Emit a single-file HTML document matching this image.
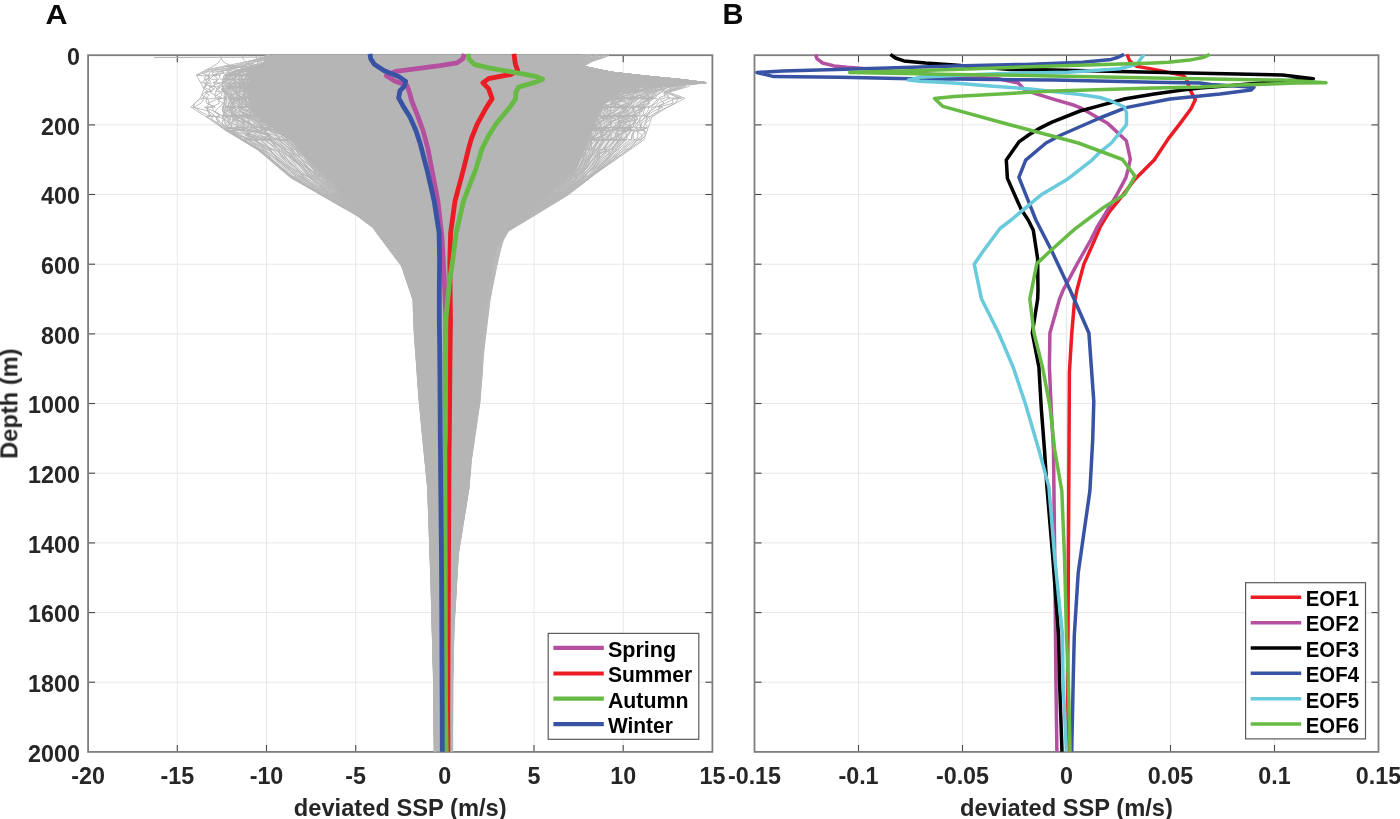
<!DOCTYPE html><html><head><meta charset="utf-8"><style>html,body{margin:0;padding:0;background:#fff;}svg{display:block;}text{font-family:"Liberation Sans",sans-serif;font-weight:bold;}</style></head><body><svg width="1400" height="819" viewBox="0 0 1400 819"><rect width="1400" height="819" fill="#fff"/><g stroke="#e7e9e9" stroke-width="1"><line x1="177.3" y1="55.2" x2="177.3" y2="751.9"/><line x1="266.5" y1="55.2" x2="266.5" y2="751.9"/><line x1="355.7" y1="55.2" x2="355.7" y2="751.9"/><line x1="444.8" y1="55.2" x2="444.8" y2="751.9"/><line x1="534.0" y1="55.2" x2="534.0" y2="751.9"/><line x1="623.2" y1="55.2" x2="623.2" y2="751.9"/><line x1="88.1" y1="124.9" x2="712.4" y2="124.9"/><line x1="88.1" y1="194.5" x2="712.4" y2="194.5"/><line x1="88.1" y1="264.2" x2="712.4" y2="264.2"/><line x1="88.1" y1="333.9" x2="712.4" y2="333.9"/><line x1="88.1" y1="403.5" x2="712.4" y2="403.5"/><line x1="88.1" y1="473.2" x2="712.4" y2="473.2"/><line x1="88.1" y1="542.9" x2="712.4" y2="542.9"/><line x1="88.1" y1="612.6" x2="712.4" y2="612.6"/><line x1="88.1" y1="682.2" x2="712.4" y2="682.2"/><line x1="858.5" y1="55.2" x2="858.5" y2="751.9"/><line x1="962.5" y1="55.2" x2="962.5" y2="751.9"/><line x1="1066.5" y1="55.2" x2="1066.5" y2="751.9"/><line x1="1170.5" y1="55.2" x2="1170.5" y2="751.9"/><line x1="1274.5" y1="55.2" x2="1274.5" y2="751.9"/><line x1="754.5" y1="124.9" x2="1378.5" y2="124.9"/><line x1="754.5" y1="194.5" x2="1378.5" y2="194.5"/><line x1="754.5" y1="264.2" x2="1378.5" y2="264.2"/><line x1="754.5" y1="333.9" x2="1378.5" y2="333.9"/><line x1="754.5" y1="403.5" x2="1378.5" y2="403.5"/><line x1="754.5" y1="473.2" x2="1378.5" y2="473.2"/><line x1="754.5" y1="542.9" x2="1378.5" y2="542.9"/><line x1="754.5" y1="612.6" x2="1378.5" y2="612.6"/><line x1="754.5" y1="682.2" x2="1378.5" y2="682.2"/></g><g stroke="#484848" stroke-width="1.1"><line x1="177.3" y1="751.9" x2="177.3" y2="744.9"/><line x1="177.3" y1="55.2" x2="177.3" y2="62.2"/><line x1="266.5" y1="751.9" x2="266.5" y2="744.9"/><line x1="266.5" y1="55.2" x2="266.5" y2="62.2"/><line x1="355.7" y1="751.9" x2="355.7" y2="744.9"/><line x1="355.7" y1="55.2" x2="355.7" y2="62.2"/><line x1="444.8" y1="751.9" x2="444.8" y2="744.9"/><line x1="444.8" y1="55.2" x2="444.8" y2="62.2"/><line x1="534.0" y1="751.9" x2="534.0" y2="744.9"/><line x1="534.0" y1="55.2" x2="534.0" y2="62.2"/><line x1="623.2" y1="751.9" x2="623.2" y2="744.9"/><line x1="623.2" y1="55.2" x2="623.2" y2="62.2"/><line x1="88.1" y1="124.9" x2="95.1" y2="124.9"/><line x1="712.4" y1="124.9" x2="705.4" y2="124.9"/><line x1="88.1" y1="194.5" x2="95.1" y2="194.5"/><line x1="712.4" y1="194.5" x2="705.4" y2="194.5"/><line x1="88.1" y1="264.2" x2="95.1" y2="264.2"/><line x1="712.4" y1="264.2" x2="705.4" y2="264.2"/><line x1="88.1" y1="333.9" x2="95.1" y2="333.9"/><line x1="712.4" y1="333.9" x2="705.4" y2="333.9"/><line x1="88.1" y1="403.5" x2="95.1" y2="403.5"/><line x1="712.4" y1="403.5" x2="705.4" y2="403.5"/><line x1="88.1" y1="473.2" x2="95.1" y2="473.2"/><line x1="712.4" y1="473.2" x2="705.4" y2="473.2"/><line x1="88.1" y1="542.9" x2="95.1" y2="542.9"/><line x1="712.4" y1="542.9" x2="705.4" y2="542.9"/><line x1="88.1" y1="612.6" x2="95.1" y2="612.6"/><line x1="712.4" y1="612.6" x2="705.4" y2="612.6"/><line x1="88.1" y1="682.2" x2="95.1" y2="682.2"/><line x1="712.4" y1="682.2" x2="705.4" y2="682.2"/></g><rect x="88.1" y="55.2" width="624.3" height="696.7" fill="none" stroke="#7e7e7e" stroke-width="1.8"/><g stroke="#484848" stroke-width="1.1"><line x1="858.5" y1="751.9" x2="858.5" y2="744.9"/><line x1="858.5" y1="55.2" x2="858.5" y2="62.2"/><line x1="962.5" y1="751.9" x2="962.5" y2="744.9"/><line x1="962.5" y1="55.2" x2="962.5" y2="62.2"/><line x1="1066.5" y1="751.9" x2="1066.5" y2="744.9"/><line x1="1066.5" y1="55.2" x2="1066.5" y2="62.2"/><line x1="1170.5" y1="751.9" x2="1170.5" y2="744.9"/><line x1="1170.5" y1="55.2" x2="1170.5" y2="62.2"/><line x1="1274.5" y1="751.9" x2="1274.5" y2="744.9"/><line x1="1274.5" y1="55.2" x2="1274.5" y2="62.2"/><line x1="754.5" y1="124.9" x2="761.5" y2="124.9"/><line x1="1378.5" y1="124.9" x2="1371.5" y2="124.9"/><line x1="754.5" y1="194.5" x2="761.5" y2="194.5"/><line x1="1378.5" y1="194.5" x2="1371.5" y2="194.5"/><line x1="754.5" y1="264.2" x2="761.5" y2="264.2"/><line x1="1378.5" y1="264.2" x2="1371.5" y2="264.2"/><line x1="754.5" y1="333.9" x2="761.5" y2="333.9"/><line x1="1378.5" y1="333.9" x2="1371.5" y2="333.9"/><line x1="754.5" y1="403.5" x2="761.5" y2="403.5"/><line x1="1378.5" y1="403.5" x2="1371.5" y2="403.5"/><line x1="754.5" y1="473.2" x2="761.5" y2="473.2"/><line x1="1378.5" y1="473.2" x2="1371.5" y2="473.2"/><line x1="754.5" y1="542.9" x2="761.5" y2="542.9"/><line x1="1378.5" y1="542.9" x2="1371.5" y2="542.9"/><line x1="754.5" y1="612.6" x2="761.5" y2="612.6"/><line x1="1378.5" y1="612.6" x2="1371.5" y2="612.6"/><line x1="754.5" y1="682.2" x2="761.5" y2="682.2"/><line x1="1378.5" y1="682.2" x2="1371.5" y2="682.2"/></g><rect x="754.5" y="55.2" width="624.0" height="696.7" fill="none" stroke="#7e7e7e" stroke-width="1.8"/><polygon points="270.0,55.0 266.0,64.7 258.0,70.0 250.0,74.4 246.0,90.0 250.0,110.0 262.0,121.7 290.0,140.0 316.0,169.3 345.0,198.6 376.0,225.0 392.0,240.0 404.0,258.4 415.5,300.0 416.5,330.0 421.0,400.0 429.0,488.0 432.0,576.0 434.5,680.0 435.0,751.6 451.3,751.6 451.5,680.0 452.5,629.0 456.5,554.0 466.0,488.0 468.0,460.0 474.0,402.0 476.0,350.0 481.0,300.0 487.0,270.0 494.0,246.0 505.0,231.0 525.6,212.0 551.0,192.0 575.0,171.0 585.0,150.0 592.0,131.0 605.0,102.4 625.0,90.0 641.0,85.5 670.0,84.7 705.0,82.6 679.0,79.3 645.0,76.0 612.0,72.3 583.0,66.3 581.0,55.0" fill="#b4b5b4"/><polygon points="268.0,55.0 267.9,55.2 266.8,57.0 266.1,58.0 265.4,59.2 264.3,61.0 263.7,62.0 262.9,63.2 255.5,66.0 254.0,66.3 249.5,67.2 236.6,70.0 233.1,71.2 230.0,72.3 223.9,75.0 223.8,75.2 223.7,76.0 223.0,79.2 223.0,79.3 222.3,82.6 222.2,83.2 221.9,84.7 221.5,86.4 221.4,87.2 221.0,89.0 221.7,91.2 222.0,92.3 222.9,95.2 223.7,98.0 223.8,98.3 224.0,99.2 223.2,103.2 222.5,107.0 222.5,107.2 222.2,111.2 222.9,115.2 223.0,116.0 223.1,116.7 223.6,119.2 224.7,123.2 226.7,127.2 227.0,128.0 228.0,130.0 230.0,131.2 236.6,135.2 243.2,139.2 244.0,139.7 244.5,140.0 259.4,149.0 261.0,150.0 265.7,154.0 270.3,158.0 280.9,167.0 289.0,174.0 291.4,176.0 293.0,177.4 306.0,185.0 318.0,192.0 321.5,194.0 323.2,195.0 337.2,203.0 352.9,212.0 359.0,215.5 359.3,215.7 366.5,221.0 375.0,227.2 377.0,230.0 377.7,231.0 383.5,239.0 384.2,240.0 389.9,248.0 392.8,252.0 396.3,257.0 402.8,266.0 403.0,266.3 404.2,270.0 405.8,275.0 408.8,284.0 411.7,293.0 414.0,300.0 414.1,302.0 414.4,311.0 414.7,320.0 415.0,329.0 415.0,330.0 415.6,338.0 416.2,347.0 416.4,350.0 416.9,356.0 417.5,365.0 418.1,374.0 418.8,383.0 419.4,392.0 420.0,400.0 420.1,401.0 420.2,402.0 420.9,410.0 421.8,419.0 422.6,428.0 423.5,437.0 424.3,446.0 425.2,455.0 425.7,460.0 426.0,464.0 426.9,473.0 427.7,482.0 428.3,488.0 428.4,491.0 428.7,500.0 429.0,509.0 429.3,518.0 429.6,527.0 429.9,536.0 430.2,545.0 430.6,554.0 430.9,563.0 431.2,572.0 431.3,576.0 431.4,581.0 431.7,590.0 431.9,599.0 432.1,608.0 432.4,617.0 432.6,626.0 432.7,629.0 432.8,635.0 433.1,644.0 433.3,653.0 433.5,662.0 433.8,671.0 434.0,680.0 434.1,689.0 434.2,698.0 434.2,707.0 434.3,716.0 434.4,725.0 434.5,734.0 434.5,743.0 434.6,751.6 434.6,751.8 435.0,751.8 435.0,751.6 434.9,743.0 434.9,734.0 434.8,725.0 434.8,716.0 434.7,707.0 434.6,698.0 434.6,689.0 434.5,680.0 434.3,671.0 434.1,662.0 433.9,653.0 433.6,644.0 433.4,635.0 433.3,629.0 433.2,626.0 433.0,617.0 432.8,608.0 432.6,599.0 432.3,590.0 432.1,581.0 432.0,576.0 431.9,572.0 431.6,563.0 431.2,554.0 430.9,545.0 430.6,536.0 430.3,527.0 430.0,518.0 429.7,509.0 429.4,500.0 429.1,491.0 429.0,488.0 428.5,482.0 427.6,473.0 426.8,464.0 426.5,460.0 426.0,455.0 425.2,446.0 424.4,437.0 423.5,428.0 422.7,419.0 421.9,410.0 421.2,402.0 421.1,401.0 421.0,400.0 420.5,392.0 419.9,383.0 419.3,374.0 418.8,365.0 418.2,356.0 417.8,350.0 417.6,347.0 417.0,338.0 416.5,330.0 416.5,329.0 416.2,320.0 415.9,311.0 415.6,302.0 415.5,300.0 413.6,293.0 411.1,284.0 408.6,275.0 407.2,270.0 406.2,266.3 406.1,266.0 403.1,257.0 399.8,252.0 397.2,248.0 392.0,240.0 390.9,239.0 382.4,231.0 381.3,230.0 378.3,227.2 371.3,221.0 365.1,215.7 364.8,215.5 360.7,212.0 350.2,203.0 341.4,195.0 340.4,194.0 338.5,192.0 331.5,185.0 324.0,177.4 322.6,176.0 320.7,174.0 314.0,167.0 306.0,158.0 302.4,154.0 298.9,150.0 298.0,149.0 290.0,140.0 289.5,139.7 288.8,139.2 282.7,135.2 276.5,131.2 274.7,130.0 271.6,128.0 270.4,127.2 264.3,123.2 259.4,119.2 256.9,116.7 256.2,116.0 255.3,115.2 251.2,111.2 249.4,107.2 249.4,107.0 248.6,103.2 247.8,99.2 247.7,98.3 247.6,98.0 247.0,95.2 246.5,92.3 246.2,91.2 246.3,89.0 246.7,87.2 246.9,86.4 247.4,84.7 247.7,83.2 247.9,82.6 248.7,79.3 248.8,79.2 249.6,76.0 249.8,75.2 249.8,75.0 253.8,72.3 255.8,71.2 258.0,70.0 262.2,67.2 263.6,66.3 264.0,66.0 266.6,63.2 267.1,62.0 267.5,61.0 268.3,59.2 268.8,58.0 269.2,57.0 269.9,55.2 270.0,55.0" fill="#b4b5b4" fill-opacity="0.3"/><polygon points="600.0,55.0 599.8,55.2 598.0,57.0 596.0,58.0 593.6,59.2 590.0,61.0 588.7,62.0 587.1,63.2 583.4,66.0 583.0,66.3 587.4,67.2 600.9,70.0 606.7,71.2 612.0,72.3 636.1,75.0 637.9,75.2 645.0,76.0 678.0,79.2 679.0,79.3 706.0,82.6 698.6,83.2 680.0,84.7 671.1,86.4 667.7,87.2 664.8,89.0 661.3,91.2 659.7,92.3 656.8,95.2 654.0,98.0 653.7,98.3 652.8,99.2 649.3,103.2 646.1,107.0 645.9,107.2 642.5,111.2 639.8,115.2 639.4,116.0 639.0,116.7 637.7,119.2 635.6,123.2 633.5,127.2 633.1,128.0 632.0,130.0 631.3,131.2 629.2,135.2 627.0,139.2 626.7,139.7 626.5,140.0 618.0,149.0 617.0,150.0 613.0,154.0 609.0,158.0 600.5,167.0 593.8,174.0 591.9,176.0 590.6,177.4 578.9,185.0 567.8,192.0 564.6,194.0 563.0,195.0 550.2,203.0 535.8,212.0 530.2,215.5 529.9,215.7 521.8,221.0 512.3,227.2 508.0,230.0 506.5,231.0 501.4,239.0 500.8,240.0 496.6,248.0 495.8,252.0 494.7,257.0 492.8,266.0 492.8,266.3 492.0,270.0 491.2,275.0 489.7,284.0 488.2,293.0 487.0,300.0 486.8,302.0 485.7,311.0 484.6,320.0 483.5,329.0 483.4,330.0 482.4,338.0 481.4,347.0 481.0,350.0 480.7,356.0 480.1,365.0 479.6,374.0 479.1,383.0 478.6,392.0 478.1,400.0 478.1,401.0 478.0,402.0 476.9,410.0 475.7,419.0 474.4,428.0 473.2,437.0 471.9,446.0 470.7,455.0 470.0,460.0 469.7,464.0 469.1,473.0 468.4,482.0 468.0,488.0 467.5,491.0 466.1,500.0 464.7,509.0 463.2,518.0 461.8,527.0 460.4,536.0 458.9,545.0 457.5,554.0 457.0,563.0 456.5,572.0 456.3,576.0 456.0,581.0 455.5,590.0 455.0,599.0 454.5,608.0 454.0,617.0 453.5,626.0 453.3,629.0 453.2,635.0 453.0,644.0 452.8,653.0 452.6,662.0 452.4,671.0 452.2,680.0 452.2,689.0 452.1,698.0 452.1,707.0 452.1,716.0 452.1,725.0 452.0,734.0 452.0,743.0 452.0,751.6 452.0,751.8 451.3,751.8 451.3,751.6 451.3,743.0 451.3,734.0 451.4,725.0 451.4,716.0 451.4,707.0 451.4,698.0 451.5,689.0 451.5,680.0 451.7,671.0 451.9,662.0 452.0,653.0 452.2,644.0 452.4,635.0 452.5,629.0 452.7,626.0 453.1,617.0 453.6,608.0 454.1,599.0 454.6,590.0 455.1,581.0 455.3,576.0 455.5,572.0 456.0,563.0 456.5,554.0 457.8,545.0 459.1,536.0 460.4,527.0 461.7,518.0 463.0,509.0 464.3,500.0 465.6,491.0 466.0,488.0 466.4,482.0 467.1,473.0 467.7,464.0 468.0,460.0 468.5,455.0 469.4,446.0 470.4,437.0 471.3,428.0 472.2,419.0 473.2,410.0 474.0,402.0 474.0,401.0 474.1,400.0 474.4,392.0 474.7,383.0 475.1,374.0 475.4,365.0 475.8,356.0 476.0,350.0 476.3,347.0 477.2,338.0 478.0,330.0 478.1,329.0 479.0,320.0 479.9,311.0 480.8,302.0 481.0,300.0 482.4,293.0 484.2,284.0 486.0,275.0 487.0,270.0 488.1,266.3 488.2,266.0 490.8,257.0 492.2,252.0 493.4,248.0 498.4,240.0 499.1,239.0 505.0,231.0 506.1,230.0 509.1,227.2 515.8,221.0 521.6,215.7 521.8,215.5 525.6,212.0 537.0,203.0 547.2,195.0 548.5,194.0 551.0,192.0 559.0,185.0 567.7,177.4 569.3,176.0 571.6,174.0 576.9,167.0 581.2,158.0 583.1,154.0 585.0,150.0 585.4,149.0 588.7,140.0 588.8,139.7 589.0,139.2 590.5,135.2 591.9,131.2 592.5,130.0 593.4,128.0 593.7,127.2 595.5,123.2 597.4,119.2 598.5,116.7 598.8,116.0 599.2,115.2 601.0,111.2 602.8,107.2 602.9,107.0 604.6,103.2 610.2,99.2 611.6,98.3 612.1,98.0 616.6,95.2 621.3,92.3 623.1,91.2 628.6,89.0 635.0,87.2 637.8,86.4 670.0,84.7 695.0,83.2 705.0,82.6 679.0,79.3 678.0,79.2 645.0,76.0 637.9,75.2 636.1,75.0 612.0,72.3 606.7,71.2 600.9,70.0 587.4,67.2 583.0,66.3 582.9,66.0 582.5,63.2 582.2,62.0 582.1,61.0 581.7,59.2 581.5,58.0 581.4,57.0 581.0,55.2 581.0,55.0" fill="#b4b5b4" fill-opacity="0.3"/><g fill="none" stroke="#b4b5b4" stroke-width="0.9" stroke-linejoin="bevel"><polyline points="269.6,55.0 269.8,55.2 269.2,57.0 268.8,58.0 268.3,59.2 267.5,61.0 267.1,62.0 266.6,63.2 264.0,66.0 263.6,66.3 262.2,67.2 256.1,70.0 253.8,71.2 249.7,72.3 249.7,75.0 249.8,75.2 249.6,76.0 248.8,79.2 246.2,79.3 247.9,82.6 247.7,83.2 247.4,84.7 243.1,86.4 246.1,87.2 246.3,89.0 246.2,91.2 244.9,92.3 247.0,95.2 247.6,98.0 247.7,98.3 246.1,99.2 243.6,103.2 249.4,107.0 249.4,107.2 251.2,111.2 255.3,115.2 256.2,116.0 256.9,116.7 255.4,119.2 264.3,123.2 270.4,127.2 268.8,128.0 274.7,130.0 276.5,131.2 282.7,135.2 288.8,139.2 289.5,139.7 289.9,140.0 298.0,149.0 298.9,150.0 300.9,154.0 304.8,158.0 312.5,167.0 319.2,174.0 320.8,176.0 324.0,177.4 330.7,185.0 338.5,192.0 340.4,194.0 341.4,195.0 349.6,203.0 360.3,212.0 364.8,215.5 364.7,215.7 371.3,221.0 378.3,227.2 381.3,230.0 382.4,231.0 390.8,239.0 391.4,240.0 397.2,248.0 399.6,252.0 403.1,257.0 405.9,266.0 406.1,266.3 407.1,270.0 408.5,275.0 411.1,284.0 413.6,293.0 415.4,300.0 415.6,302.0 415.9,311.0 416.1,320.0 416.5,329.0 416.5,330.0 416.9,338.0 417.6,347.0 417.8,350.0 418.2,356.0 418.8,365.0 419.3,374.0 419.9,383.0 420.5,392.0 421.0,400.0 421.1,401.0 421.2,402.0 421.9,410.0 422.7,419.0 423.5,428.0 424.3,437.0 425.2,446.0 426.0,455.0 426.5,460.0 426.8,464.0 427.6,473.0 428.5,482.0 429.0,488.0 429.1,491.0 429.4,500.0 429.7,509.0 430.0,518.0 430.3,527.0 430.6,536.0 430.9,545.0 431.2,554.0 431.5,563.0 431.8,572.0 432.0,576.0 432.1,581.0 432.3,590.0 432.6,599.0 432.8,608.0 433.0,617.0 433.2,626.0 433.3,629.0 433.4,635.0 433.6,644.0 433.8,653.0 434.1,662.0 434.3,671.0 434.5,680.0 434.5,689.0 434.6,698.0 434.7,707.0 434.7,716.0 434.8,725.0 434.9,734.0 434.9,743.0 435.0,751.6 435.0,751.8"/><polyline points="270.0,55.0 269.9,55.2 269.1,57.0 268.4,58.0 268.3,59.2 267.3,61.0 266.9,62.0 266.6,63.2 263.2,66.0 263.0,66.3 262.2,67.2 255.5,70.0 255.8,71.2 253.4,72.3 249.5,75.0 248.4,75.2 249.6,76.0 248.6,79.2 248.7,79.3 245.1,82.6 247.7,83.2 246.9,84.7 246.9,86.4 246.7,87.2 239.2,89.0 246.1,91.2 246.5,92.3 243.4,95.2 247.6,98.0 246.5,98.3 245.5,99.2 248.6,103.2 249.4,107.0 249.4,107.2 251.2,111.2 255.3,115.2 256.2,116.0 256.9,116.7 255.3,119.2 261.3,123.2 262.3,127.2 268.0,128.0 274.7,130.0 276.5,131.2 282.7,135.2 288.8,139.2 289.5,139.7 289.0,140.0 296.5,149.0 298.9,150.0 302.4,154.0 306.0,158.0 313.7,167.0 320.0,174.0 321.7,176.0 324.0,177.4 329.2,185.0 337.3,192.0 340.3,194.0 341.4,195.0 350.2,203.0 360.6,212.0 364.8,215.5 364.9,215.7 371.1,221.0 378.1,227.2 381.1,230.0 382.4,231.0 390.7,239.0 392.0,240.0 397.2,248.0 399.2,252.0 403.1,257.0 405.8,266.0 406.2,266.3 407.1,270.0 408.4,275.0 411.0,284.0 413.5,293.0 415.5,300.0 415.6,302.0 415.9,311.0 416.2,320.0 416.4,329.0 416.5,330.0 416.9,338.0 417.6,347.0 417.8,350.0 418.1,356.0 418.8,365.0 419.3,374.0 419.9,383.0 420.5,392.0 421.0,400.0 421.0,401.0 421.2,402.0 421.9,410.0 422.7,419.0 423.5,428.0 424.4,437.0 425.2,446.0 425.9,455.0 426.4,460.0 426.8,464.0 427.6,473.0 428.4,482.0 429.0,488.0 429.0,491.0 429.4,500.0 429.7,509.0 430.0,518.0 430.3,527.0 430.6,536.0 430.9,545.0 431.2,554.0 431.6,563.0 431.9,572.0 432.0,576.0 432.0,581.0 432.3,590.0 432.5,599.0 432.7,608.0 433.0,617.0 433.2,626.0 433.3,629.0 433.4,635.0 433.6,644.0 433.8,653.0 434.1,662.0 434.3,671.0 434.5,680.0 434.6,689.0 434.6,698.0 434.7,707.0 434.7,716.0 434.8,725.0 434.9,734.0 434.9,743.0 435.0,751.6 435.0,751.8"/><polyline points="269.9,55.0 269.9,55.2 269.0,57.0 268.8,58.0 267.7,59.2 266.7,61.0 267.1,62.0 266.5,63.2 263.6,66.0 262.1,66.3 259.5,67.2 258.0,70.0 255.8,71.2 253.8,72.3 249.8,75.0 249.8,75.2 247.9,76.0 248.8,79.2 244.1,79.3 244.8,82.6 247.7,83.2 247.4,84.7 246.9,86.4 242.5,87.2 246.3,89.0 246.2,91.2 245.9,92.3 245.5,95.2 247.6,98.0 243.1,98.3 246.6,99.2 246.8,103.2 249.4,107.0 248.8,107.2 250.9,111.2 255.3,115.2 254.3,116.0 256.9,116.7 258.5,119.2 264.3,123.2 260.3,127.2 268.9,128.0 269.4,130.0 270.9,131.2 282.7,135.2 288.8,139.2 289.5,139.7 287.1,140.0 296.8,149.0 296.6,150.0 300.0,154.0 306.0,158.0 312.6,167.0 317.3,174.0 322.5,176.0 324.0,177.4 331.1,185.0 338.3,192.0 339.6,194.0 341.4,195.0 349.8,203.0 360.7,212.0 364.5,215.5 364.5,215.7 370.9,221.0 378.3,227.2 381.2,230.0 382.4,231.0 390.6,239.0 391.8,240.0 397.2,248.0 399.5,252.0 402.9,257.0 405.9,266.0 406.1,266.3 407.1,270.0 408.6,275.0 411.1,284.0 413.5,293.0 415.4,300.0 415.5,302.0 415.7,311.0 416.2,320.0 416.4,329.0 416.4,330.0 417.0,338.0 417.5,347.0 417.8,350.0 418.1,356.0 418.7,365.0 419.2,374.0 419.9,383.0 420.4,392.0 421.0,400.0 421.0,401.0 421.2,402.0 421.9,410.0 422.7,419.0 423.5,428.0 424.4,437.0 425.2,446.0 426.0,455.0 426.5,460.0 426.8,464.0 427.6,473.0 428.5,482.0 429.0,488.0 429.1,491.0 429.4,500.0 429.7,509.0 430.0,518.0 430.3,527.0 430.6,536.0 430.9,545.0 431.2,554.0 431.5,563.0 431.8,572.0 432.0,576.0 432.1,581.0 432.3,590.0 432.5,599.0 432.7,608.0 432.9,617.0 433.2,626.0 433.3,629.0 433.4,635.0 433.6,644.0 433.8,653.0 434.1,662.0 434.3,671.0 434.5,680.0 434.6,689.0 434.6,698.0 434.7,707.0 434.7,716.0 434.8,725.0 434.9,734.0 434.9,743.0 435.0,751.6 435.0,751.8"/><polyline points="269.7,55.0 269.8,55.2 269.2,57.0 268.7,58.0 268.3,59.2 267.5,61.0 267.1,62.0 266.1,63.2 262.2,66.0 263.6,66.3 260.3,67.2 254.4,70.0 255.8,71.2 252.8,72.3 248.7,75.0 248.1,75.2 249.6,76.0 248.4,79.2 244.8,79.3 243.4,82.6 241.8,83.2 247.0,84.7 241.0,86.4 243.8,87.2 246.3,89.0 243.2,91.2 246.1,92.3 244.6,95.2 246.7,98.0 243.6,98.3 246.1,99.2 248.1,103.2 245.5,107.0 247.5,107.2 251.0,111.2 249.6,115.2 255.9,116.0 256.9,116.7 259.4,119.2 264.3,123.2 270.4,127.2 261.2,128.0 274.7,130.0 274.3,131.2 282.7,135.2 288.8,139.2 280.4,139.7 286.2,140.0 297.1,149.0 297.0,150.0 301.9,154.0 305.4,158.0 313.6,167.0 320.3,174.0 320.7,176.0 321.8,177.4 329.8,185.0 337.6,192.0 340.4,194.0 340.6,195.0 350.0,203.0 360.1,212.0 364.4,215.5 364.6,215.7 371.1,221.0 378.3,227.2 381.0,230.0 381.9,231.0 390.9,239.0 391.6,240.0 396.5,248.0 399.8,252.0 402.3,257.0 406.0,266.0 406.2,266.3 406.9,270.0 408.4,275.0 411.0,284.0 413.4,293.0 415.5,300.0 415.4,302.0 415.8,311.0 416.1,320.0 416.4,329.0 416.4,330.0 416.9,338.0 417.6,347.0 417.7,350.0 418.1,356.0 418.7,365.0 419.3,374.0 419.9,383.0 420.5,392.0 420.9,400.0 421.0,401.0 421.1,402.0 421.8,410.0 422.7,419.0 423.5,428.0 424.3,437.0 425.1,446.0 426.0,455.0 426.4,460.0 426.7,464.0 427.6,473.0 428.5,482.0 429.0,488.0 429.0,491.0 429.4,500.0 429.7,509.0 430.0,518.0 430.3,527.0 430.6,536.0 430.9,545.0 431.2,554.0 431.5,563.0 431.8,572.0 431.9,576.0 432.0,581.0 432.3,590.0 432.5,599.0 432.7,608.0 433.0,617.0 433.2,626.0 433.2,629.0 433.4,635.0 433.6,644.0 433.8,653.0 434.1,662.0 434.3,671.0 434.5,680.0 434.6,689.0 434.6,698.0 434.7,707.0 434.7,716.0 434.8,725.0 434.9,734.0 434.9,743.0 435.0,751.6 435.0,751.8"/><polyline points="270.0,55.0 269.7,55.2 268.8,57.0 268.5,58.0 268.2,59.2 267.1,61.0 267.1,62.0 266.2,63.2 262.2,66.0 263.6,66.3 262.2,67.2 256.2,70.0 252.0,71.2 249.0,72.3 246.3,75.0 249.7,75.2 249.6,76.0 246.3,79.2 245.9,79.3 247.9,82.6 245.8,83.2 244.7,84.7 242.5,86.4 246.7,87.2 243.1,89.0 246.2,91.2 245.8,92.3 245.5,95.2 242.3,98.0 238.1,98.3 245.6,99.2 245.6,103.2 244.8,107.0 249.4,107.2 247.0,111.2 255.3,115.2 248.4,116.0 249.6,116.7 255.1,119.2 264.3,123.2 260.1,127.2 267.4,128.0 270.9,130.0 270.6,131.2 282.7,135.2 283.6,139.2 281.8,139.7 286.2,140.0 295.1,149.0 297.7,150.0 298.9,154.0 303.2,158.0 311.6,167.0 319.2,174.0 319.4,176.0 320.3,177.4 329.4,185.0 336.3,192.0 338.1,194.0 339.0,195.0 349.1,203.0 360.3,212.0 364.5,215.5 364.7,215.7 370.9,221.0 378.0,227.2 381.1,230.0 382.0,231.0 390.7,239.0 391.1,240.0 396.8,248.0 399.2,252.0 402.8,257.0 405.9,266.0 406.0,266.3 406.8,270.0 408.4,275.0 410.9,284.0 413.5,293.0 415.4,300.0 415.4,302.0 415.7,311.0 416.1,320.0 416.4,329.0 416.4,330.0 416.9,338.0 417.6,347.0 417.7,350.0 418.0,356.0 418.7,365.0 419.2,374.0 419.8,383.0 420.4,392.0 420.9,400.0 420.9,401.0 421.1,402.0 421.9,410.0 422.6,419.0 423.5,428.0 424.3,437.0 425.2,446.0 425.9,455.0 426.4,460.0 426.7,464.0 427.6,473.0 428.4,482.0 428.9,488.0 429.0,491.0 429.4,500.0 429.7,509.0 430.0,518.0 430.3,527.0 430.6,536.0 430.8,545.0 431.2,554.0 431.5,563.0 431.8,572.0 431.9,576.0 432.1,581.0 432.2,590.0 432.5,599.0 432.8,608.0 433.0,617.0 433.2,626.0 433.2,629.0 433.4,635.0 433.6,644.0 433.8,653.0 434.0,662.0 434.3,671.0 434.5,680.0 434.5,689.0 434.6,698.0 434.7,707.0 434.7,716.0 434.8,725.0 434.9,734.0 434.9,743.0 435.0,751.6 435.0,751.8"/><polyline points="269.9,55.0 269.9,55.2 269.2,57.0 268.5,58.0 267.7,59.2 267.3,61.0 266.5,62.0 266.2,63.2 263.1,66.0 262.5,66.3 261.0,67.2 253.8,70.0 252.6,71.2 253.0,72.3 247.1,75.0 247.6,75.2 245.9,76.0 245.9,79.2 245.3,79.3 247.9,82.6 244.4,83.2 241.6,84.7 246.9,86.4 240.3,87.2 243.1,89.0 244.5,91.2 246.5,92.3 242.2,95.2 247.6,98.0 246.7,98.3 244.3,99.2 248.6,103.2 249.4,107.0 249.4,107.2 248.8,111.2 250.4,115.2 251.7,116.0 252.4,116.7 257.3,119.2 260.0,123.2 269.4,127.2 258.6,128.0 269.4,130.0 276.5,131.2 282.7,135.2 277.2,139.2 289.5,139.7 286.6,140.0 293.8,149.0 297.0,150.0 297.4,154.0 300.3,158.0 312.0,167.0 316.3,174.0 320.8,176.0 322.4,177.4 328.9,185.0 336.4,192.0 339.1,194.0 339.1,195.0 349.7,203.0 360.3,212.0 364.6,215.5 364.4,215.7 370.7,221.0 377.9,227.2 381.2,230.0 381.9,231.0 390.1,239.0 391.8,240.0 396.8,248.0 399.0,252.0 402.3,257.0 405.8,266.0 405.8,266.3 406.9,270.0 408.3,275.0 410.9,284.0 413.5,293.0 415.4,300.0 415.5,302.0 415.6,311.0 416.0,320.0 416.3,329.0 416.4,330.0 416.9,338.0 417.5,347.0 417.6,350.0 418.1,356.0 418.6,365.0 419.3,374.0 419.8,383.0 420.3,392.0 421.0,400.0 421.0,401.0 421.1,402.0 421.8,410.0 422.7,419.0 423.5,428.0 424.2,437.0 425.1,446.0 426.0,455.0 426.4,460.0 426.8,464.0 427.5,473.0 428.4,482.0 428.9,488.0 429.0,491.0 429.4,500.0 429.7,509.0 429.9,518.0 430.3,527.0 430.6,536.0 430.8,545.0 431.2,554.0 431.5,563.0 431.8,572.0 431.9,576.0 432.1,581.0 432.3,590.0 432.5,599.0 432.7,608.0 433.0,617.0 433.2,626.0 433.2,629.0 433.4,635.0 433.6,644.0 433.8,653.0 434.1,662.0 434.2,671.0 434.5,680.0 434.5,689.0 434.6,698.0 434.6,707.0 434.7,716.0 434.8,725.0 434.8,734.0 434.9,743.0 435.0,751.6 434.9,751.8"/><polyline points="269.5,55.0 269.4,55.2 268.9,57.0 268.4,58.0 268.0,59.2 267.5,61.0 266.7,62.0 266.1,63.2 263.6,66.0 260.7,66.3 262.2,67.2 257.2,70.0 254.7,71.2 247.9,72.3 247.4,75.0 247.6,75.2 248.8,76.0 247.7,79.2 248.7,79.3 242.3,82.6 243.2,83.2 241.8,84.7 245.6,86.4 237.4,87.2 245.7,89.0 246.2,91.2 244.3,92.3 243.8,95.2 243.0,98.0 247.3,98.3 243.6,99.2 241.3,103.2 248.5,107.0 248.2,107.2 251.2,111.2 250.7,115.2 249.4,116.0 250.3,116.7 252.2,119.2 254.0,123.2 264.7,127.2 262.1,128.0 273.6,130.0 274.7,131.2 276.1,135.2 287.1,139.2 281.6,139.7 282.1,140.0 292.8,149.0 295.5,150.0 299.2,154.0 299.8,158.0 311.1,167.0 316.8,174.0 319.3,176.0 320.3,177.4 327.4,185.0 336.5,192.0 339.3,194.0 338.2,195.0 348.5,203.0 359.6,212.0 364.2,215.5 364.2,215.7 370.5,221.0 377.8,227.2 380.9,230.0 381.9,231.0 389.9,239.0 391.0,240.0 396.2,248.0 399.2,252.0 402.9,257.0 405.6,266.0 405.7,266.3 406.8,270.0 408.1,275.0 410.7,284.0 413.4,293.0 415.3,300.0 415.4,302.0 415.6,311.0 416.0,320.0 416.3,329.0 416.3,330.0 416.8,338.0 417.5,347.0 417.6,350.0 418.1,356.0 418.6,365.0 419.1,374.0 419.7,383.0 420.3,392.0 420.9,400.0 421.0,401.0 421.0,402.0 421.8,410.0 422.6,419.0 423.5,428.0 424.3,437.0 425.1,446.0 425.9,455.0 426.4,460.0 426.8,464.0 427.6,473.0 428.3,482.0 428.9,488.0 429.0,491.0 429.3,500.0 429.7,509.0 429.9,518.0 430.2,527.0 430.6,536.0 430.9,545.0 431.1,554.0 431.5,563.0 431.7,572.0 431.9,576.0 432.0,581.0 432.2,590.0 432.4,599.0 432.7,608.0 432.9,617.0 433.1,626.0 433.2,629.0 433.3,635.0 433.6,644.0 433.8,653.0 434.0,662.0 434.2,671.0 434.4,680.0 434.5,689.0 434.6,698.0 434.6,707.0 434.7,716.0 434.8,725.0 434.8,734.0 434.9,743.0 434.9,751.6 435.0,751.8"/><polyline points="269.8,55.0 269.6,55.2 269.1,57.0 268.1,58.0 268.3,59.2 266.6,61.0 266.8,62.0 266.5,63.2 262.6,66.0 263.6,66.3 259.7,67.2 253.2,70.0 253.8,71.2 251.3,72.3 243.6,75.0 247.8,75.2 245.8,76.0 244.2,79.2 241.0,79.3 245.5,82.6 244.0,83.2 240.8,84.7 246.9,86.4 243.7,87.2 246.3,89.0 246.2,91.2 238.1,92.3 243.0,95.2 240.6,98.0 244.8,98.3 243.1,99.2 246.1,103.2 247.0,107.0 245.7,107.2 246.7,111.2 245.7,115.2 252.0,116.0 250.7,116.7 255.2,119.2 258.0,123.2 269.8,127.2 260.3,128.0 270.4,130.0 269.6,131.2 277.0,135.2 277.7,139.2 280.6,139.7 283.4,140.0 292.1,149.0 292.9,150.0 296.0,154.0 300.1,158.0 307.5,167.0 314.0,174.0 317.3,176.0 321.2,177.4 326.1,185.0 333.7,192.0 338.0,194.0 339.1,195.0 349.4,203.0 359.4,212.0 364.2,215.5 363.8,215.7 371.1,221.0 377.9,227.2 380.6,230.0 381.8,231.0 390.1,239.0 390.8,240.0 396.3,248.0 398.9,252.0 402.1,257.0 405.7,266.0 405.8,266.3 406.7,270.0 408.2,275.0 410.7,284.0 413.4,293.0 415.2,300.0 415.4,302.0 415.6,311.0 416.1,320.0 416.3,329.0 416.4,330.0 416.7,338.0 417.4,347.0 417.7,350.0 418.0,356.0 418.5,365.0 419.2,374.0 419.7,383.0 420.4,392.0 420.9,400.0 420.9,401.0 420.9,402.0 421.8,410.0 422.6,419.0 423.4,428.0 424.2,437.0 425.1,446.0 425.9,455.0 426.4,460.0 426.7,464.0 427.5,473.0 428.3,482.0 428.9,488.0 429.0,491.0 429.3,500.0 429.6,509.0 429.9,518.0 430.3,527.0 430.6,536.0 430.8,545.0 431.2,554.0 431.5,563.0 431.7,572.0 432.0,576.0 432.0,581.0 432.3,590.0 432.5,599.0 432.7,608.0 432.9,617.0 433.1,626.0 433.2,629.0 433.3,635.0 433.6,644.0 433.8,653.0 434.0,662.0 434.2,671.0 434.5,680.0 434.5,689.0 434.5,698.0 434.6,707.0 434.7,716.0 434.8,725.0 434.8,734.0 434.9,743.0 434.9,751.6 434.9,751.8"/><polyline points="269.1,55.0 269.7,55.2 268.9,57.0 268.4,58.0 267.7,59.2 266.9,61.0 266.6,62.0 265.7,63.2 262.1,66.0 262.3,66.3 262.2,67.2 252.7,70.0 254.2,71.2 251.4,72.3 245.9,75.0 248.7,75.2 247.4,76.0 244.3,79.2 245.4,79.3 242.9,82.6 245.8,83.2 243.8,84.7 245.5,86.4 243.3,87.2 241.4,89.0 242.8,91.2 246.0,92.3 243.6,95.2 243.4,98.0 241.1,98.3 244.0,99.2 245.5,103.2 248.2,107.0 239.7,107.2 249.2,111.2 253.7,115.2 251.2,116.0 256.9,116.7 249.7,119.2 257.1,123.2 261.1,127.2 268.7,128.0 269.4,130.0 264.9,131.2 270.9,135.2 268.4,139.2 277.0,139.7 285.8,140.0 291.3,149.0 293.0,150.0 294.6,154.0 300.1,158.0 307.7,167.0 315.7,174.0 316.6,176.0 316.9,177.4 327.8,185.0 336.7,192.0 338.0,194.0 337.2,195.0 347.9,203.0 359.5,212.0 364.1,215.5 363.9,215.7 370.4,221.0 377.8,227.2 380.7,230.0 381.6,231.0 389.8,239.0 390.5,240.0 395.6,248.0 399.2,252.0 402.3,257.0 405.6,266.0 405.6,266.3 406.9,270.0 408.2,275.0 410.7,284.0 413.3,293.0 415.3,300.0 415.3,302.0 415.6,311.0 415.9,320.0 416.2,329.0 416.2,330.0 416.8,338.0 417.4,347.0 417.5,350.0 417.9,356.0 418.5,365.0 419.1,374.0 419.7,383.0 420.3,392.0 420.9,400.0 420.9,401.0 421.0,402.0 421.7,410.0 422.6,419.0 423.4,428.0 424.2,437.0 425.0,446.0 425.8,455.0 426.3,460.0 426.7,464.0 427.5,473.0 428.3,482.0 428.9,488.0 429.0,491.0 429.3,500.0 429.6,509.0 429.9,518.0 430.2,527.0 430.5,536.0 430.8,545.0 431.2,554.0 431.4,563.0 431.7,572.0 431.9,576.0 432.0,581.0 432.3,590.0 432.4,599.0 432.6,608.0 432.8,617.0 433.1,626.0 433.2,629.0 433.3,635.0 433.5,644.0 433.8,653.0 433.9,662.0 434.2,671.0 434.4,680.0 434.5,689.0 434.6,698.0 434.6,707.0 434.7,716.0 434.7,725.0 434.8,734.0 434.9,743.0 434.9,751.6 434.9,751.8"/><polyline points="269.2,55.0 269.8,55.2 268.5,57.0 267.9,58.0 267.6,59.2 266.4,61.0 267.1,62.0 266.0,63.2 263.4,66.0 262.1,66.3 259.9,67.2 252.9,70.0 253.4,71.2 247.2,72.3 249.0,75.0 242.3,75.2 245.3,76.0 248.4,79.2 248.4,79.3 247.6,82.6 245.4,83.2 242.2,84.7 238.8,86.4 239.9,87.2 244.9,89.0 246.2,91.2 242.6,92.3 245.9,95.2 243.5,98.0 244.8,98.3 237.2,99.2 248.3,103.2 243.5,107.0 239.4,107.2 247.0,111.2 251.8,115.2 244.4,116.0 256.9,116.7 258.9,119.2 261.8,123.2 260.5,127.2 259.9,128.0 266.6,130.0 257.7,131.2 275.0,135.2 280.3,139.2 282.4,139.7 278.9,140.0 290.4,149.0 292.1,150.0 292.7,154.0 297.1,158.0 306.1,167.0 316.1,174.0 317.8,176.0 318.2,177.4 326.8,185.0 334.8,192.0 336.9,194.0 337.4,195.0 348.1,203.0 359.1,212.0 363.8,215.5 364.0,215.7 370.4,221.0 377.6,227.2 380.4,230.0 381.6,231.0 389.4,239.0 390.4,240.0 395.6,248.0 398.5,252.0 401.5,257.0 405.4,266.0 405.7,266.3 406.8,270.0 408.2,275.0 410.6,284.0 413.2,293.0 415.2,300.0 415.3,302.0 415.5,311.0 415.7,320.0 416.2,329.0 416.1,330.0 416.7,338.0 417.3,347.0 417.5,350.0 418.0,356.0 418.5,365.0 419.0,374.0 419.8,383.0 420.3,392.0 420.8,400.0 420.9,401.0 421.0,402.0 421.7,410.0 422.5,419.0 423.3,428.0 424.2,437.0 425.0,446.0 425.8,455.0 426.3,460.0 426.7,464.0 427.5,473.0 428.3,482.0 428.9,488.0 428.9,491.0 429.3,500.0 429.6,509.0 429.9,518.0 430.2,527.0 430.6,536.0 430.8,545.0 431.1,554.0 431.5,563.0 431.7,572.0 431.9,576.0 432.0,581.0 432.2,590.0 432.5,599.0 432.7,608.0 432.9,617.0 433.1,626.0 433.1,629.0 433.3,635.0 433.5,644.0 433.7,653.0 434.0,662.0 434.2,671.0 434.4,680.0 434.5,689.0 434.5,698.0 434.6,707.0 434.7,716.0 434.7,725.0 434.8,734.0 434.8,743.0 434.9,751.6 434.9,751.8"/><polyline points="269.7,55.0 269.4,55.2 268.6,57.0 268.3,58.0 267.7,59.2 266.5,61.0 266.3,62.0 266.0,63.2 261.5,66.0 260.7,66.3 258.5,67.2 251.6,70.0 251.5,71.2 247.9,72.3 243.1,75.0 243.5,75.2 248.2,76.0 242.9,79.2 241.9,79.3 240.8,82.6 242.6,83.2 241.4,84.7 245.7,86.4 244.7,87.2 246.3,89.0 241.2,91.2 236.9,92.3 237.2,95.2 244.8,98.0 240.6,98.3 239.3,99.2 243.6,103.2 248.5,107.0 239.4,107.2 245.6,111.2 249.2,115.2 242.9,116.0 247.5,116.7 248.2,119.2 248.8,123.2 261.0,127.2 265.7,128.0 260.2,130.0 265.8,131.2 268.6,135.2 276.4,139.2 282.4,139.7 279.4,140.0 289.6,149.0 290.5,150.0 294.0,154.0 297.2,158.0 306.0,167.0 315.0,174.0 314.6,176.0 318.6,177.4 323.4,185.0 334.4,192.0 336.1,194.0 336.2,195.0 347.3,203.0 359.3,212.0 363.8,215.5 363.7,215.7 370.1,221.0 377.5,227.2 380.3,230.0 381.4,231.0 389.1,239.0 389.7,240.0 395.8,248.0 397.2,252.0 401.6,257.0 405.2,266.0 405.2,266.3 406.4,270.0 407.9,275.0 410.5,284.0 413.0,293.0 415.3,300.0 415.2,302.0 415.5,311.0 415.9,320.0 416.1,329.0 416.1,330.0 416.7,338.0 417.3,347.0 417.4,350.0 418.0,356.0 418.5,365.0 419.1,374.0 419.6,383.0 420.3,392.0 420.7,400.0 420.9,401.0 420.9,402.0 421.7,410.0 422.5,419.0 423.4,428.0 424.2,437.0 425.0,446.0 425.8,455.0 426.2,460.0 426.7,464.0 427.4,473.0 428.3,482.0 428.9,488.0 428.9,491.0 429.2,500.0 429.6,509.0 429.9,518.0 430.1,527.0 430.5,536.0 430.8,545.0 431.1,554.0 431.4,563.0 431.7,572.0 431.9,576.0 431.9,581.0 432.2,590.0 432.4,599.0 432.6,608.0 432.8,617.0 433.1,626.0 433.1,629.0 433.3,635.0 433.5,644.0 433.7,653.0 433.9,662.0 434.2,671.0 434.4,680.0 434.4,689.0 434.5,698.0 434.6,707.0 434.6,716.0 434.7,725.0 434.8,734.0 434.8,743.0 434.9,751.6 434.9,751.8"/><polyline points="269.2,55.0 269.1,55.2 268.7,57.0 268.4,58.0 267.4,59.2 266.9,61.0 266.2,62.0 266.1,63.2 261.2,66.0 260.5,66.3 258.3,67.2 254.8,70.0 253.7,71.2 250.7,72.3 241.8,75.0 247.7,75.2 241.1,76.0 237.5,79.2 243.7,79.3 241.7,82.6 238.6,83.2 238.4,84.7 241.9,86.4 240.6,87.2 239.4,89.0 240.5,91.2 238.7,92.3 239.9,95.2 238.2,98.0 245.5,98.3 238.8,99.2 239.9,103.2 242.7,107.0 241.3,107.2 240.8,111.2 245.9,115.2 248.3,116.0 247.1,116.7 252.6,119.2 259.2,123.2 262.8,127.2 263.4,128.0 261.6,130.0 260.7,131.2 269.5,135.2 270.2,139.2 278.0,139.7 279.3,140.0 289.0,149.0 290.4,150.0 293.3,154.0 294.7,158.0 307.3,167.0 311.7,174.0 314.5,176.0 314.9,177.4 325.4,185.0 332.5,192.0 335.9,194.0 336.2,195.0 347.8,203.0 358.5,212.0 363.1,215.5 363.9,215.7 369.9,221.0 377.6,227.2 380.0,230.0 381.2,231.0 388.8,239.0 389.8,240.0 395.6,248.0 397.5,252.0 401.0,257.0 405.4,266.0 405.3,266.3 406.4,270.0 407.9,275.0 410.6,284.0 413.0,293.0 415.1,300.0 415.1,302.0 415.4,311.0 415.7,320.0 416.1,329.0 416.0,330.0 416.7,338.0 417.3,347.0 417.3,350.0 417.9,356.0 418.4,365.0 419.1,374.0 419.6,383.0 420.2,392.0 420.8,400.0 420.9,401.0 420.9,402.0 421.6,410.0 422.5,419.0 423.3,428.0 424.1,437.0 425.0,446.0 425.8,455.0 426.2,460.0 426.5,464.0 427.5,473.0 428.2,482.0 428.8,488.0 429.0,491.0 429.3,500.0 429.5,509.0 429.9,518.0 430.1,527.0 430.5,536.0 430.8,545.0 431.0,554.0 431.4,563.0 431.7,572.0 431.8,576.0 431.9,581.0 432.2,590.0 432.4,599.0 432.6,608.0 432.8,617.0 433.0,626.0 433.1,629.0 433.3,635.0 433.5,644.0 433.7,653.0 433.9,662.0 434.2,671.0 434.3,680.0 434.4,689.0 434.5,698.0 434.6,707.0 434.7,716.0 434.7,725.0 434.8,734.0 434.9,743.0 434.9,751.6 434.9,751.8"/><polyline points="269.7,55.0 269.2,55.2 268.2,57.0 267.9,58.0 267.9,59.2 267.2,61.0 265.8,62.0 265.7,63.2 261.6,66.0 262.0,66.3 261.1,67.2 247.0,70.0 250.6,71.2 247.4,72.3 245.3,75.0 238.3,75.2 243.0,76.0 241.7,79.2 241.2,79.3 240.5,82.6 236.7,83.2 244.6,84.7 238.0,86.4 241.0,87.2 240.0,89.0 240.7,91.2 238.4,92.3 243.2,95.2 242.0,98.0 239.4,98.3 242.3,99.2 242.5,103.2 240.7,107.0 241.4,107.2 243.8,111.2 245.8,115.2 249.6,116.0 244.3,116.7 253.0,119.2 259.3,123.2 256.0,127.2 264.7,128.0 265.8,130.0 264.2,131.2 266.2,135.2 277.9,139.2 278.5,139.7 277.6,140.0 286.2,149.0 288.7,150.0 291.5,154.0 293.7,158.0 304.7,167.0 312.0,174.0 314.8,176.0 316.0,177.4 325.4,185.0 333.5,192.0 335.4,194.0 335.9,195.0 346.2,203.0 358.6,212.0 363.1,215.5 363.7,215.7 369.5,221.0 377.1,227.2 380.1,230.0 381.0,231.0 388.7,239.0 389.5,240.0 395.3,248.0 398.2,252.0 400.9,257.0 405.3,266.0 405.2,266.3 406.5,270.0 407.9,275.0 410.3,284.0 412.9,293.0 415.1,300.0 415.2,302.0 415.4,311.0 415.8,320.0 416.1,329.0 416.1,330.0 416.7,338.0 417.2,347.0 417.4,350.0 417.8,356.0 418.5,365.0 419.0,374.0 419.6,383.0 420.1,392.0 420.7,400.0 420.8,401.0 420.9,402.0 421.6,410.0 422.5,419.0 423.3,428.0 424.1,437.0 425.0,446.0 425.7,455.0 426.2,460.0 426.6,464.0 427.4,473.0 428.3,482.0 428.8,488.0 428.9,491.0 429.3,500.0 429.5,509.0 429.9,518.0 430.1,527.0 430.4,536.0 430.8,545.0 431.1,554.0 431.3,563.0 431.7,572.0 431.8,576.0 431.9,581.0 432.2,590.0 432.4,599.0 432.6,608.0 432.8,617.0 433.0,626.0 433.1,629.0 433.2,635.0 433.5,644.0 433.7,653.0 434.0,662.0 434.1,671.0 434.4,680.0 434.4,689.0 434.5,698.0 434.6,707.0 434.6,716.0 434.7,725.0 434.8,734.0 434.8,743.0 434.9,751.6 434.9,751.8"/><polyline points="269.3,55.0 269.5,55.2 268.7,57.0 268.1,58.0 267.5,59.2 266.7,61.0 265.7,62.0 265.7,63.2 261.7,66.0 260.4,66.3 260.7,67.2 250.2,70.0 247.2,71.2 242.8,72.3 244.0,75.0 242.7,75.2 240.7,76.0 241.4,79.2 244.2,79.3 237.3,82.6 240.2,83.2 238.3,84.7 241.5,86.4 236.1,87.2 239.0,89.0 240.1,91.2 236.6,92.3 236.6,95.2 242.1,98.0 237.6,98.3 236.3,99.2 239.8,103.2 244.5,107.0 239.2,107.2 238.8,111.2 248.1,115.2 239.9,116.0 246.6,116.7 248.3,119.2 247.2,123.2 255.3,127.2 251.6,128.0 259.6,130.0 259.7,131.2 267.6,135.2 272.9,139.2 272.1,139.7 274.4,140.0 286.0,149.0 285.2,150.0 290.7,154.0 292.7,158.0 302.4,167.0 310.5,174.0 313.4,176.0 313.9,177.4 321.9,185.0 331.7,192.0 333.6,194.0 335.6,195.0 346.1,203.0 358.4,212.0 363.4,215.5 363.1,215.7 369.7,221.0 377.3,227.2 379.8,230.0 381.1,231.0 388.0,239.0 389.9,240.0 394.8,248.0 397.9,252.0 401.0,257.0 404.9,266.0 405.3,266.3 406.2,270.0 407.7,275.0 410.3,284.0 412.9,293.0 415.0,300.0 415.1,302.0 415.4,311.0 415.6,320.0 415.9,329.0 416.0,330.0 416.6,338.0 417.1,347.0 417.4,350.0 417.7,356.0 418.4,365.0 419.0,374.0 419.5,383.0 420.2,392.0 420.7,400.0 420.7,401.0 420.9,402.0 421.5,410.0 422.5,419.0 423.2,428.0 424.1,437.0 425.0,446.0 425.7,455.0 426.2,460.0 426.6,464.0 427.4,473.0 428.2,482.0 428.8,488.0 428.9,491.0 429.1,500.0 429.5,509.0 429.8,518.0 430.1,527.0 430.4,536.0 430.7,545.0 431.0,554.0 431.3,563.0 431.6,572.0 431.8,576.0 431.9,581.0 432.1,590.0 432.3,599.0 432.5,608.0 432.8,617.0 433.0,626.0 433.0,629.0 433.2,635.0 433.5,644.0 433.7,653.0 433.9,662.0 434.1,671.0 434.3,680.0 434.4,689.0 434.5,698.0 434.6,707.0 434.6,716.0 434.7,725.0 434.8,734.0 434.8,743.0 434.9,751.6 434.9,751.8"/><polyline points="269.0,55.0 269.4,55.2 268.8,57.0 267.8,58.0 267.3,59.2 266.1,61.0 266.1,62.0 265.3,63.2 262.6,66.0 261.4,66.3 258.5,67.2 251.4,70.0 246.6,71.2 242.5,72.3 244.4,75.0 236.3,75.2 242.4,76.0 240.8,79.2 236.8,79.3 245.0,82.6 242.5,83.2 240.5,84.7 237.8,86.4 235.1,87.2 234.6,89.0 239.8,91.2 236.0,92.3 239.5,95.2 235.6,98.0 239.9,98.3 236.9,99.2 242.3,103.2 237.8,107.0 243.6,107.2 240.7,111.2 249.1,115.2 244.9,116.0 247.6,116.7 250.3,119.2 249.4,123.2 251.5,127.2 255.4,128.0 256.7,130.0 256.7,131.2 260.7,135.2 268.0,139.2 271.6,139.7 270.2,140.0 285.1,149.0 284.2,150.0 291.1,154.0 289.9,158.0 302.5,167.0 309.2,174.0 309.8,176.0 313.2,177.4 323.3,185.0 332.7,192.0 333.9,194.0 333.5,195.0 345.5,203.0 357.4,212.0 362.6,215.5 363.1,215.7 369.9,221.0 377.2,227.2 379.7,230.0 380.8,231.0 388.2,239.0 389.0,240.0 394.7,248.0 397.7,252.0 400.8,257.0 404.9,266.0 405.2,266.3 406.3,270.0 407.7,275.0 410.3,284.0 412.9,293.0 415.0,300.0 415.1,302.0 415.3,311.0 415.7,320.0 416.0,329.0 416.1,330.0 416.6,338.0 417.1,347.0 417.3,350.0 417.7,356.0 418.3,365.0 418.9,374.0 419.6,383.0 420.1,392.0 420.6,400.0 420.7,401.0 420.9,402.0 421.6,410.0 422.4,419.0 423.3,428.0 424.1,437.0 424.9,446.0 425.8,455.0 426.2,460.0 426.5,464.0 427.3,473.0 428.2,482.0 428.8,488.0 428.8,491.0 429.2,500.0 429.5,509.0 429.7,518.0 430.0,527.0 430.4,536.0 430.7,545.0 431.0,554.0 431.3,563.0 431.6,572.0 431.8,576.0 431.9,581.0 432.1,590.0 432.3,599.0 432.5,608.0 432.8,617.0 433.0,626.0 433.0,629.0 433.2,635.0 433.4,644.0 433.7,653.0 433.9,662.0 434.1,671.0 434.3,680.0 434.4,689.0 434.5,698.0 434.5,707.0 434.6,716.0 434.7,725.0 434.7,734.0 434.8,743.0 434.9,751.6 434.8,751.8"/><polyline points="269.2,55.0 269.5,55.2 267.9,57.0 267.4,58.0 266.8,59.2 266.9,61.0 265.7,62.0 264.7,63.2 261.6,66.0 260.6,66.3 257.6,67.2 254.0,70.0 246.5,71.2 242.2,72.3 238.0,75.0 235.8,75.2 239.3,76.0 238.8,79.2 239.2,79.3 239.7,82.6 240.6,83.2 239.4,84.7 237.3,86.4 238.2,87.2 236.2,89.0 236.5,91.2 235.4,92.3 238.9,95.2 243.3,98.0 240.7,98.3 234.0,99.2 236.9,103.2 240.1,107.0 239.5,107.2 240.2,111.2 244.2,115.2 242.6,116.0 241.4,116.7 241.1,119.2 250.3,123.2 254.7,127.2 255.8,128.0 256.4,130.0 253.5,131.2 268.2,135.2 261.0,139.2 269.3,139.7 270.3,140.0 284.3,149.0 284.7,150.0 288.9,154.0 292.0,158.0 303.8,167.0 307.7,174.0 312.6,176.0 311.5,177.4 320.6,185.0 330.5,192.0 333.2,194.0 334.5,195.0 345.2,203.0 357.6,212.0 362.4,215.5 362.7,215.7 369.1,221.0 377.0,227.2 379.7,230.0 380.7,231.0 388.4,239.0 389.1,240.0 394.5,248.0 396.6,252.0 400.3,257.0 404.6,266.0 405.2,266.3 406.0,270.0 407.4,275.0 410.1,284.0 412.9,293.0 414.9,300.0 415.0,302.0 415.3,311.0 415.6,320.0 415.8,329.0 415.9,330.0 416.4,338.0 417.1,347.0 417.2,350.0 417.7,356.0 418.2,365.0 418.9,374.0 419.4,383.0 420.1,392.0 420.6,400.0 420.7,401.0 420.8,402.0 421.5,410.0 422.3,419.0 423.2,428.0 424.0,437.0 424.9,446.0 425.7,455.0 426.1,460.0 426.4,464.0 427.3,473.0 428.1,482.0 428.7,488.0 428.8,491.0 429.1,500.0 429.4,509.0 429.7,518.0 430.0,527.0 430.4,536.0 430.7,545.0 431.0,554.0 431.3,563.0 431.6,572.0 431.7,576.0 431.8,581.0 432.1,590.0 432.3,599.0 432.5,608.0 432.7,617.0 432.9,626.0 433.0,629.0 433.2,635.0 433.4,644.0 433.6,653.0 433.9,662.0 434.1,671.0 434.3,680.0 434.4,689.0 434.5,698.0 434.5,707.0 434.6,716.0 434.6,725.0 434.7,734.0 434.8,743.0 434.8,751.6 434.9,751.8"/><polyline points="269.3,55.0 268.7,55.2 268.0,57.0 267.7,58.0 266.6,59.2 266.2,61.0 265.5,62.0 265.3,63.2 260.5,66.0 259.6,66.3 255.4,67.2 250.3,70.0 246.7,71.2 248.9,72.3 243.3,75.0 237.0,75.2 239.6,76.0 238.8,79.2 236.3,79.3 237.9,82.6 236.7,83.2 237.3,84.7 241.3,86.4 234.5,87.2 231.9,89.0 233.0,91.2 236.0,92.3 236.2,95.2 236.6,98.0 234.0,98.3 235.0,99.2 238.8,103.2 238.5,107.0 238.7,107.2 240.7,111.2 243.7,115.2 242.7,116.0 250.9,116.7 243.1,119.2 249.6,123.2 257.5,127.2 253.9,128.0 258.8,130.0 251.6,131.2 268.6,135.2 269.5,139.2 269.1,139.7 272.4,140.0 283.7,149.0 282.4,150.0 287.6,154.0 292.3,158.0 301.9,167.0 306.6,174.0 307.6,176.0 311.6,177.4 320.3,185.0 329.0,192.0 331.7,194.0 334.2,195.0 344.4,203.0 357.2,212.0 361.8,215.5 362.6,215.7 369.1,221.0 376.8,227.2 379.4,230.0 380.6,231.0 387.7,239.0 388.2,240.0 394.2,248.0 396.8,252.0 400.4,257.0 404.7,266.0 404.8,266.3 405.9,270.0 407.5,275.0 410.1,284.0 412.8,293.0 414.8,300.0 414.9,302.0 415.1,311.0 415.6,320.0 415.8,329.0 415.9,330.0 416.4,338.0 417.0,347.0 417.2,350.0 417.6,356.0 418.3,365.0 418.7,374.0 419.3,383.0 420.1,392.0 420.6,400.0 420.7,401.0 420.8,402.0 421.5,410.0 422.3,419.0 423.2,428.0 423.9,437.0 424.8,446.0 425.7,455.0 426.1,460.0 426.5,464.0 427.3,473.0 428.2,482.0 428.7,488.0 428.8,491.0 429.1,500.0 429.4,509.0 429.8,518.0 430.0,527.0 430.3,536.0 430.6,545.0 430.9,554.0 431.3,563.0 431.6,572.0 431.7,576.0 431.9,581.0 432.1,590.0 432.3,599.0 432.5,608.0 432.7,617.0 432.9,626.0 433.0,629.0 433.2,635.0 433.4,644.0 433.6,653.0 433.8,662.0 434.1,671.0 434.3,680.0 434.3,689.0 434.4,698.0 434.5,707.0 434.5,716.0 434.6,725.0 434.7,734.0 434.7,743.0 434.8,751.6 434.8,751.8"/><polyline points="268.9,55.0 269.1,55.2 268.0,57.0 267.6,58.0 267.0,59.2 266.6,61.0 265.6,62.0 264.9,63.2 259.9,66.0 258.5,66.3 255.2,67.2 248.8,70.0 245.8,71.2 238.9,72.3 235.6,75.0 237.7,75.2 238.1,76.0 234.2,79.2 234.1,79.3 236.2,82.6 234.8,83.2 235.4,84.7 235.2,86.4 230.4,87.2 237.7,89.0 233.0,91.2 237.6,92.3 237.5,95.2 234.5,98.0 239.6,98.3 239.0,99.2 239.7,103.2 238.5,107.0 236.2,107.2 234.5,111.2 242.4,115.2 237.9,116.0 245.3,116.7 235.4,119.2 247.8,123.2 252.3,127.2 249.9,128.0 252.8,130.0 255.9,131.2 269.1,135.2 264.1,139.2 265.5,139.7 269.9,140.0 282.1,149.0 281.2,150.0 284.0,154.0 292.1,158.0 300.3,167.0 306.1,174.0 309.3,176.0 310.3,177.4 320.0,185.0 328.5,192.0 331.2,194.0 332.4,195.0 343.8,203.0 357.3,212.0 362.7,215.5 362.4,215.7 369.0,221.0 376.8,227.2 379.5,230.0 379.9,231.0 388.0,239.0 388.2,240.0 393.7,248.0 396.3,252.0 399.6,257.0 404.5,266.0 404.7,266.3 405.9,270.0 407.2,275.0 410.0,284.0 412.7,293.0 414.9,300.0 415.0,302.0 415.2,311.0 415.4,320.0 415.9,329.0 415.9,330.0 416.4,338.0 416.9,347.0 417.1,350.0 417.5,356.0 418.2,365.0 418.8,374.0 419.3,383.0 420.0,392.0 420.5,400.0 420.6,401.0 420.7,402.0 421.5,410.0 422.3,419.0 423.1,428.0 424.0,437.0 424.8,446.0 425.7,455.0 426.1,460.0 426.5,464.0 427.3,473.0 428.1,482.0 428.7,488.0 428.8,491.0 429.1,500.0 429.4,509.0 429.7,518.0 430.0,527.0 430.3,536.0 430.6,545.0 430.9,554.0 431.2,563.0 431.5,572.0 431.7,576.0 431.8,581.0 432.0,590.0 432.2,599.0 432.5,608.0 432.7,617.0 433.0,626.0 433.0,629.0 433.1,635.0 433.3,644.0 433.6,653.0 433.8,662.0 434.0,671.0 434.3,680.0 434.3,689.0 434.4,698.0 434.5,707.0 434.5,716.0 434.6,725.0 434.7,734.0 434.7,743.0 434.8,751.6 434.8,751.8"/><polyline points="269.0,55.0 268.9,55.2 267.6,57.0 267.3,58.0 267.0,59.2 266.1,61.0 265.4,62.0 265.3,63.2 258.9,66.0 258.9,66.3 258.1,67.2 249.5,70.0 241.5,71.2 241.5,72.3 231.6,75.0 236.9,75.2 235.6,76.0 231.2,79.2 230.7,79.3 237.6,82.6 232.9,83.2 237.4,84.7 235.6,86.4 238.5,87.2 232.4,89.0 236.6,91.2 236.3,92.3 230.6,95.2 233.8,98.0 236.3,98.3 240.3,99.2 235.3,103.2 242.2,107.0 238.6,107.2 235.0,111.2 236.8,115.2 239.4,116.0 237.6,116.7 241.1,119.2 247.8,123.2 248.7,127.2 242.1,128.0 251.9,130.0 252.2,131.2 257.5,135.2 272.5,139.2 271.7,139.7 270.4,140.0 278.4,149.0 280.7,150.0 286.1,154.0 290.2,158.0 296.7,167.0 304.0,174.0 306.7,176.0 308.7,177.4 318.5,185.0 328.4,192.0 330.8,194.0 332.8,195.0 344.3,203.0 357.1,212.0 361.9,215.5 361.8,215.7 369.1,221.0 376.8,227.2 379.1,230.0 380.0,231.0 387.5,239.0 388.3,240.0 393.8,248.0 396.3,252.0 399.0,257.0 404.6,266.0 404.6,266.3 405.8,270.0 407.2,275.0 409.9,284.0 412.6,293.0 414.8,300.0 414.9,302.0 415.1,311.0 415.4,320.0 415.7,329.0 415.7,330.0 416.3,338.0 416.9,347.0 417.2,350.0 417.6,356.0 418.2,365.0 418.8,374.0 419.2,383.0 420.0,392.0 420.5,400.0 420.5,401.0 420.7,402.0 421.5,410.0 422.3,419.0 423.1,428.0 424.0,437.0 424.8,446.0 425.6,455.0 426.0,460.0 426.4,464.0 427.3,473.0 428.1,482.0 428.7,488.0 428.8,491.0 429.1,500.0 429.4,509.0 429.7,518.0 429.9,527.0 430.3,536.0 430.6,545.0 430.9,554.0 431.3,563.0 431.5,572.0 431.7,576.0 431.8,581.0 432.0,590.0 432.2,599.0 432.5,608.0 432.7,617.0 432.9,626.0 433.0,629.0 433.1,635.0 433.3,644.0 433.6,653.0 433.8,662.0 434.1,671.0 434.3,680.0 434.3,689.0 434.4,698.0 434.5,707.0 434.5,716.0 434.6,725.0 434.7,734.0 434.7,743.0 434.8,751.6 434.8,751.8"/><polyline points="268.6,55.0 268.8,55.2 268.1,57.0 267.5,58.0 266.7,59.2 265.5,61.0 265.2,62.0 264.8,63.2 259.2,66.0 259.9,66.3 256.8,67.2 244.3,70.0 243.6,71.2 241.6,72.3 238.0,75.0 239.3,75.2 235.5,76.0 235.3,79.2 231.0,79.3 236.7,82.6 234.5,83.2 235.0,84.7 236.0,86.4 229.1,87.2 229.8,89.0 233.2,91.2 237.1,92.3 233.8,95.2 234.1,98.0 236.7,98.3 239.2,99.2 231.0,103.2 239.1,107.0 232.6,107.2 238.1,111.2 239.8,115.2 235.7,116.0 243.2,116.7 242.0,119.2 244.0,123.2 242.8,127.2 244.2,128.0 249.9,130.0 258.1,131.2 253.4,135.2 267.0,139.2 264.7,139.7 269.4,140.0 278.0,149.0 278.2,150.0 283.6,154.0 286.4,158.0 294.9,167.0 302.1,174.0 306.9,176.0 309.6,177.4 320.6,185.0 328.0,192.0 331.7,194.0 331.6,195.0 344.4,203.0 356.3,212.0 361.8,215.5 362.4,215.7 368.7,221.0 376.5,227.2 379.0,230.0 379.9,231.0 386.8,239.0 387.7,240.0 393.5,248.0 396.1,252.0 399.9,257.0 404.3,266.0 404.7,266.3 405.7,270.0 407.3,275.0 409.8,284.0 412.6,293.0 414.8,300.0 414.8,302.0 415.1,311.0 415.3,320.0 415.7,329.0 415.7,330.0 416.3,338.0 417.0,347.0 417.1,350.0 417.4,356.0 418.1,365.0 418.7,374.0 419.3,383.0 419.9,392.0 420.4,400.0 420.5,401.0 420.7,402.0 421.3,410.0 422.2,419.0 423.1,428.0 423.9,437.0 424.8,446.0 425.5,455.0 426.1,460.0 426.4,464.0 427.2,473.0 428.1,482.0 428.6,488.0 428.7,491.0 429.0,500.0 429.3,509.0 429.7,518.0 430.0,527.0 430.3,536.0 430.6,545.0 430.9,554.0 431.2,563.0 431.5,572.0 431.6,576.0 431.8,581.0 431.9,590.0 432.2,599.0 432.4,608.0 432.7,617.0 432.9,626.0 432.9,629.0 433.1,635.0 433.4,644.0 433.5,653.0 433.8,662.0 434.0,671.0 434.2,680.0 434.3,689.0 434.4,698.0 434.5,707.0 434.5,716.0 434.6,725.0 434.6,734.0 434.7,743.0 434.8,751.6 434.8,751.8"/><polyline points="268.9,55.0 268.4,55.2 268.1,57.0 267.1,58.0 267.0,59.2 266.0,61.0 265.7,62.0 265.0,63.2 258.7,66.0 258.8,66.3 256.3,67.2 248.4,70.0 245.0,71.2 241.3,72.3 232.9,75.0 235.0,75.2 235.1,76.0 234.5,79.2 232.4,79.3 235.8,82.6 232.5,83.2 235.7,84.7 235.2,86.4 230.8,87.2 231.9,89.0 232.8,91.2 235.0,92.3 232.3,95.2 229.0,98.0 232.9,98.3 233.0,99.2 234.5,103.2 231.1,107.0 235.2,107.2 226.5,111.2 236.1,115.2 237.2,116.0 233.7,116.7 242.9,119.2 244.5,123.2 248.6,127.2 247.3,128.0 240.2,130.0 254.3,131.2 245.4,135.2 258.5,139.2 256.7,139.7 263.8,140.0 278.4,149.0 279.2,150.0 279.7,154.0 286.2,158.0 294.7,167.0 302.3,174.0 303.1,176.0 304.8,177.4 316.7,185.0 326.8,192.0 328.9,194.0 331.9,195.0 343.1,203.0 356.7,212.0 361.7,215.5 362.1,215.7 368.4,221.0 376.5,227.2 378.6,230.0 379.8,231.0 386.6,239.0 387.7,240.0 392.8,248.0 395.6,252.0 399.3,257.0 404.2,266.0 404.5,266.3 405.6,270.0 407.1,275.0 409.7,284.0 412.6,293.0 414.7,300.0 414.7,302.0 415.0,311.0 415.4,320.0 415.7,329.0 415.7,330.0 416.3,338.0 416.8,347.0 417.1,350.0 417.5,356.0 418.0,365.0 418.6,374.0 419.2,383.0 419.9,392.0 420.4,400.0 420.5,401.0 420.6,402.0 421.4,410.0 422.2,419.0 423.0,428.0 423.8,437.0 424.7,446.0 425.6,455.0 426.0,460.0 426.4,464.0 427.2,473.0 428.1,482.0 428.6,488.0 428.7,491.0 429.0,500.0 429.3,509.0 429.6,518.0 429.9,527.0 430.2,536.0 430.5,545.0 430.9,554.0 431.2,563.0 431.5,572.0 431.6,576.0 431.7,581.0 432.0,590.0 432.2,599.0 432.4,608.0 432.6,617.0 432.8,626.0 433.0,629.0 433.1,635.0 433.3,644.0 433.6,653.0 433.8,662.0 434.0,671.0 434.2,680.0 434.3,689.0 434.4,698.0 434.4,707.0 434.5,716.0 434.6,725.0 434.6,734.0 434.7,743.0 434.8,751.6 434.8,751.8"/><polyline points="268.9,55.0 268.4,55.2 267.7,57.0 267.0,58.0 266.4,59.2 265.8,61.0 264.8,62.0 263.9,63.2 259.1,66.0 258.3,66.3 254.9,67.2 242.2,70.0 242.2,71.2 240.6,72.3 237.4,75.0 234.3,75.2 237.4,76.0 231.0,79.2 235.3,79.3 235.7,82.6 230.0,83.2 231.3,84.7 230.5,86.4 233.8,87.2 229.2,89.0 230.8,91.2 231.4,92.3 230.5,95.2 230.8,98.0 233.5,98.3 229.9,99.2 232.1,103.2 233.5,107.0 231.6,107.2 233.1,111.2 231.0,115.2 235.4,116.0 237.1,116.7 237.9,119.2 237.4,123.2 250.7,127.2 250.5,128.0 247.8,130.0 246.5,131.2 252.2,135.2 262.8,139.2 269.2,139.7 266.4,140.0 275.1,149.0 276.8,150.0 280.0,154.0 283.2,158.0 295.2,167.0 300.0,174.0 304.4,176.0 305.6,177.4 316.1,185.0 327.7,192.0 327.3,194.0 330.7,195.0 341.8,203.0 356.2,212.0 361.7,215.5 361.8,215.7 368.6,221.0 376.6,227.2 379.2,230.0 379.5,231.0 386.6,239.0 387.3,240.0 392.5,248.0 395.7,252.0 399.0,257.0 404.0,266.0 404.2,266.3 405.4,270.0 407.0,275.0 409.8,284.0 412.4,293.0 414.6,300.0 414.6,302.0 414.9,311.0 415.2,320.0 415.5,329.0 415.6,330.0 416.1,338.0 416.9,347.0 417.0,350.0 417.4,356.0 417.9,365.0 418.7,374.0 419.3,383.0 419.8,392.0 420.3,400.0 420.5,401.0 420.7,402.0 421.3,410.0 422.1,419.0 423.0,428.0 423.8,437.0 424.7,446.0 425.5,455.0 426.0,460.0 426.3,464.0 427.2,473.0 428.0,482.0 428.6,488.0 428.7,491.0 429.0,500.0 429.3,509.0 429.6,518.0 429.9,527.0 430.2,536.0 430.5,545.0 430.8,554.0 431.1,563.0 431.5,572.0 431.6,576.0 431.8,581.0 431.9,590.0 432.1,599.0 432.4,608.0 432.6,617.0 432.8,626.0 432.9,629.0 433.1,635.0 433.3,644.0 433.5,653.0 433.7,662.0 434.0,671.0 434.2,680.0 434.3,689.0 434.4,698.0 434.4,707.0 434.5,716.0 434.5,725.0 434.6,734.0 434.7,743.0 434.8,751.6 434.8,751.8"/><polyline points="269.1,55.0 268.8,55.2 267.8,57.0 267.2,58.0 266.2,59.2 265.2,61.0 265.3,62.0 264.6,63.2 257.8,66.0 259.6,66.3 254.6,67.2 242.9,70.0 241.2,71.2 239.9,72.3 231.8,75.0 234.9,75.2 235.3,76.0 231.9,79.2 232.8,79.3 230.3,82.6 228.7,83.2 227.9,84.7 236.8,86.4 229.9,87.2 228.9,89.0 228.7,91.2 231.7,92.3 232.5,95.2 231.6,98.0 234.4,98.3 236.6,99.2 230.8,103.2 230.6,107.0 235.5,107.2 229.8,111.2 237.6,115.2 234.0,116.0 239.8,116.7 236.7,119.2 242.1,123.2 245.0,127.2 242.0,128.0 242.4,130.0 251.5,131.2 246.8,135.2 263.8,139.2 267.9,139.7 261.6,140.0 270.5,149.0 275.5,150.0 281.0,154.0 284.3,158.0 292.5,167.0 299.8,174.0 302.2,176.0 303.0,177.4 313.3,185.0 325.3,192.0 328.0,194.0 329.8,195.0 341.7,203.0 355.4,212.0 361.0,215.5 361.6,215.7 368.1,221.0 376.0,227.2 378.5,230.0 379.1,231.0 385.8,239.0 387.4,240.0 392.7,248.0 395.6,252.0 398.9,257.0 404.1,266.0 404.1,266.3 405.2,270.0 407.0,275.0 409.5,284.0 412.4,293.0 414.5,300.0 414.6,302.0 415.0,311.0 415.2,320.0 415.5,329.0 415.5,330.0 416.1,338.0 416.8,347.0 417.0,350.0 417.4,356.0 418.0,365.0 418.6,374.0 419.2,383.0 419.8,392.0 420.3,400.0 420.5,401.0 420.5,402.0 421.3,410.0 422.2,419.0 422.9,428.0 423.8,437.0 424.6,446.0 425.4,455.0 425.9,460.0 426.3,464.0 427.1,473.0 428.0,482.0 428.5,488.0 428.7,491.0 429.0,500.0 429.3,509.0 429.6,518.0 429.8,527.0 430.2,536.0 430.5,545.0 430.8,554.0 431.1,563.0 431.4,572.0 431.5,576.0 431.7,581.0 431.9,590.0 432.1,599.0 432.4,608.0 432.6,617.0 432.8,626.0 432.9,629.0 433.0,635.0 433.3,644.0 433.5,653.0 433.7,662.0 434.0,671.0 434.2,680.0 434.3,689.0 434.3,698.0 434.4,707.0 434.5,716.0 434.6,725.0 434.6,734.0 434.7,743.0 434.8,751.6 434.7,751.8"/><polyline points="268.4,55.0 268.8,55.2 267.6,57.0 267.3,58.0 266.1,59.2 265.2,61.0 265.1,62.0 264.3,63.2 259.3,66.0 257.2,66.3 252.5,67.2 245.0,70.0 240.8,71.2 241.9,72.3 228.4,75.0 235.6,75.2 232.1,76.0 232.6,79.2 229.0,79.3 231.5,82.6 231.9,83.2 233.8,84.7 227.1,86.4 234.3,87.2 225.7,89.0 226.8,91.2 225.8,92.3 233.2,95.2 233.4,98.0 231.3,98.3 229.3,99.2 234.3,103.2 228.3,107.0 234.4,107.2 229.8,111.2 233.5,115.2 233.3,116.0 234.5,116.7 233.0,119.2 244.5,123.2 236.7,127.2 244.2,128.0 244.3,130.0 248.9,131.2 248.7,135.2 256.4,139.2 260.6,139.7 260.9,140.0 269.1,149.0 273.6,150.0 276.8,154.0 282.3,158.0 290.2,167.0 297.6,174.0 300.2,176.0 301.0,177.4 312.6,185.0 326.3,192.0 328.1,194.0 330.0,195.0 341.0,203.0 355.3,212.0 361.2,215.5 360.8,215.7 368.0,221.0 375.9,227.2 378.5,230.0 379.1,231.0 385.5,239.0 386.8,240.0 392.1,248.0 395.0,252.0 398.6,257.0 403.8,266.0 404.3,266.3 405.1,270.0 406.7,275.0 409.6,284.0 412.3,293.0 414.6,300.0 414.6,302.0 414.8,311.0 415.1,320.0 415.5,329.0 415.4,330.0 416.1,338.0 416.7,347.0 416.9,350.0 417.2,356.0 417.9,365.0 418.6,374.0 419.2,383.0 419.7,392.0 420.3,400.0 420.4,401.0 420.5,402.0 421.2,410.0 422.1,419.0 422.9,428.0 423.7,437.0 424.6,446.0 425.4,455.0 426.0,460.0 426.2,464.0 427.1,473.0 427.9,482.0 428.5,488.0 428.7,491.0 428.9,500.0 429.2,509.0 429.6,518.0 429.8,527.0 430.2,536.0 430.4,545.0 430.7,554.0 431.1,563.0 431.4,572.0 431.5,576.0 431.7,581.0 431.9,590.0 432.1,599.0 432.3,608.0 432.6,617.0 432.8,626.0 432.9,629.0 433.1,635.0 433.2,644.0 433.5,653.0 433.7,662.0 433.9,671.0 434.2,680.0 434.2,689.0 434.3,698.0 434.4,707.0 434.5,716.0 434.5,725.0 434.6,734.0 434.7,743.0 434.7,751.6 434.7,751.8"/><polyline points="268.5,55.0 268.5,55.2 267.5,57.0 267.0,58.0 266.2,59.2 265.0,61.0 265.1,62.0 263.4,63.2 258.8,66.0 256.6,66.3 254.5,67.2 243.7,70.0 239.8,71.2 235.5,72.3 230.6,75.0 229.1,75.2 231.8,76.0 226.4,79.2 234.3,79.3 229.0,82.6 228.7,83.2 230.2,84.7 228.9,86.4 230.7,87.2 227.2,89.0 229.6,91.2 227.2,92.3 228.9,95.2 229.6,98.0 230.3,98.3 232.7,99.2 228.7,103.2 228.0,107.0 231.0,107.2 233.5,111.2 234.1,115.2 229.0,116.0 238.1,116.7 232.5,119.2 237.3,123.2 235.9,127.2 246.0,128.0 239.2,130.0 247.8,131.2 247.3,135.2 248.6,139.2 257.9,139.7 254.1,140.0 270.2,149.0 270.7,150.0 272.8,154.0 279.0,158.0 289.6,167.0 300.8,174.0 301.2,176.0 301.3,177.4 314.0,185.0 324.6,192.0 326.5,194.0 329.4,195.0 341.4,203.0 354.9,212.0 360.2,215.5 361.1,215.7 367.9,221.0 375.9,227.2 378.3,230.0 379.2,231.0 385.5,239.0 386.7,240.0 392.2,248.0 394.3,252.0 398.8,257.0 403.5,266.0 403.7,266.3 405.1,270.0 406.5,275.0 409.4,284.0 412.3,293.0 414.5,300.0 414.5,302.0 414.7,311.0 415.2,320.0 415.5,329.0 415.4,330.0 416.0,338.0 416.5,347.0 416.8,350.0 417.3,356.0 417.9,365.0 418.5,374.0 419.2,383.0 419.7,392.0 420.3,400.0 420.4,401.0 420.4,402.0 421.2,410.0 422.0,419.0 422.9,428.0 423.7,437.0 424.6,446.0 425.4,455.0 425.9,460.0 426.3,464.0 427.1,473.0 428.0,482.0 428.5,488.0 428.6,491.0 428.9,500.0 429.2,509.0 429.5,518.0 429.8,527.0 430.1,536.0 430.5,545.0 430.6,554.0 431.1,563.0 431.4,572.0 431.5,576.0 431.6,581.0 431.9,590.0 432.1,599.0 432.3,608.0 432.6,617.0 432.8,626.0 432.9,629.0 433.0,635.0 433.2,644.0 433.5,653.0 433.7,662.0 433.9,671.0 434.2,680.0 434.2,689.0 434.3,698.0 434.4,707.0 434.4,716.0 434.5,725.0 434.6,734.0 434.6,743.0 434.7,751.6 434.7,751.8"/><polyline points="268.7,55.0 268.3,55.2 267.4,57.0 266.8,58.0 266.4,59.2 265.0,61.0 264.3,62.0 263.9,63.2 257.1,66.0 256.4,66.3 253.1,67.2 239.4,70.0 239.5,71.2 235.4,72.3 234.3,75.0 228.2,75.2 231.2,76.0 229.8,79.2 230.4,79.3 228.0,82.6 230.1,83.2 230.9,84.7 227.5,86.4 227.0,87.2 228.6,89.0 226.2,91.2 225.5,92.3 230.6,95.2 228.6,98.0 228.7,98.3 233.5,99.2 232.7,103.2 235.1,107.0 225.6,107.2 230.7,111.2 232.2,115.2 229.2,116.0 226.2,116.7 230.8,119.2 228.2,123.2 231.9,127.2 227.0,128.0 243.8,130.0 243.4,131.2 251.4,135.2 251.6,139.2 259.0,139.7 254.2,140.0 271.7,149.0 268.8,150.0 273.9,154.0 277.0,158.0 288.1,167.0 296.6,174.0 298.6,176.0 303.1,177.4 312.5,185.0 322.9,192.0 324.8,194.0 327.6,195.0 341.2,203.0 354.1,212.0 360.7,215.5 360.7,215.7 367.9,221.0 376.3,227.2 377.9,230.0 379.0,231.0 385.1,239.0 386.3,240.0 391.5,248.0 394.1,252.0 397.8,257.0 403.6,266.0 403.9,266.3 404.9,270.0 406.7,275.0 409.3,284.0 412.1,293.0 414.5,300.0 414.5,302.0 414.6,311.0 415.0,320.0 415.2,329.0 415.3,330.0 415.9,338.0 416.5,347.0 416.7,350.0 417.1,356.0 417.8,365.0 418.5,374.0 419.1,383.0 419.7,392.0 420.3,400.0 420.3,401.0 420.4,402.0 421.2,410.0 422.0,419.0 422.9,428.0 423.7,437.0 424.5,446.0 425.4,455.0 425.9,460.0 426.2,464.0 427.0,473.0 427.9,482.0 428.5,488.0 428.5,491.0 428.9,500.0 429.2,509.0 429.5,518.0 429.8,527.0 430.1,536.0 430.4,545.0 430.8,554.0 431.0,563.0 431.3,572.0 431.5,576.0 431.6,581.0 431.8,590.0 432.1,599.0 432.3,608.0 432.6,617.0 432.7,626.0 432.8,629.0 433.0,635.0 433.2,644.0 433.4,653.0 433.7,662.0 433.9,671.0 434.2,680.0 434.2,689.0 434.3,698.0 434.3,707.0 434.4,716.0 434.5,725.0 434.6,734.0 434.7,743.0 434.7,751.6 434.7,751.8"/><polyline points="268.1,55.0 268.1,55.2 267.5,57.0 266.7,58.0 265.6,59.2 264.9,61.0 264.0,62.0 263.6,63.2 257.1,66.0 255.4,66.3 252.9,67.2 242.6,70.0 238.7,71.2 232.4,72.3 228.5,75.0 232.5,75.2 226.4,76.0 227.1,79.2 226.0,79.3 226.9,82.6 227.4,83.2 232.2,84.7 226.1,86.4 231.2,87.2 226.8,89.0 222.4,91.2 226.6,92.3 227.1,95.2 230.0,98.0 228.1,98.3 232.1,99.2 229.2,103.2 227.5,107.0 228.9,107.2 231.6,111.2 237.4,115.2 232.1,116.0 233.1,116.7 233.3,119.2 231.2,123.2 243.8,127.2 233.2,128.0 244.5,130.0 230.0,131.2 240.6,135.2 250.1,139.2 257.5,139.7 253.7,140.0 267.1,149.0 269.8,150.0 274.1,154.0 276.2,158.0 287.5,167.0 293.2,174.0 296.3,176.0 299.5,177.4 310.7,185.0 322.1,192.0 326.3,194.0 326.6,195.0 340.3,203.0 354.1,212.0 360.0,215.5 361.0,215.7 367.5,221.0 375.8,227.2 377.6,230.0 378.7,231.0 384.9,239.0 385.6,240.0 391.7,248.0 394.2,252.0 397.4,257.0 403.6,266.0 403.6,266.3 404.9,270.0 406.2,275.0 409.1,284.0 412.1,293.0 414.3,300.0 414.3,302.0 414.7,311.0 415.0,320.0 415.3,329.0 415.2,330.0 415.7,338.0 416.5,347.0 416.8,350.0 417.2,356.0 417.7,365.0 418.4,374.0 419.0,383.0 419.6,392.0 420.2,400.0 420.3,401.0 420.4,402.0 421.1,410.0 422.0,419.0 422.8,428.0 423.7,437.0 424.5,446.0 425.3,455.0 425.8,460.0 426.2,464.0 427.1,473.0 427.9,482.0 428.5,488.0 428.5,491.0 428.9,500.0 429.2,509.0 429.4,518.0 429.8,527.0 430.1,536.0 430.4,545.0 430.7,554.0 431.1,563.0 431.3,572.0 431.5,576.0 431.6,581.0 431.8,590.0 432.0,599.0 432.3,608.0 432.5,617.0 432.7,626.0 432.8,629.0 433.0,635.0 433.2,644.0 433.4,653.0 433.6,662.0 433.9,671.0 434.1,680.0 434.2,689.0 434.2,698.0 434.4,707.0 434.4,716.0 434.5,725.0 434.6,734.0 434.6,743.0 434.7,751.6 434.7,751.8"/><polyline points="268.0,55.0 268.5,55.2 267.1,57.0 266.8,58.0 266.3,59.2 265.0,61.0 263.7,62.0 263.5,63.2 256.7,66.0 254.6,66.3 250.0,67.2 242.0,70.0 235.8,71.2 233.7,72.3 229.1,75.0 233.6,75.2 225.3,76.0 225.2,79.2 228.5,79.3 222.3,82.6 229.5,83.2 226.7,84.7 224.9,86.4 227.5,87.2 225.2,89.0 221.9,91.2 228.6,92.3 231.8,95.2 229.1,98.0 230.0,98.3 229.1,99.2 229.3,103.2 227.2,107.0 222.5,107.2 227.0,111.2 222.9,115.2 229.0,116.0 230.8,116.7 237.0,119.2 230.8,123.2 231.9,127.2 227.0,128.0 244.4,130.0 241.4,131.2 246.4,135.2 252.2,139.2 252.3,139.7 253.7,140.0 266.0,149.0 268.9,150.0 273.4,154.0 276.0,158.0 284.8,167.0 295.2,174.0 299.0,176.0 298.9,177.4 310.3,185.0 321.5,192.0 323.8,194.0 327.1,195.0 339.5,203.0 354.4,212.0 359.6,215.5 360.2,215.7 367.4,221.0 375.7,227.2 377.6,230.0 378.8,231.0 384.4,239.0 385.2,240.0 390.9,248.0 393.9,252.0 397.5,257.0 403.2,266.0 403.6,266.3 404.6,270.0 406.5,275.0 409.0,284.0 412.0,293.0 414.2,300.0 414.3,302.0 414.7,311.0 414.9,320.0 415.3,329.0 415.2,330.0 415.9,338.0 416.5,347.0 416.6,350.0 417.1,356.0 417.8,365.0 418.3,374.0 419.0,383.0 419.6,392.0 420.2,400.0 420.2,401.0 420.4,402.0 421.1,410.0 422.0,419.0 422.8,428.0 423.7,437.0 424.5,446.0 425.3,455.0 425.8,460.0 426.2,464.0 427.0,473.0 427.8,482.0 428.4,488.0 428.5,491.0 428.8,500.0 429.2,509.0 429.4,518.0 429.8,527.0 430.1,536.0 430.4,545.0 430.7,554.0 431.0,563.0 431.2,572.0 431.5,576.0 431.5,581.0 431.8,590.0 432.0,599.0 432.3,608.0 432.4,617.0 432.7,626.0 432.8,629.0 432.9,635.0 433.1,644.0 433.4,653.0 433.6,662.0 433.9,671.0 434.1,680.0 434.1,689.0 434.2,698.0 434.3,707.0 434.4,716.0 434.4,725.0 434.5,734.0 434.6,743.0 434.7,751.6 434.6,751.8"/><polyline points="268.0,55.0 267.9,55.2 267.1,57.0 266.1,58.0 266.4,59.2 265.1,61.0 263.7,62.0 263.7,63.2 257.6,66.0 255.9,66.3 250.1,67.2 237.1,70.0 234.6,71.2 234.4,72.3 227.9,75.0 225.7,75.2 227.9,76.0 225.0,79.2 229.8,79.3 222.8,82.6 225.2,83.2 225.4,84.7 226.3,86.4 230.5,87.2 221.0,89.0 226.3,91.2 225.3,92.3 226.2,95.2 224.6,98.0 227.3,98.3 224.0,99.2 224.8,103.2 227.2,107.0 227.5,107.2 222.2,111.2 230.1,115.2 229.0,116.0 231.4,116.7 227.6,119.2 230.3,123.2 226.9,127.2 237.3,128.0 240.8,130.0 230.0,131.2 255.2,135.2 249.3,139.2 258.3,139.7 249.3,140.0 265.6,149.0 264.8,150.0 271.0,154.0 274.5,158.0 286.7,167.0 293.1,174.0 295.1,176.0 296.7,177.4 308.2,185.0 319.8,192.0 321.8,194.0 326.5,195.0 338.6,203.0 353.9,212.0 359.6,215.5 359.7,215.7 366.7,221.0 375.2,227.2 377.7,230.0 378.5,231.0 384.7,239.0 385.2,240.0 391.3,248.0 393.7,252.0 397.6,257.0 403.2,266.0 403.4,266.3 404.4,270.0 406.2,275.0 409.1,284.0 411.9,293.0 414.2,300.0 414.2,302.0 414.6,311.0 414.8,320.0 415.2,329.0 415.2,330.0 415.8,338.0 416.4,347.0 416.6,350.0 417.0,356.0 417.7,365.0 418.3,374.0 418.9,383.0 419.6,392.0 420.1,400.0 420.2,401.0 420.4,402.0 421.1,410.0 421.9,419.0 422.7,428.0 423.6,437.0 424.4,446.0 425.4,455.0 425.8,460.0 426.2,464.0 427.0,473.0 427.8,482.0 428.4,488.0 428.5,491.0 428.8,500.0 429.1,509.0 429.4,518.0 429.7,527.0 430.0,536.0 430.4,545.0 430.6,554.0 430.9,563.0 431.2,572.0 431.4,576.0 431.5,581.0 431.7,590.0 432.0,599.0 432.2,608.0 432.5,617.0 432.7,626.0 432.7,629.0 432.9,635.0 433.1,644.0 433.4,653.0 433.6,662.0 433.9,671.0 434.0,680.0 434.1,689.0 434.2,698.0 434.3,707.0 434.3,716.0 434.4,725.0 434.5,734.0 434.6,743.0 434.7,751.6 434.6,751.8"/><polyline points="268.2,55.0 268.4,55.2 266.9,57.0 266.5,58.0 266.2,59.2 264.7,61.0 264.0,62.0 263.5,63.2 256.7,66.0 256.0,66.3 252.2,67.2 236.6,70.0 238.2,71.2 230.7,72.3 224.9,75.0 226.1,75.2 231.4,76.0 223.0,79.2 227.2,79.3 222.3,82.6 225.6,83.2 227.1,84.7 221.5,86.4 224.6,87.2 222.6,89.0 221.7,91.2 226.5,92.3 228.2,95.2 225.8,98.0 223.8,98.3 226.4,99.2 226.4,103.2 222.5,107.0 222.5,107.2 224.7,111.2 222.9,115.2 227.4,116.0 225.0,116.7 229.8,119.2 225.6,123.2 226.7,127.2 231.4,128.0 238.7,130.0 232.5,131.2 241.2,135.2 245.2,139.2 253.6,139.7 247.7,140.0 263.7,149.0 262.8,150.0 268.6,154.0 273.6,158.0 283.4,167.0 290.8,174.0 291.9,176.0 295.8,177.4 307.9,185.0 320.3,192.0 323.0,194.0 325.8,195.0 338.4,203.0 353.1,212.0 359.5,215.5 359.8,215.7 367.0,221.0 375.4,227.2 377.2,230.0 378.2,231.0 384.3,239.0 384.3,240.0 390.2,248.0 393.3,252.0 397.1,257.0 402.9,266.0 403.0,266.3 404.5,270.0 406.0,275.0 408.9,284.0 411.8,293.0 414.1,300.0 414.2,302.0 414.5,311.0 414.8,320.0 415.1,329.0 415.1,330.0 415.7,338.0 416.4,347.0 416.5,350.0 417.0,356.0 417.6,365.0 418.2,374.0 418.8,383.0 419.5,392.0 420.2,400.0 420.1,401.0 420.3,402.0 421.0,410.0 421.9,419.0 422.7,428.0 423.6,437.0 424.4,446.0 425.3,455.0 425.7,460.0 426.1,464.0 426.9,473.0 427.8,482.0 428.4,488.0 428.5,491.0 428.8,500.0 429.1,509.0 429.4,518.0 429.7,527.0 430.0,536.0 430.3,545.0 430.6,554.0 430.9,563.0 431.2,572.0 431.4,576.0 431.5,581.0 431.7,590.0 432.0,599.0 432.2,608.0 432.4,617.0 432.6,626.0 432.7,629.0 432.9,635.0 433.2,644.0 433.3,653.0 433.6,662.0 433.8,671.0 434.1,680.0 434.1,689.0 434.2,698.0 434.3,707.0 434.4,716.0 434.4,725.0 434.5,734.0 434.6,743.0 434.6,751.6 434.7,751.8"/><polyline points="268.3,55.0 267.9,55.2 267.0,57.0 266.3,58.0 265.7,59.2 264.9,61.0 264.3,62.0 263.0,63.2 255.5,66.0 254.6,66.3 249.5,67.2 238.1,70.0 234.6,71.2 230.1,72.3 228.0,75.0 225.4,75.2 226.3,76.0 223.2,79.2 229.8,79.3 222.3,82.6 222.2,83.2 222.5,84.7 222.1,86.4 223.2,87.2 223.0,89.0 222.3,91.2 226.6,92.3 226.2,95.2 226.2,98.0 223.8,98.3 226.2,99.2 223.2,103.2 225.8,107.0 233.1,107.2 224.3,111.2 224.3,115.2 223.0,116.0 227.8,116.7 223.9,119.2 230.3,123.2 227.3,127.2 227.0,128.0 234.8,130.0 230.0,131.2 236.7,135.2 249.4,139.2 244.0,139.7 247.9,140.0 260.2,149.0 263.4,150.0 268.5,154.0 270.3,158.0 280.9,167.0 289.2,174.0 291.9,176.0 294.8,177.4 306.0,185.0 318.8,192.0 321.9,194.0 324.5,195.0 338.4,203.0 353.1,212.0 359.1,215.5 359.8,215.7 366.8,221.0 375.1,227.2 377.2,230.0 378.1,231.0 384.3,239.0 384.7,240.0 390.1,248.0 392.9,252.0 396.8,257.0 402.8,266.0 403.3,266.3 404.4,270.0 406.0,275.0 408.9,284.0 411.8,293.0 414.1,300.0 414.2,302.0 414.5,311.0 414.7,320.0 415.1,329.0 415.1,330.0 415.6,338.0 416.3,347.0 416.6,350.0 416.9,356.0 417.5,365.0 418.1,374.0 418.8,383.0 419.5,392.0 420.0,400.0 420.1,401.0 420.2,402.0 421.0,410.0 421.9,419.0 422.7,428.0 423.5,437.0 424.4,446.0 425.2,455.0 425.7,460.0 426.1,464.0 426.9,473.0 427.8,482.0 428.3,488.0 428.4,491.0 428.8,500.0 429.1,509.0 429.3,518.0 429.7,527.0 430.0,536.0 430.2,545.0 430.6,554.0 430.9,563.0 431.2,572.0 431.3,576.0 431.5,581.0 431.7,590.0 431.9,599.0 432.1,608.0 432.4,617.0 432.6,626.0 432.7,629.0 432.9,635.0 433.1,644.0 433.3,653.0 433.6,662.0 433.8,671.0 434.0,680.0 434.1,689.0 434.2,698.0 434.2,707.0 434.3,716.0 434.4,725.0 434.5,734.0 434.5,743.0 434.6,751.6 434.6,751.8"/><polyline points="268.1,55.0 268.2,55.2 266.8,57.0 266.1,58.0 265.4,59.2 264.5,61.0 263.7,62.0 264.0,63.2 256.0,66.0 256.7,66.3 249.5,67.2 236.6,70.0 233.1,71.2 233.5,72.3 224.2,75.0 224.7,75.2 223.7,76.0 223.0,79.2 224.8,79.3 222.3,82.6 222.2,83.2 221.9,84.7 223.7,86.4 223.4,87.2 222.3,89.0 224.5,91.2 224.1,92.3 225.1,95.2 223.7,98.0 225.4,98.3 224.0,99.2 224.7,103.2 222.5,107.0 222.6,107.2 222.5,111.2 227.1,115.2 223.0,116.0 223.1,116.7 224.8,119.2 224.7,123.2 226.7,127.2 231.0,128.0 228.0,130.0 231.1,131.2 237.2,135.2 248.4,139.2 244.6,139.7 244.6,140.0 259.4,149.0 261.9,150.0 266.3,154.0 270.3,158.0 280.9,167.0 289.0,174.0 291.4,176.0 294.5,177.4 306.0,185.0 318.0,192.0 322.7,194.0 323.2,195.0 337.5,203.0 353.1,212.0 359.0,215.5 359.3,215.7 366.5,221.0 375.0,227.2 377.0,230.0 377.7,231.0 383.5,239.0 384.2,240.0 390.0,248.0 392.8,252.0 396.3,257.0 402.9,266.0 403.1,266.3 404.2,270.0 405.9,275.0 408.8,284.0 411.8,293.0 414.0,300.0 414.1,302.0 414.4,311.0 414.7,320.0 415.0,329.0 415.0,330.0 415.6,338.0 416.2,347.0 416.5,350.0 416.9,356.0 417.5,365.0 418.2,374.0 418.8,383.0 419.4,392.0 420.0,400.0 420.1,401.0 420.3,402.0 420.9,410.0 421.8,419.0 422.7,428.0 423.5,437.0 424.3,446.0 425.2,455.0 425.7,460.0 426.0,464.0 426.9,473.0 427.7,482.0 428.3,488.0 428.4,491.0 428.7,500.0 429.0,509.0 429.3,518.0 429.6,527.0 429.9,536.0 430.2,545.0 430.6,554.0 430.9,563.0 431.2,572.0 431.3,576.0 431.4,581.0 431.7,590.0 431.9,599.0 432.2,608.0 432.4,617.0 432.6,626.0 432.7,629.0 432.8,635.0 433.1,644.0 433.3,653.0 433.5,662.0 433.8,671.0 434.0,680.0 434.1,689.0 434.2,698.0 434.2,707.0 434.3,716.0 434.4,725.0 434.5,734.0 434.5,743.0 434.6,751.6 434.6,751.8"/><polyline points="267.6,55.0 267.6,55.2 266.3,57.0 265.6,58.0 265.4,59.2 261.5,61.0 261.2,62.0 262.9,63.2 249.1,66.0 246.6,66.3 239.0,67.2 232.8,70.0 226.8,71.2 230.0,72.3 212.7,75.0 220.6,75.2 219.2,76.0 220.3,79.2 222.6,79.3 222.3,82.6 218.3,83.2 221.9,84.7 217.6,86.4 220.5,87.2 217.9,89.0 219.6,91.2 220.8,92.3 221.9,95.2 219.1,98.0 218.5,98.3 217.2,99.2 223.2,103.2 219.9,107.0 218.8,107.2 215.0,111.2 220.8,115.2 223.0,116.0 221.9,116.7 223.6,119.2 222.2,123.2 226.0,127.2 226.1,128.0 228.0,130.0 229.7,131.2 236.6,135.2 242.9,139.2 243.3,139.7 244.3,140.0 258.8,149.0 260.7,150.0 265.2,154.0 270.1,158.0 280.5,167.0 288.5,174.0 291.4,176.0 292.6,177.4 305.6,185.0 317.6,192.0 321.1,194.0 323.0,195.0 336.9,203.0 352.8,212.0 358.7,215.5 358.9,215.7 366.3,221.0 374.8,227.2 376.8,230.0 377.4,231.0 383.2,239.0 383.8,240.0 389.7,248.0 392.5,252.0 396.1,257.0 402.6,266.0 402.9,266.3 404.0,270.0 405.7,275.0 408.7,284.0 411.5,293.0 413.9,300.0 414.0,302.0 414.3,311.0 414.5,320.0 414.8,329.0 414.8,330.0 415.4,338.0 416.1,347.0 416.3,350.0 416.8,356.0 417.4,365.0 418.0,374.0 418.6,383.0 419.3,392.0 419.9,400.0 420.0,401.0 420.1,402.0 420.8,410.0 421.7,419.0 422.5,428.0 423.3,437.0 424.3,446.0 425.1,455.0 425.6,460.0 426.0,464.0 426.7,473.0 427.7,482.0 428.2,488.0 428.3,491.0 428.6,500.0 428.9,509.0 429.3,518.0 429.6,527.0 429.9,536.0 430.2,545.0 430.4,554.0 430.8,563.0 431.1,572.0 431.3,576.0 431.4,581.0 431.6,590.0 431.8,599.0 432.1,608.0 432.3,617.0 432.5,626.0 432.6,629.0 432.8,635.0 433.0,644.0 433.2,653.0 433.4,662.0 433.7,671.0 433.9,680.0 434.0,689.0 434.1,698.0 434.2,707.0 434.3,716.0 434.3,725.0 434.4,734.0 434.5,743.0 434.6,751.6 434.6,751.8"/><polyline points="267.5,55.0 267.3,55.2 266.7,57.0 265.0,58.0 263.7,59.2 259.2,61.0 257.0,62.0 259.1,63.2 248.9,66.0 248.9,66.3 237.5,67.2 225.6,70.0 220.2,71.2 223.9,72.3 214.3,75.0 216.6,75.2 214.5,76.0 218.2,79.2 218.9,79.3 213.0,82.6 219.8,83.2 215.4,84.7 211.4,86.4 219.2,87.2 217.2,89.0 216.0,91.2 221.3,92.3 216.4,95.2 221.3,98.0 222.8,98.3 217.7,99.2 219.5,103.2 211.6,107.0 212.0,107.2 213.8,111.2 220.2,115.2 220.3,116.0 218.5,116.7 223.4,119.2 221.9,123.2 224.8,127.2 225.1,128.0 227.3,130.0 229.6,131.2 235.4,135.2 242.9,139.2 243.1,139.7 243.8,140.0 258.9,149.0 260.3,150.0 264.9,154.0 269.5,158.0 280.1,167.0 288.6,174.0 290.6,176.0 292.4,177.4 305.5,185.0 317.3,192.0 321.1,194.0 322.5,195.0 336.6,203.0 352.5,212.0 358.5,215.5 358.8,215.7 366.0,221.0 374.3,227.2 376.2,230.0 376.9,231.0 382.9,239.0 383.5,240.0 389.5,248.0 392.3,252.0 395.9,257.0 402.4,266.0 402.8,266.3 403.9,270.0 405.6,275.0 408.5,284.0 411.4,293.0 413.7,300.0 413.9,302.0 414.2,311.0 414.4,320.0 414.7,329.0 414.8,330.0 415.3,338.0 415.9,347.0 416.2,350.0 416.7,356.0 417.3,365.0 417.8,374.0 418.5,383.0 419.2,392.0 419.8,400.0 419.9,401.0 419.9,402.0 420.8,410.0 421.6,419.0 422.4,428.0 423.2,437.0 424.2,446.0 425.0,455.0 425.5,460.0 425.9,464.0 426.7,473.0 427.5,482.0 428.2,488.0 428.2,491.0 428.6,500.0 428.9,509.0 429.1,518.0 429.5,527.0 429.8,536.0 430.1,545.0 430.4,554.0 430.7,563.0 431.0,572.0 431.2,576.0 431.3,581.0 431.6,590.0 431.8,599.0 431.9,608.0 432.2,617.0 432.5,626.0 432.5,629.0 432.7,635.0 433.0,644.0 433.2,653.0 433.4,662.0 433.6,671.0 433.9,680.0 434.0,689.0 434.1,698.0 434.1,707.0 434.2,716.0 434.3,725.0 434.4,734.0 434.4,743.0 434.5,751.6 434.5,751.8"/><polyline points="267.6,55.0 267.5,55.2 265.4,57.0 265.1,58.0 262.7,59.2 260.4,61.0 254.2,62.0 253.7,63.2 242.7,66.0 246.9,66.3 239.5,67.2 227.8,70.0 222.9,71.2 217.9,72.3 214.3,75.0 216.7,75.2 208.0,76.0 211.2,79.2 216.8,79.3 216.5,82.6 213.5,83.2 214.8,84.7 213.8,86.4 215.1,87.2 217.0,89.0 215.9,91.2 215.9,92.3 215.2,95.2 216.2,98.0 222.4,98.3 216.8,99.2 207.9,103.2 212.9,107.0 204.2,107.2 213.9,111.2 219.1,115.2 217.7,116.0 215.7,116.7 218.3,119.2 220.3,123.2 224.5,127.2 224.7,128.0 227.0,130.0 229.4,131.2 235.1,135.2 241.7,139.2 242.9,139.7 243.6,140.0 258.2,149.0 259.7,150.0 264.6,154.0 269.3,158.0 280.0,167.0 287.9,174.0 290.2,176.0 292.1,177.4 305.0,185.0 317.1,192.0 320.4,194.0 322.4,195.0 336.5,203.0 352.1,212.0 358.0,215.5 358.5,215.7 365.8,221.0 373.8,227.2 376.1,230.0 376.9,231.0 382.5,239.0 383.5,240.0 389.0,248.0 391.8,252.0 395.7,257.0 402.3,266.0 402.5,266.3 403.8,270.0 405.2,275.0 408.3,284.0 411.3,293.0 413.6,300.0 413.7,302.0 414.0,311.0 414.3,320.0 414.6,329.0 414.7,330.0 415.2,338.0 415.9,347.0 416.1,350.0 416.5,356.0 417.1,365.0 417.8,374.0 418.4,383.0 419.1,392.0 419.6,400.0 419.7,401.0 419.9,402.0 420.6,410.0 421.4,419.0 422.3,428.0 423.1,437.0 424.0,446.0 424.8,455.0 425.4,460.0 425.8,464.0 426.6,473.0 427.4,482.0 428.0,488.0 428.1,491.0 428.5,500.0 428.7,509.0 429.1,518.0 429.4,527.0 429.7,536.0 430.0,545.0 430.3,554.0 430.6,563.0 431.0,572.0 431.0,576.0 431.2,581.0 431.4,590.0 431.7,599.0 431.9,608.0 432.2,617.0 432.4,626.0 432.5,629.0 432.6,635.0 432.9,644.0 433.1,653.0 433.3,662.0 433.6,671.0 433.8,680.0 433.9,689.0 434.0,698.0 434.0,707.0 434.1,716.0 434.2,725.0 434.3,734.0 434.4,743.0 434.5,751.6 434.5,751.8"/><polyline points="266.9,55.0 266.7,55.2 265.1,57.0 263.1,58.0 261.0,59.2 257.2,61.0 253.0,62.0 248.9,63.2 241.6,66.0 236.3,66.3 237.0,67.2 226.0,70.0 220.3,71.2 212.6,72.3 212.7,75.0 216.3,75.2 213.1,76.0 209.2,79.2 209.0,79.3 210.9,82.6 210.9,83.2 210.2,84.7 209.0,86.4 210.8,87.2 214.5,89.0 209.1,91.2 210.1,92.3 215.0,95.2 216.2,98.0 213.8,98.3 206.4,99.2 206.4,103.2 215.3,107.0 207.0,107.2 208.4,111.2 214.4,115.2 212.3,116.0 218.7,116.7 216.3,119.2 219.9,123.2 223.5,127.2 224.9,128.0 226.2,130.0 228.9,131.2 234.9,135.2 241.9,139.2 242.3,139.7 242.7,140.0 258.0,149.0 259.6,150.0 264.2,154.0 269.1,158.0 279.5,167.0 287.5,174.0 290.1,176.0 291.6,177.4 304.7,185.0 317.2,192.0 320.6,194.0 322.1,195.0 335.9,203.0 351.7,212.0 357.9,215.5 358.2,215.7 365.3,221.0 373.7,227.2 375.6,230.0 376.3,231.0 382.3,239.0 383.3,240.0 388.9,248.0 391.7,252.0 395.5,257.0 402.0,266.0 402.4,266.3 403.6,270.0 405.1,275.0 408.2,284.0 411.2,293.0 413.5,300.0 413.6,302.0 413.9,311.0 414.2,320.0 414.5,329.0 414.4,330.0 415.1,338.0 415.7,347.0 415.9,350.0 416.4,356.0 417.1,365.0 417.6,374.0 418.2,383.0 419.0,392.0 419.5,400.0 419.6,401.0 419.7,402.0 420.5,410.0 421.3,419.0 422.2,428.0 423.0,437.0 423.9,446.0 424.7,455.0 425.2,460.0 425.6,464.0 426.5,473.0 427.3,482.0 428.0,488.0 428.1,491.0 428.4,500.0 428.7,509.0 429.0,518.0 429.3,527.0 429.6,536.0 429.9,545.0 430.2,554.0 430.6,563.0 430.9,572.0 431.0,576.0 431.1,581.0 431.4,590.0 431.6,599.0 431.9,608.0 432.1,617.0 432.3,626.0 432.4,629.0 432.6,635.0 432.9,644.0 433.0,653.0 433.3,662.0 433.5,671.0 433.8,680.0 433.8,689.0 433.9,698.0 434.0,707.0 434.1,716.0 434.2,725.0 434.3,734.0 434.3,743.0 434.4,751.6 434.5,751.8"/><polyline points="266.6,55.0 266.3,55.2 265.3,57.0 263.8,58.0 260.9,59.2 252.3,61.0 253.9,62.0 253.8,63.2 240.6,66.0 232.7,66.3 234.6,67.2 213.8,70.0 213.5,71.2 209.3,72.3 209.4,75.0 205.3,75.2 209.1,76.0 208.6,79.2 209.2,79.3 207.2,82.6 209.8,83.2 204.9,84.7 212.7,86.4 209.9,87.2 209.4,89.0 211.0,91.2 205.1,92.3 209.3,95.2 206.2,98.0 207.0,98.3 207.8,99.2 209.2,103.2 207.1,107.0 207.0,107.2 207.1,111.2 211.1,115.2 209.2,116.0 215.7,116.7 216.8,119.2 217.9,123.2 222.2,127.2 223.9,128.0 226.1,130.0 227.4,131.2 234.8,135.2 241.4,139.2 241.8,139.7 242.4,140.0 257.6,149.0 258.9,150.0 263.9,154.0 268.4,158.0 279.0,167.0 287.5,174.0 289.6,176.0 291.4,177.4 304.5,185.0 316.6,192.0 320.1,194.0 321.9,195.0 335.8,203.0 351.5,212.0 357.4,215.5 357.8,215.7 365.1,221.0 373.1,227.2 375.3,230.0 376.2,231.0 382.1,239.0 382.8,240.0 388.5,248.0 391.6,252.0 395.3,257.0 402.0,266.0 402.1,266.3 403.3,270.0 405.0,275.0 408.0,284.0 411.1,293.0 413.4,300.0 413.5,302.0 413.7,311.0 414.1,320.0 414.4,329.0 414.4,330.0 415.0,338.0 415.6,347.0 415.9,350.0 416.2,356.0 417.0,365.0 417.5,374.0 418.1,383.0 418.8,392.0 419.4,400.0 419.5,401.0 419.6,402.0 420.4,410.0 421.2,419.0 421.9,428.0 423.0,437.0 423.8,446.0 424.6,455.0 425.2,460.0 425.5,464.0 426.4,473.0 427.3,482.0 427.8,488.0 428.0,491.0 428.3,500.0 428.6,509.0 428.9,518.0 429.2,527.0 429.6,536.0 429.8,545.0 430.2,554.0 430.5,563.0 430.7,572.0 430.9,576.0 431.0,581.0 431.3,590.0 431.5,599.0 431.8,608.0 432.0,617.0 432.2,626.0 432.3,629.0 432.5,635.0 432.7,644.0 433.0,653.0 433.2,662.0 433.5,671.0 433.7,680.0 433.8,689.0 433.9,698.0 434.0,707.0 434.1,716.0 434.1,725.0 434.2,734.0 434.3,743.0 434.4,751.6 434.4,751.8"/><polyline points="266.8,55.0 266.4,55.2 264.8,57.0 262.9,58.0 258.1,59.2 252.0,61.0 248.3,62.0 248.7,63.2 233.6,66.0 225.8,66.3 224.8,67.2 207.5,70.0 208.8,71.2 201.9,72.3 205.4,75.0 208.7,75.2 208.2,76.0 207.9,79.2 205.7,79.3 207.3,82.6 204.7,83.2 206.9,84.7 206.0,86.4 204.0,87.2 207.9,89.0 212.3,91.2 206.4,92.3 204.8,95.2 202.6,98.0 204.7,98.3 203.9,99.2 201.0,103.2 194.6,107.0 192.7,107.2 209.2,111.2 208.9,115.2 208.3,116.0 212.2,116.7 211.7,119.2 216.8,123.2 222.0,127.2 223.0,128.0 225.7,130.0 227.8,131.2 234.3,135.2 240.9,139.2 241.6,139.7 242.2,140.0 257.2,149.0 258.8,150.0 263.4,154.0 268.3,158.0 278.7,167.0 287.0,174.0 289.5,176.0 291.0,177.4 304.1,185.0 316.5,192.0 319.8,194.0 321.6,195.0 335.6,203.0 351.3,212.0 357.2,215.5 357.3,215.7 364.7,221.0 373.0,227.2 375.2,230.0 376.0,231.0 381.8,239.0 382.5,240.0 388.3,248.0 391.2,252.0 395.1,257.0 401.8,266.0 401.9,266.3 403.3,270.0 404.7,275.0 407.8,284.0 410.9,293.0 413.2,300.0 413.3,302.0 413.6,311.0 413.9,320.0 414.2,329.0 414.2,330.0 414.9,338.0 415.5,347.0 415.7,350.0 416.1,356.0 416.7,365.0 417.5,374.0 418.0,383.0 418.7,392.0 419.3,400.0 419.3,401.0 419.5,402.0 420.2,410.0 421.0,419.0 421.9,428.0 422.7,437.0 423.8,446.0 424.6,455.0 425.1,460.0 425.4,464.0 426.3,473.0 427.2,482.0 427.8,488.0 427.9,491.0 428.2,500.0 428.5,509.0 428.8,518.0 429.2,527.0 429.4,536.0 429.8,545.0 430.1,554.0 430.4,563.0 430.7,572.0 430.8,576.0 431.0,581.0 431.2,590.0 431.5,599.0 431.7,608.0 432.0,617.0 432.2,626.0 432.2,629.0 432.4,635.0 432.6,644.0 432.9,653.0 433.2,662.0 433.4,671.0 433.6,680.0 433.7,689.0 433.8,698.0 433.9,707.0 434.0,716.0 434.1,725.0 434.2,734.0 434.3,743.0 434.4,751.6 434.4,751.8"/><polyline points="266.4,55.0 266.3,55.2 263.9,57.0 263.1,58.0 258.1,59.2 249.7,61.0 246.7,62.0 243.0,63.2 232.4,66.0 224.6,66.3 232.3,67.2 217.9,70.0 208.6,71.2 207.2,72.3 196.5,75.0 197.2,75.2 206.2,76.0 204.0,79.2 207.0,79.3 201.2,82.6 206.3,83.2 205.2,84.7 205.5,86.4 203.0,87.2 204.9,89.0 207.9,91.2 204.8,92.3 201.6,95.2 207.5,98.0 205.1,98.3 199.2,99.2 194.9,103.2 193.3,107.0 194.7,107.2 199.8,111.2 207.4,115.2 211.0,116.0 206.0,116.7 211.2,119.2 217.6,123.2 221.1,127.2 223.4,128.0 225.0,130.0 227.3,131.2 233.9,135.2 241.1,139.2 241.3,139.7 241.7,140.0 256.6,149.0 258.4,150.0 263.1,154.0 267.8,158.0 278.3,167.0 286.6,174.0 289.1,176.0 290.5,177.4 303.8,185.0 316.0,192.0 319.5,194.0 321.2,195.0 335.2,203.0 351.0,212.0 357.1,215.5 357.3,215.7 364.1,221.0 372.8,227.2 374.8,230.0 375.5,231.0 381.3,239.0 382.2,240.0 388.2,248.0 391.2,252.0 394.9,257.0 401.5,266.0 401.8,266.3 403.0,270.0 404.7,275.0 407.7,284.0 410.8,293.0 413.2,300.0 413.1,302.0 413.4,311.0 413.8,320.0 414.2,329.0 414.2,330.0 414.6,338.0 415.3,347.0 415.6,350.0 416.0,356.0 416.7,365.0 417.2,374.0 417.9,383.0 418.6,392.0 419.2,400.0 419.2,401.0 419.4,402.0 420.1,410.0 420.9,419.0 421.8,428.0 422.6,437.0 423.5,446.0 424.4,455.0 424.9,460.0 425.3,464.0 426.2,473.0 427.2,482.0 427.6,488.0 427.8,491.0 428.1,500.0 428.4,509.0 428.8,518.0 429.1,527.0 429.3,536.0 429.7,545.0 430.0,554.0 430.3,563.0 430.7,572.0 430.8,576.0 431.0,581.0 431.2,590.0 431.4,599.0 431.7,608.0 431.9,617.0 432.1,626.0 432.2,629.0 432.4,635.0 432.6,644.0 432.8,653.0 433.1,662.0 433.3,671.0 433.6,680.0 433.7,689.0 433.8,698.0 433.9,707.0 434.0,716.0 434.1,725.0 434.2,734.0 434.3,743.0 434.3,751.6 434.3,751.8"/><polyline points="266.0,55.0 265.7,55.2 263.3,57.0 262.0,58.0 256.9,59.2 249.2,61.0 245.0,62.0 239.0,63.2 225.0,66.0 223.6,66.3 219.3,67.2 206.0,70.0 203.7,71.2 201.6,72.3 196.5,75.0 196.6,75.2 197.0,76.0 198.8,79.2 198.8,79.3 200.6,82.6 200.9,83.2 201.7,84.7 202.6,86.4 203.0,87.2 204.0,89.0 203.1,91.2 202.7,92.3 201.6,95.2 200.5,98.0 200.2,98.3 199.2,99.2 194.9,103.2 190.8,107.0 191.1,107.2 197.4,111.2 203.7,115.2 205.0,116.0 206.0,116.7 209.6,119.2 215.3,123.2 221.0,127.2 222.1,128.0 225.0,130.0 227.0,131.2 233.6,135.2 240.2,139.2 241.0,139.7 241.5,140.0 256.4,149.0 258.0,150.0 262.7,154.0 267.4,158.0 278.0,167.0 286.3,174.0 288.6,176.0 290.3,177.4 303.5,185.0 315.7,192.0 319.2,194.0 320.9,195.0 334.9,203.0 350.6,212.0 356.7,215.5 357.0,215.7 364.0,221.0 372.3,227.2 374.4,230.0 375.1,231.0 381.1,239.0 381.9,240.0 387.9,248.0 390.9,252.0 394.6,257.0 401.4,266.0 401.6,266.3 402.9,270.0 404.5,275.0 407.6,284.0 410.6,293.0 413.0,300.0 413.1,302.0 413.4,311.0 413.7,320.0 414.0,329.0 414.0,330.0 414.6,338.0 415.2,347.0 415.4,350.0 415.9,356.0 416.5,365.0 417.1,374.0 417.8,383.0 418.4,392.0 419.0,400.0 419.1,401.0 419.2,402.0 420.0,410.0 420.9,419.0 421.7,428.0 422.6,437.0 423.5,446.0 424.4,455.0 424.9,460.0 425.3,464.0 426.1,473.0 427.0,482.0 427.6,488.0 427.7,491.0 428.0,500.0 428.3,509.0 428.7,518.0 429.0,527.0 429.3,536.0 429.6,545.0 429.9,554.0 430.2,563.0 430.6,572.0 430.7,576.0 430.8,581.0 431.1,590.0 431.3,599.0 431.6,608.0 431.8,617.0 432.0,626.0 432.1,629.0 432.3,635.0 432.5,644.0 432.8,653.0 433.0,662.0 433.3,671.0 433.5,680.0 433.6,689.0 433.7,698.0 433.8,707.0 433.9,716.0 434.0,725.0 434.1,734.0 434.2,743.0 434.3,751.6 434.3,751.8"/><polyline points="581.0,55.0 583.4,55.2 581.4,57.0 581.5,58.0 581.7,59.2 583.4,61.0 582.7,62.0 582.5,63.2 582.9,66.0 583.0,66.3 587.4,67.2 600.9,70.0 606.7,71.2 612.0,72.3 636.1,75.0 637.9,75.2 645.0,76.0 678.0,79.2 679.0,79.3 705.0,82.6 695.0,83.2 671.0,84.7 637.8,86.4 635.9,87.2 628.6,89.0 623.1,91.2 621.4,92.3 616.6,95.2 614.3,98.0 616.4,98.3 610.2,99.2 604.6,103.2 610.5,107.0 602.8,107.2 601.0,111.2 599.2,115.2 600.6,116.0 605.5,116.7 597.4,119.2 595.5,123.2 595.8,127.2 593.4,128.0 592.5,130.0 594.8,131.2 590.5,135.2 590.4,139.2 588.8,139.7 589.8,140.0 585.4,149.0 587.2,150.0 583.1,154.0 581.2,158.0 576.9,167.0 572.1,174.0 569.3,176.0 568.1,177.4 559.4,185.0 551.0,192.0 548.9,194.0 547.2,195.0 537.9,203.0 525.8,212.0 521.8,215.5 521.6,215.7 516.0,221.0 509.3,227.2 506.1,230.0 505.0,231.0 499.1,239.0 498.4,240.0 493.4,248.0 492.2,252.0 490.8,257.0 488.2,266.0 488.1,266.3 487.0,270.0 486.0,275.0 484.3,284.0 482.7,293.0 481.2,300.0 481.4,302.0 479.9,311.0 479.0,320.0 478.1,329.0 478.2,330.0 477.3,338.0 476.3,347.0 476.0,350.0 475.9,356.0 475.4,365.0 475.2,374.0 474.7,383.0 474.6,392.0 474.2,400.0 474.2,401.0 474.0,402.0 473.3,410.0 472.2,419.0 471.5,428.0 470.4,437.0 469.5,446.0 468.5,455.0 468.0,460.0 467.7,464.0 467.1,473.0 466.4,482.0 466.0,488.0 465.6,491.0 464.3,500.0 463.0,509.0 461.7,518.0 460.4,527.0 459.1,536.0 457.8,545.0 456.5,554.0 456.1,563.0 455.5,572.0 455.3,576.0 455.1,581.0 454.6,590.0 454.1,599.0 453.6,608.0 453.1,617.0 452.7,626.0 452.5,629.0 452.4,635.0 452.2,644.0 452.0,653.0 451.9,662.0 451.7,671.0 451.5,680.0 451.5,689.0 451.5,698.0 451.5,707.0 451.4,716.0 451.4,725.0 451.3,734.0 451.3,743.0 451.3,751.6 451.3,751.8"/><polyline points="581.6,55.0 584.4,55.2 582.0,57.0 581.5,58.0 582.2,59.2 582.1,61.0 583.1,62.0 582.9,63.2 583.0,66.0 583.0,66.3 587.4,67.2 600.9,70.0 606.7,71.2 612.0,72.3 636.1,75.0 637.9,75.2 645.0,76.0 678.0,79.2 679.0,79.3 705.1,82.6 695.0,83.2 670.0,84.7 639.6,86.4 636.3,87.2 628.9,89.0 623.1,91.2 621.3,92.3 617.0,95.2 612.1,98.0 612.8,98.3 610.2,99.2 613.5,103.2 602.9,107.0 609.5,107.2 601.0,111.2 605.3,115.2 598.8,116.0 598.5,116.7 597.4,119.2 598.2,123.2 593.7,127.2 598.2,128.0 596.5,130.0 597.7,131.2 596.8,135.2 589.0,139.2 592.1,139.7 590.1,140.0 586.3,149.0 586.4,150.0 585.0,154.0 581.2,158.0 576.9,167.0 572.2,174.0 571.7,176.0 567.7,177.4 560.1,185.0 551.0,192.0 549.6,194.0 547.3,195.0 537.5,203.0 525.6,212.0 522.2,215.5 522.1,215.7 516.2,221.0 509.2,227.2 506.1,230.0 505.0,231.0 499.1,239.0 498.4,240.0 493.4,248.0 492.2,252.0 491.0,257.0 488.3,266.0 488.7,266.3 487.1,270.0 486.0,275.0 484.5,284.0 482.4,293.0 481.1,300.0 480.8,302.0 480.0,311.0 479.2,320.0 478.1,329.0 478.0,330.0 477.2,338.0 476.3,347.0 476.0,350.0 475.8,356.0 475.7,365.0 475.2,374.0 474.7,383.0 474.4,392.0 474.1,400.0 474.4,401.0 474.0,402.0 473.2,410.0 472.2,419.0 471.5,428.0 470.4,437.0 469.5,446.0 468.6,455.0 468.1,460.0 467.8,464.0 467.2,473.0 466.4,482.0 466.1,488.0 465.6,491.0 464.3,500.0 463.0,509.0 461.7,518.0 460.4,527.0 459.1,536.0 457.9,545.0 456.6,554.0 456.0,563.0 455.5,572.0 455.3,576.0 455.1,581.0 454.6,590.0 454.1,599.0 453.7,608.0 453.2,617.0 452.7,626.0 452.5,629.0 452.4,635.0 452.2,644.0 452.0,653.0 451.9,662.0 451.7,671.0 451.6,680.0 451.5,689.0 451.5,698.0 451.4,707.0 451.4,716.0 451.4,725.0 451.4,734.0 451.3,743.0 451.3,751.6 451.3,751.8"/><polyline points="581.0,55.0 582.4,55.2 583.1,57.0 581.5,58.0 581.7,59.2 582.1,61.0 582.4,62.0 583.2,63.2 582.9,66.0 583.0,66.3 587.4,67.2 600.9,70.0 606.7,71.2 612.0,72.3 636.1,75.0 637.9,75.2 645.0,76.0 678.0,79.2 679.0,79.3 705.1,82.6 695.0,83.2 671.8,84.7 638.4,86.4 638.9,87.2 628.6,89.0 624.3,91.2 621.3,92.3 616.6,95.2 616.3,98.0 611.6,98.3 613.2,99.2 604.6,103.2 606.0,107.0 602.8,107.2 605.1,111.2 599.2,115.2 598.8,116.0 601.0,116.7 604.3,119.2 595.5,123.2 593.7,127.2 593.4,128.0 592.5,130.0 591.9,131.2 590.8,135.2 592.4,139.2 596.6,139.7 588.7,140.0 587.2,149.0 585.4,150.0 585.9,154.0 581.2,158.0 577.3,167.0 572.8,174.0 571.0,176.0 568.1,177.4 559.0,185.0 551.9,192.0 549.0,194.0 547.2,195.0 537.5,203.0 525.9,212.0 521.8,215.5 522.0,215.7 516.0,221.0 509.4,227.2 506.1,230.0 505.0,231.0 499.2,239.0 498.4,240.0 493.6,248.0 492.2,252.0 490.8,257.0 488.5,266.0 488.2,266.3 487.4,270.0 486.4,275.0 484.3,284.0 482.6,293.0 481.0,300.0 481.1,302.0 480.1,311.0 479.1,320.0 478.1,329.0 478.3,330.0 477.4,338.0 476.4,347.0 476.2,350.0 476.0,356.0 475.4,365.0 475.1,374.0 474.8,383.0 474.7,392.0 474.1,400.0 474.3,401.0 474.2,402.0 473.2,410.0 472.3,419.0 471.4,428.0 470.6,437.0 469.5,446.0 468.6,455.0 468.0,460.0 467.8,464.0 467.1,473.0 466.5,482.0 466.0,488.0 465.8,491.0 464.3,500.0 463.0,509.0 461.8,518.0 460.4,527.0 459.1,536.0 457.8,545.0 456.6,554.0 456.1,563.0 455.5,572.0 455.3,576.0 455.1,581.0 454.7,590.0 454.1,599.0 453.6,608.0 453.1,617.0 452.7,626.0 452.5,629.0 452.4,635.0 452.2,644.0 452.0,653.0 451.9,662.0 451.7,671.0 451.5,680.0 451.5,689.0 451.4,698.0 451.4,707.0 451.4,716.0 451.4,725.0 451.4,734.0 451.3,743.0 451.3,751.6 451.4,751.8"/><polyline points="582.3,55.0 582.2,55.2 582.3,57.0 582.6,58.0 582.0,59.2 583.1,61.0 582.5,62.0 583.4,63.2 583.1,66.0 583.0,66.3 587.4,67.2 600.9,70.0 606.7,71.2 612.0,72.3 636.1,75.0 637.9,75.2 645.0,76.0 678.0,79.2 679.0,79.3 705.1,82.6 695.6,83.2 670.3,84.7 639.0,86.4 640.1,87.2 631.4,89.0 623.1,91.2 626.6,92.3 617.9,95.2 620.6,98.0 616.6,98.3 610.2,99.2 605.7,103.2 602.9,107.0 607.0,107.2 601.0,111.2 599.2,115.2 601.5,116.0 600.0,116.7 603.7,119.2 599.3,123.2 601.9,127.2 599.1,128.0 600.7,130.0 594.9,131.2 590.5,135.2 589.0,139.2 588.8,139.7 591.6,140.0 588.8,149.0 586.4,150.0 583.1,154.0 583.4,158.0 578.7,167.0 572.4,174.0 570.8,176.0 568.9,177.4 559.8,185.0 551.9,192.0 549.7,194.0 547.7,195.0 537.0,203.0 526.1,212.0 522.6,215.5 521.7,215.7 516.2,221.0 509.3,227.2 506.2,230.0 505.1,231.0 499.3,239.0 498.4,240.0 493.4,248.0 492.3,252.0 490.8,257.0 488.4,266.0 488.3,266.3 487.0,270.0 486.7,275.0 484.4,284.0 482.5,293.0 481.6,300.0 481.4,302.0 479.9,311.0 479.0,320.0 478.7,329.0 478.3,330.0 477.3,338.0 476.3,347.0 476.5,350.0 476.3,356.0 475.7,365.0 475.5,374.0 474.7,383.0 474.6,392.0 474.2,400.0 474.3,401.0 474.1,402.0 473.3,410.0 472.3,419.0 471.3,428.0 470.5,437.0 469.5,446.0 468.6,455.0 468.1,460.0 467.9,464.0 467.2,473.0 466.6,482.0 466.1,488.0 465.6,491.0 464.3,500.0 463.1,509.0 461.8,518.0 460.5,527.0 459.2,536.0 457.9,545.0 456.6,554.0 456.1,563.0 455.6,572.0 455.4,576.0 455.1,581.0 454.6,590.0 454.2,599.0 453.6,608.0 453.2,617.0 452.7,626.0 452.5,629.0 452.4,635.0 452.2,644.0 452.1,653.0 452.0,662.0 451.7,671.0 451.5,680.0 451.5,689.0 451.5,698.0 451.5,707.0 451.4,716.0 451.4,725.0 451.4,734.0 451.3,743.0 451.3,751.6 451.4,751.8"/><polyline points="582.4,55.0 582.6,55.2 581.4,57.0 581.5,58.0 582.2,59.2 583.2,61.0 582.2,62.0 582.8,63.2 582.9,66.0 583.0,66.3 587.4,67.2 600.9,70.0 606.7,71.2 612.0,72.3 636.1,75.0 637.9,75.2 645.0,76.0 678.0,79.2 679.0,79.3 705.0,82.6 695.5,83.2 670.0,84.7 639.0,86.4 636.3,87.2 630.7,89.0 628.3,91.2 623.0,92.3 622.0,95.2 615.0,98.0 617.4,98.3 616.6,99.2 604.6,103.2 606.8,107.0 602.8,107.2 601.0,111.2 600.3,115.2 600.2,116.0 598.5,116.7 597.4,119.2 600.0,123.2 593.7,127.2 602.5,128.0 592.5,130.0 591.9,131.2 590.5,135.2 595.1,139.2 588.8,139.7 591.4,140.0 591.5,149.0 586.4,150.0 583.8,154.0 583.3,158.0 580.7,167.0 573.3,174.0 571.0,176.0 569.4,177.4 559.2,185.0 551.8,192.0 550.0,194.0 548.1,195.0 538.7,203.0 526.1,212.0 522.0,215.5 521.7,215.7 516.8,221.0 509.5,227.2 506.2,230.0 505.1,231.0 499.4,239.0 498.6,240.0 493.7,248.0 492.3,252.0 490.8,257.0 488.6,266.0 488.3,266.3 487.6,270.0 486.2,275.0 484.9,284.0 482.7,293.0 481.3,300.0 481.2,302.0 480.2,311.0 479.3,320.0 478.5,329.0 478.3,330.0 477.4,338.0 476.4,347.0 476.2,350.0 475.8,356.0 475.8,365.0 475.2,374.0 474.8,383.0 474.6,392.0 474.3,400.0 474.4,401.0 474.2,402.0 473.4,410.0 472.4,419.0 471.5,428.0 470.5,437.0 469.7,446.0 468.6,455.0 468.0,460.0 467.8,464.0 467.2,473.0 466.6,482.0 466.1,488.0 465.8,491.0 464.3,500.0 463.2,509.0 461.8,518.0 460.5,527.0 459.2,536.0 457.8,545.0 456.6,554.0 456.1,563.0 455.6,572.0 455.4,576.0 455.1,581.0 454.7,590.0 454.2,599.0 453.7,608.0 453.2,617.0 452.7,626.0 452.6,629.0 452.4,635.0 452.2,644.0 452.1,653.0 451.9,662.0 451.8,671.0 451.5,680.0 451.6,689.0 451.5,698.0 451.4,707.0 451.4,716.0 451.5,725.0 451.4,734.0 451.4,743.0 451.3,751.6 451.4,751.8"/><polyline points="581.5,55.0 581.0,55.2 583.9,57.0 584.5,58.0 583.3,59.2 583.0,61.0 583.2,62.0 583.3,63.2 583.0,66.0 583.0,66.3 587.4,67.2 600.9,70.0 606.7,71.2 612.0,72.3 636.1,75.0 637.9,75.2 645.0,76.0 678.0,79.2 679.0,79.3 705.0,82.6 696.5,83.2 670.5,84.7 641.0,86.4 635.0,87.2 636.1,89.0 627.1,91.2 626.4,92.3 621.5,95.2 613.4,98.0 611.6,98.3 610.2,99.2 615.1,103.2 608.8,107.0 606.3,107.2 608.4,111.2 603.1,115.2 605.9,116.0 603.1,116.7 598.2,119.2 600.7,123.2 599.7,127.2 595.6,128.0 592.5,130.0 596.0,131.2 594.9,135.2 589.7,139.2 591.7,139.7 591.6,140.0 586.8,149.0 585.0,150.0 586.2,154.0 583.2,158.0 579.5,167.0 574.2,174.0 570.6,176.0 567.7,177.4 561.2,185.0 551.8,192.0 549.7,194.0 548.6,195.0 537.6,203.0 527.0,212.0 523.0,215.5 522.5,215.7 516.1,221.0 509.4,227.2 506.2,230.0 505.3,231.0 499.4,239.0 498.7,240.0 493.6,248.0 492.6,252.0 491.4,257.0 488.8,266.0 488.8,266.3 487.2,270.0 486.4,275.0 484.9,284.0 482.9,293.0 481.7,300.0 481.6,302.0 480.6,311.0 479.7,320.0 478.4,329.0 478.5,330.0 477.6,338.0 476.6,347.0 476.7,350.0 476.2,356.0 476.1,365.0 475.5,374.0 475.4,383.0 474.9,392.0 474.1,400.0 474.4,401.0 474.5,402.0 473.4,410.0 472.6,419.0 471.5,428.0 470.7,437.0 469.6,446.0 468.9,455.0 468.3,460.0 467.7,464.0 467.3,473.0 466.6,482.0 466.4,488.0 465.9,491.0 464.4,500.0 463.1,509.0 461.9,518.0 460.6,527.0 459.3,536.0 457.9,545.0 456.7,554.0 456.1,563.0 455.5,572.0 455.3,576.0 455.2,581.0 454.7,590.0 454.1,599.0 453.8,608.0 453.2,617.0 452.7,626.0 452.6,629.0 452.4,635.0 452.3,644.0 452.1,653.0 451.9,662.0 451.7,671.0 451.5,680.0 451.5,689.0 451.5,698.0 451.5,707.0 451.5,716.0 451.4,725.0 451.4,734.0 451.4,743.0 451.3,751.6 451.4,751.8"/><polyline points="584.3,55.0 582.2,55.2 588.0,57.0 581.5,58.0 581.7,59.2 582.5,61.0 582.7,62.0 583.0,63.2 582.9,66.0 583.0,66.3 587.4,67.2 600.9,70.0 606.7,71.2 612.0,72.3 636.1,75.0 637.9,75.2 645.0,76.0 678.0,79.2 679.0,79.3 705.2,82.6 695.0,83.2 670.0,84.7 640.3,86.4 635.8,87.2 633.7,89.0 632.9,91.2 623.1,92.3 620.1,95.2 614.0,98.0 626.7,98.3 610.2,99.2 614.0,103.2 602.9,107.0 610.7,107.2 611.0,111.2 606.3,115.2 607.1,116.0 607.5,116.7 605.4,119.2 601.0,123.2 594.2,127.2 599.9,128.0 601.5,130.0 601.8,131.2 597.0,135.2 591.4,139.2 596.3,139.7 591.9,140.0 589.6,149.0 589.2,150.0 587.0,154.0 585.6,158.0 579.0,167.0 575.2,174.0 571.2,176.0 570.2,177.4 561.8,185.0 552.9,192.0 550.4,194.0 548.8,195.0 539.5,203.0 526.3,212.0 522.8,215.5 522.4,215.7 516.6,221.0 509.6,227.2 506.3,230.0 505.2,231.0 499.4,239.0 498.6,240.0 493.8,248.0 492.6,252.0 491.1,257.0 488.7,266.0 488.6,266.3 487.6,270.0 486.7,275.0 484.9,284.0 482.8,293.0 481.7,300.0 481.4,302.0 480.3,311.0 479.3,320.0 478.5,329.0 478.5,330.0 478.0,338.0 476.8,347.0 476.6,350.0 476.2,356.0 476.0,365.0 475.6,374.0 475.4,383.0 474.7,392.0 474.6,400.0 474.8,401.0 474.6,402.0 473.7,410.0 472.3,419.0 471.5,428.0 470.7,437.0 469.7,446.0 468.8,455.0 468.2,460.0 467.9,464.0 467.3,473.0 466.6,482.0 466.2,488.0 465.9,491.0 464.6,500.0 463.1,509.0 461.8,518.0 460.6,527.0 459.2,536.0 457.9,545.0 456.6,554.0 456.2,563.0 455.6,572.0 455.4,576.0 455.2,581.0 454.6,590.0 454.2,599.0 453.7,608.0 453.2,617.0 452.7,626.0 452.6,629.0 452.4,635.0 452.3,644.0 452.1,653.0 451.9,662.0 451.7,671.0 451.6,680.0 451.6,689.0 451.5,698.0 451.5,707.0 451.5,716.0 451.5,725.0 451.4,734.0 451.4,743.0 451.4,751.6 451.4,751.8"/><polyline points="582.1,55.0 584.7,55.2 584.5,57.0 582.6,58.0 583.2,59.2 582.4,61.0 583.2,62.0 583.8,63.2 583.0,66.0 583.0,66.3 587.4,67.2 600.9,70.0 606.7,71.2 612.0,72.3 636.1,75.0 637.9,75.2 645.0,76.0 678.0,79.2 679.0,79.3 705.3,82.6 695.8,83.2 671.5,84.7 637.8,86.4 639.4,87.2 635.9,89.0 626.8,91.2 631.6,92.3 616.6,95.2 618.5,98.0 611.6,98.3 610.9,99.2 616.9,103.2 614.7,107.0 607.8,107.2 607.7,111.2 603.2,115.2 610.3,116.0 609.0,116.7 599.3,119.2 597.3,123.2 597.7,127.2 597.1,128.0 601.5,130.0 594.4,131.2 592.0,135.2 594.7,139.2 597.1,139.7 595.6,140.0 587.6,149.0 589.7,150.0 586.6,154.0 584.0,158.0 580.8,167.0 574.8,174.0 572.2,176.0 571.2,177.4 561.6,185.0 553.0,192.0 551.0,194.0 549.3,195.0 539.3,203.0 527.0,212.0 522.7,215.5 522.9,215.7 517.1,221.0 509.6,227.2 506.4,230.0 505.1,231.0 499.5,239.0 498.7,240.0 493.9,248.0 492.8,252.0 491.3,257.0 488.7,266.0 488.5,266.3 488.0,270.0 486.5,275.0 484.8,284.0 483.1,293.0 482.1,300.0 481.5,302.0 480.3,311.0 480.0,320.0 479.0,329.0 479.1,330.0 478.0,338.0 477.1,347.0 476.3,350.0 476.7,356.0 476.1,365.0 476.1,374.0 475.2,383.0 474.9,392.0 474.5,400.0 474.7,401.0 474.5,402.0 473.5,410.0 472.7,419.0 471.8,428.0 470.9,437.0 469.7,446.0 468.8,455.0 468.3,460.0 468.0,464.0 467.5,473.0 466.7,482.0 466.2,488.0 465.7,491.0 464.5,500.0 463.2,509.0 461.9,518.0 460.6,527.0 459.3,536.0 457.9,545.0 456.7,554.0 456.2,563.0 455.7,572.0 455.5,576.0 455.1,581.0 454.7,590.0 454.2,599.0 453.8,608.0 453.3,617.0 452.8,626.0 452.6,629.0 452.5,635.0 452.3,644.0 452.2,653.0 452.0,662.0 451.8,671.0 451.6,680.0 451.6,689.0 451.5,698.0 451.5,707.0 451.5,716.0 451.5,725.0 451.5,734.0 451.4,743.0 451.4,751.6 451.5,751.8"/><polyline points="585.6,55.0 584.6,55.2 587.2,57.0 583.2,58.0 585.6,59.2 584.2,61.0 583.5,62.0 582.9,63.2 583.0,66.0 583.0,66.3 587.4,67.2 600.9,70.0 606.7,71.2 612.0,72.3 636.1,75.0 637.9,75.2 645.0,76.0 678.0,79.2 679.0,79.3 705.2,82.6 695.5,83.2 672.6,84.7 643.3,86.4 642.5,87.2 630.5,89.0 631.4,91.2 633.9,92.3 627.2,95.2 618.3,98.0 620.8,98.3 617.3,99.2 610.2,103.2 614.6,107.0 604.2,107.2 605.9,111.2 609.3,115.2 603.5,116.0 607.3,116.7 607.1,119.2 597.6,123.2 596.4,127.2 593.4,128.0 603.0,130.0 600.8,131.2 593.7,135.2 594.3,139.2 592.8,139.7 599.9,140.0 591.1,149.0 592.2,150.0 589.2,154.0 585.9,158.0 581.5,167.0 575.5,174.0 570.7,176.0 571.6,177.4 562.6,185.0 555.2,192.0 551.0,194.0 551.0,195.0 538.9,203.0 527.1,212.0 522.6,215.5 523.7,215.7 516.8,221.0 509.6,227.2 506.5,230.0 505.3,231.0 499.5,239.0 499.0,240.0 494.0,248.0 493.0,252.0 491.5,257.0 489.0,266.0 489.3,266.3 488.1,270.0 486.9,275.0 485.7,284.0 483.2,293.0 481.9,300.0 482.1,302.0 481.2,311.0 480.3,320.0 479.1,329.0 478.8,330.0 478.2,338.0 476.7,347.0 477.1,350.0 476.5,356.0 475.8,365.0 475.9,374.0 475.5,383.0 475.0,392.0 474.8,400.0 474.7,401.0 474.8,402.0 473.6,410.0 472.8,419.0 471.9,428.0 470.5,437.0 470.0,446.0 469.0,455.0 468.4,460.0 467.9,464.0 467.6,473.0 466.8,482.0 466.5,488.0 465.8,491.0 464.6,500.0 463.3,509.0 461.9,518.0 460.6,527.0 459.3,536.0 458.1,545.0 456.7,554.0 456.2,563.0 455.7,572.0 455.6,576.0 455.3,581.0 454.7,590.0 454.2,599.0 453.8,608.0 453.3,617.0 452.8,626.0 452.6,629.0 452.5,635.0 452.4,644.0 452.2,653.0 451.9,662.0 451.9,671.0 451.6,680.0 451.6,689.0 451.6,698.0 451.5,707.0 451.6,716.0 451.5,725.0 451.4,734.0 451.4,743.0 451.4,751.6 451.4,751.8"/><polyline points="581.5,55.0 586.9,55.2 585.0,57.0 584.3,58.0 584.0,59.2 584.8,61.0 583.2,62.0 583.1,63.2 583.0,66.0 583.0,66.3 587.4,67.2 600.9,70.0 606.7,71.2 612.0,72.3 636.1,75.0 637.9,75.2 645.0,76.0 678.0,79.2 679.0,79.3 705.4,82.6 695.7,83.2 670.8,84.7 644.6,86.4 643.9,87.2 632.7,89.0 630.1,91.2 630.9,92.3 627.3,95.2 615.0,98.0 620.0,98.3 621.0,99.2 614.2,103.2 615.1,107.0 610.8,107.2 609.8,111.2 610.0,115.2 608.6,116.0 610.4,116.7 608.3,119.2 603.7,123.2 598.6,127.2 608.7,128.0 599.1,130.0 603.6,131.2 602.2,135.2 594.6,139.2 591.1,139.7 597.3,140.0 592.6,149.0 590.2,150.0 589.6,154.0 587.9,158.0 582.9,167.0 576.6,174.0 573.5,176.0 573.0,177.4 562.7,185.0 554.2,192.0 552.3,194.0 551.0,195.0 540.0,203.0 527.4,212.0 523.6,215.5 523.2,215.7 517.0,221.0 509.8,227.2 506.5,230.0 505.3,231.0 499.5,239.0 499.0,240.0 494.1,248.0 493.1,252.0 491.6,257.0 489.3,266.0 488.8,266.3 488.1,270.0 487.0,275.0 485.4,284.0 483.7,293.0 482.0,300.0 482.0,302.0 480.6,311.0 480.1,320.0 479.4,329.0 479.2,330.0 478.3,338.0 477.7,347.0 477.1,350.0 477.0,356.0 476.4,365.0 475.7,374.0 475.5,383.0 475.2,392.0 474.9,400.0 475.0,401.0 474.9,402.0 474.0,410.0 472.7,419.0 472.0,428.0 471.0,437.0 470.0,446.0 469.0,455.0 468.5,460.0 468.2,464.0 467.6,473.0 466.7,482.0 466.4,488.0 465.9,491.0 464.6,500.0 463.3,509.0 462.0,518.0 460.7,527.0 459.2,536.0 458.0,545.0 456.7,554.0 456.2,563.0 455.7,572.0 455.6,576.0 455.2,581.0 454.7,590.0 454.3,599.0 453.8,608.0 453.3,617.0 452.9,626.0 452.7,629.0 452.5,635.0 452.3,644.0 452.2,653.0 452.0,662.0 451.8,671.0 451.7,680.0 451.6,689.0 451.6,698.0 451.6,707.0 451.5,716.0 451.5,725.0 451.4,734.0 451.4,743.0 451.4,751.6 451.5,751.8"/><polyline points="585.9,55.0 586.6,55.2 582.4,57.0 585.5,58.0 583.8,59.2 582.7,61.0 582.2,62.0 583.8,63.2 583.1,66.0 583.0,66.3 587.4,67.2 600.9,70.0 606.7,71.2 612.0,72.3 636.1,75.0 637.9,75.2 645.0,76.0 678.0,79.2 679.0,79.3 705.3,82.6 695.6,83.2 672.5,84.7 652.5,86.4 641.3,87.2 635.2,89.0 635.6,91.2 629.8,92.3 620.5,95.2 626.4,98.0 614.2,98.3 613.2,99.2 619.4,103.2 616.4,107.0 602.8,107.2 610.7,111.2 607.3,115.2 608.8,116.0 602.0,116.7 606.7,119.2 611.3,123.2 604.2,127.2 593.4,128.0 603.1,130.0 609.3,131.2 603.1,135.2 593.5,139.2 591.8,139.7 597.4,140.0 594.2,149.0 592.2,150.0 592.5,154.0 588.0,158.0 583.1,167.0 576.6,174.0 574.4,176.0 573.3,177.4 563.3,185.0 556.2,192.0 552.5,194.0 550.6,195.0 539.6,203.0 528.1,212.0 523.6,215.5 523.3,215.7 517.5,221.0 509.7,227.2 506.5,230.0 505.2,231.0 499.7,239.0 498.8,240.0 494.2,248.0 492.9,252.0 491.7,257.0 488.9,266.0 489.5,266.3 488.2,270.0 487.4,275.0 485.7,284.0 484.0,293.0 481.9,300.0 482.4,302.0 481.1,311.0 480.7,320.0 479.3,329.0 478.9,330.0 478.1,338.0 477.3,347.0 477.3,350.0 476.8,356.0 476.5,365.0 476.2,374.0 475.7,383.0 475.5,392.0 475.4,400.0 475.2,401.0 474.5,402.0 473.9,410.0 473.2,419.0 472.1,428.0 471.0,437.0 470.2,446.0 468.7,455.0 468.3,460.0 468.2,464.0 467.5,473.0 466.9,482.0 466.4,488.0 466.1,491.0 464.7,500.0 463.3,509.0 462.1,518.0 460.7,527.0 459.4,536.0 458.1,545.0 456.8,554.0 456.2,563.0 455.7,572.0 455.5,576.0 455.3,581.0 454.8,590.0 454.3,599.0 453.8,608.0 453.4,617.0 452.9,626.0 452.7,629.0 452.6,635.0 452.4,644.0 452.2,653.0 452.0,662.0 451.8,671.0 451.7,680.0 451.6,689.0 451.6,698.0 451.6,707.0 451.5,716.0 451.6,725.0 451.5,734.0 451.5,743.0 451.5,751.6 451.5,751.8"/><polyline points="587.1,55.0 585.1,55.2 582.7,57.0 583.2,58.0 584.9,59.2 582.7,61.0 585.5,62.0 583.0,63.2 583.0,66.0 583.0,66.3 587.4,67.2 600.9,70.0 606.7,71.2 612.0,72.3 636.1,75.0 637.9,75.2 645.0,76.0 678.0,79.2 679.0,79.3 705.4,82.6 695.8,83.2 672.0,84.7 647.4,86.4 639.2,87.2 638.9,89.0 630.7,91.2 627.7,92.3 627.8,95.2 618.9,98.0 613.8,98.3 617.6,99.2 611.1,103.2 616.5,107.0 621.3,107.2 615.7,111.2 609.4,115.2 605.7,116.0 602.0,116.7 610.3,119.2 604.0,123.2 604.6,127.2 601.0,128.0 593.6,130.0 600.8,131.2 600.6,135.2 603.3,139.2 602.2,139.7 598.8,140.0 594.0,149.0 594.5,150.0 590.4,154.0 586.5,158.0 583.3,167.0 578.9,174.0 574.4,176.0 571.8,177.4 564.2,185.0 555.5,192.0 551.9,194.0 551.9,195.0 541.1,203.0 528.0,212.0 524.8,215.5 524.2,215.7 517.3,221.0 510.0,227.2 506.6,230.0 505.4,231.0 499.6,239.0 498.9,240.0 494.4,248.0 493.1,252.0 492.0,257.0 489.4,266.0 489.8,266.3 488.4,270.0 487.4,275.0 485.9,284.0 483.9,293.0 482.3,300.0 482.4,302.0 481.4,311.0 480.5,320.0 479.3,329.0 479.5,330.0 478.8,338.0 477.7,347.0 476.9,350.0 476.7,356.0 476.8,365.0 476.1,374.0 476.0,383.0 475.5,392.0 475.1,400.0 475.1,401.0 475.1,402.0 474.1,410.0 473.0,419.0 472.2,428.0 471.0,437.0 470.1,446.0 469.1,455.0 468.4,460.0 468.2,464.0 467.5,473.0 467.0,482.0 466.5,488.0 466.1,491.0 464.7,500.0 463.4,509.0 462.1,518.0 460.7,527.0 459.5,536.0 458.1,545.0 456.7,554.0 456.3,563.0 455.8,572.0 455.5,576.0 455.3,581.0 454.8,590.0 454.4,599.0 453.8,608.0 453.4,617.0 452.9,626.0 452.7,629.0 452.6,635.0 452.5,644.0 452.3,653.0 452.0,662.0 451.9,671.0 451.7,680.0 451.7,689.0 451.7,698.0 451.7,707.0 451.6,716.0 451.6,725.0 451.5,734.0 451.5,743.0 451.5,751.6 451.5,751.8"/><polyline points="586.7,55.0 589.4,55.2 585.6,57.0 582.9,58.0 586.7,59.2 583.9,61.0 583.7,62.0 584.2,63.2 583.1,66.0 583.0,66.3 587.4,67.2 600.9,70.0 606.7,71.2 612.0,72.3 636.1,75.0 637.9,75.2 645.0,76.0 678.0,79.2 679.0,79.3 705.4,82.6 695.8,83.2 672.8,84.7 647.5,86.4 643.0,87.2 630.8,89.0 634.1,91.2 632.4,92.3 633.9,95.2 627.1,98.0 617.2,98.3 622.9,99.2 613.9,103.2 623.9,107.0 619.9,107.2 615.4,111.2 606.4,115.2 606.3,116.0 607.1,116.7 615.7,119.2 611.3,123.2 605.6,127.2 601.3,128.0 603.7,130.0 600.0,131.2 603.9,135.2 598.4,139.2 606.4,139.7 599.8,140.0 593.4,149.0 595.0,150.0 594.0,154.0 588.5,158.0 585.5,167.0 577.9,174.0 575.4,176.0 572.3,177.4 566.1,185.0 556.5,192.0 553.3,194.0 550.7,195.0 541.3,203.0 528.4,212.0 524.2,215.5 524.1,215.7 517.4,221.0 510.2,227.2 506.6,230.0 505.4,231.0 500.0,239.0 499.1,240.0 494.2,248.0 493.4,252.0 491.9,257.0 489.4,266.0 489.3,266.3 488.5,270.0 487.5,275.0 485.9,284.0 483.7,293.0 482.6,300.0 482.2,302.0 481.7,311.0 480.4,320.0 479.7,329.0 479.8,330.0 478.8,338.0 477.6,347.0 477.6,350.0 477.4,356.0 476.8,365.0 476.4,374.0 476.2,383.0 475.5,392.0 475.1,400.0 475.3,401.0 474.9,402.0 474.1,410.0 473.5,419.0 472.3,428.0 471.3,437.0 470.1,446.0 469.0,455.0 468.6,460.0 468.3,464.0 467.7,473.0 467.1,482.0 466.7,488.0 466.3,491.0 464.7,500.0 463.6,509.0 462.1,518.0 460.8,527.0 459.5,536.0 458.1,545.0 456.8,554.0 456.3,563.0 455.9,572.0 455.6,576.0 455.4,581.0 454.9,590.0 454.4,599.0 453.8,608.0 453.4,617.0 452.9,626.0 452.7,629.0 452.6,635.0 452.5,644.0 452.2,653.0 452.1,662.0 451.8,671.0 451.7,680.0 451.7,689.0 451.7,698.0 451.6,707.0 451.6,716.0 451.6,725.0 451.6,734.0 451.6,743.0 451.5,751.6 451.5,751.8"/><polyline points="586.0,55.0 586.8,55.2 584.1,57.0 585.7,58.0 584.0,59.2 583.8,61.0 584.5,62.0 583.3,63.2 583.1,66.0 583.0,66.3 587.4,67.2 600.9,70.0 606.7,71.2 612.0,72.3 636.1,75.0 637.9,75.2 645.0,76.0 678.0,79.2 679.0,79.3 705.2,82.6 696.0,83.2 674.8,84.7 646.4,86.4 649.2,87.2 641.0,89.0 632.1,91.2 625.9,92.3 626.4,95.2 620.5,98.0 626.0,98.3 624.4,99.2 616.7,103.2 613.3,107.0 618.8,107.2 613.3,111.2 615.9,115.2 615.0,116.0 609.4,116.7 616.6,119.2 606.9,123.2 606.0,127.2 606.6,128.0 602.2,130.0 607.3,131.2 604.6,135.2 597.5,139.2 610.0,139.7 601.9,140.0 597.0,149.0 593.5,150.0 591.9,154.0 589.4,158.0 584.3,167.0 579.8,174.0 578.2,176.0 573.7,177.4 565.2,185.0 556.7,192.0 553.5,194.0 552.5,195.0 541.4,203.0 529.7,212.0 524.7,215.5 524.4,215.7 518.0,221.0 510.1,227.2 506.6,230.0 505.4,231.0 499.8,239.0 499.0,240.0 494.7,248.0 493.4,252.0 491.9,257.0 489.5,266.0 489.8,266.3 488.5,270.0 487.9,275.0 486.1,284.0 484.4,293.0 483.2,300.0 482.5,302.0 481.6,311.0 480.7,320.0 479.9,329.0 480.0,330.0 479.0,338.0 478.1,347.0 477.4,350.0 477.6,356.0 477.1,365.0 476.6,374.0 476.2,383.0 475.6,392.0 475.3,400.0 475.3,401.0 475.4,402.0 474.0,410.0 473.4,419.0 472.2,428.0 471.3,437.0 470.1,446.0 469.2,455.0 468.5,460.0 468.5,464.0 467.8,473.0 467.0,482.0 466.7,488.0 466.2,491.0 464.8,500.0 463.5,509.0 462.1,518.0 460.9,527.0 459.5,536.0 458.2,545.0 456.8,554.0 456.3,563.0 455.9,572.0 455.6,576.0 455.4,581.0 454.9,590.0 454.4,599.0 453.9,608.0 453.4,617.0 452.9,626.0 452.8,629.0 452.6,635.0 452.4,644.0 452.3,653.0 452.0,662.0 451.9,671.0 451.7,680.0 451.7,689.0 451.7,698.0 451.7,707.0 451.6,716.0 451.6,725.0 451.6,734.0 451.5,743.0 451.5,751.6 451.5,751.8"/><polyline points="585.7,55.0 586.8,55.2 589.8,57.0 586.9,58.0 585.5,59.2 584.5,61.0 583.9,62.0 584.4,63.2 583.1,66.0 583.0,66.3 587.4,67.2 600.9,70.0 606.7,71.2 612.0,72.3 636.1,75.0 637.9,75.2 645.0,76.0 678.0,79.2 679.0,79.3 705.3,82.6 697.2,83.2 673.3,84.7 649.1,86.4 647.0,87.2 645.1,89.0 635.7,91.2 628.3,92.3 629.4,95.2 625.5,98.0 623.5,98.3 623.6,99.2 626.5,103.2 618.8,107.0 622.2,107.2 620.8,111.2 614.0,115.2 617.7,116.0 614.5,116.7 609.9,119.2 612.4,123.2 603.3,127.2 618.7,128.0 611.3,130.0 605.8,131.2 605.5,135.2 592.4,139.2 600.1,139.7 604.6,140.0 597.6,149.0 596.9,150.0 592.8,154.0 590.5,158.0 585.8,167.0 579.3,174.0 576.5,176.0 576.0,177.4 565.9,185.0 556.6,192.0 555.3,194.0 553.9,195.0 541.3,203.0 528.7,212.0 524.3,215.5 524.3,215.7 517.6,221.0 510.2,227.2 506.8,230.0 505.5,231.0 499.9,239.0 499.3,240.0 494.6,248.0 493.5,252.0 492.5,257.0 490.2,266.0 489.7,266.3 488.7,270.0 487.9,275.0 486.2,284.0 484.6,293.0 483.1,300.0 483.0,302.0 481.7,311.0 481.2,320.0 480.4,329.0 479.6,330.0 479.4,338.0 478.2,347.0 477.5,350.0 477.5,356.0 477.2,365.0 476.8,374.0 476.4,383.0 475.7,392.0 475.6,400.0 475.4,401.0 475.3,402.0 474.4,410.0 473.4,419.0 472.3,428.0 471.2,437.0 470.5,446.0 469.3,455.0 468.6,460.0 468.5,464.0 467.8,473.0 467.1,482.0 466.8,488.0 466.1,491.0 464.9,500.0 463.7,509.0 462.2,518.0 460.9,527.0 459.5,536.0 458.2,545.0 456.9,554.0 456.3,563.0 455.8,572.0 455.7,576.0 455.4,581.0 454.9,590.0 454.4,599.0 453.9,608.0 453.4,617.0 452.9,626.0 452.8,629.0 452.7,635.0 452.5,644.0 452.3,653.0 452.1,662.0 451.9,671.0 451.8,680.0 451.7,689.0 451.7,698.0 451.7,707.0 451.6,716.0 451.6,725.0 451.6,734.0 451.6,743.0 451.5,751.6 451.5,751.8"/><polyline points="589.4,55.0 585.7,55.2 588.3,57.0 588.2,58.0 587.8,59.2 585.2,61.0 585.3,62.0 584.9,63.2 583.1,66.0 583.0,66.3 587.4,67.2 600.9,70.0 606.7,71.2 612.0,72.3 636.1,75.0 637.9,75.2 645.0,76.0 678.0,79.2 679.0,79.3 705.3,82.6 696.7,83.2 672.8,84.7 655.9,86.4 643.9,87.2 647.3,89.0 626.6,91.2 641.2,92.3 638.4,95.2 632.5,98.0 624.1,98.3 630.9,99.2 614.1,103.2 627.0,107.0 617.4,107.2 610.6,111.2 614.1,115.2 607.0,116.0 612.5,116.7 611.1,119.2 610.4,123.2 611.3,127.2 601.2,128.0 606.1,130.0 599.9,131.2 609.0,135.2 601.5,139.2 610.1,139.7 605.2,140.0 595.9,149.0 596.8,150.0 594.6,154.0 590.5,158.0 587.6,167.0 580.5,174.0 575.8,176.0 576.0,177.4 566.4,185.0 557.3,192.0 556.1,194.0 553.1,195.0 541.5,203.0 529.6,212.0 524.3,215.5 524.6,215.7 517.9,221.0 510.3,227.2 506.7,230.0 505.6,231.0 500.1,239.0 499.4,240.0 494.7,248.0 493.4,252.0 492.3,257.0 489.8,266.0 489.9,266.3 488.7,270.0 488.5,275.0 486.2,284.0 484.8,293.0 483.7,300.0 482.8,302.0 482.0,311.0 481.2,320.0 480.0,329.0 479.7,330.0 479.2,338.0 478.2,347.0 477.8,350.0 478.1,356.0 477.1,365.0 476.8,374.0 476.2,383.0 476.0,392.0 475.8,400.0 475.8,401.0 475.6,402.0 474.4,410.0 473.7,419.0 472.3,428.0 471.5,437.0 470.3,446.0 469.3,455.0 468.9,460.0 468.5,464.0 468.0,473.0 467.1,482.0 466.7,488.0 466.3,491.0 465.0,500.0 463.7,509.0 462.4,518.0 460.9,527.0 459.5,536.0 458.2,545.0 456.9,554.0 456.4,563.0 455.9,572.0 455.7,576.0 455.3,581.0 454.9,590.0 454.5,599.0 454.0,608.0 453.4,617.0 453.0,626.0 452.9,629.0 452.7,635.0 452.6,644.0 452.3,653.0 452.1,662.0 452.0,671.0 451.8,680.0 451.7,689.0 451.7,698.0 451.7,707.0 451.7,716.0 451.7,725.0 451.6,734.0 451.6,743.0 451.6,751.6 451.5,751.8"/><polyline points="589.1,55.0 590.6,55.2 590.0,57.0 587.2,58.0 585.9,59.2 585.9,61.0 585.5,62.0 584.6,63.2 583.1,66.0 583.0,66.3 587.4,67.2 600.9,70.0 606.7,71.2 612.0,72.3 636.1,75.0 637.9,75.2 645.0,76.0 678.0,79.2 679.0,79.3 705.5,82.6 697.5,83.2 674.3,84.7 645.7,86.4 649.7,87.2 647.5,89.0 635.6,91.2 637.4,92.3 638.6,95.2 627.9,98.0 634.8,98.3 632.0,99.2 628.0,103.2 616.8,107.0 623.3,107.2 623.8,111.2 613.7,115.2 610.7,116.0 617.3,116.7 618.6,119.2 607.7,123.2 611.9,127.2 608.1,128.0 608.5,130.0 602.0,131.2 601.4,135.2 602.7,139.2 608.3,139.7 603.4,140.0 598.8,149.0 598.6,150.0 596.0,154.0 593.7,158.0 587.9,167.0 580.5,174.0 577.6,176.0 577.0,177.4 567.4,185.0 556.5,192.0 555.8,194.0 553.3,195.0 542.3,203.0 529.3,212.0 525.1,215.5 525.1,215.7 518.4,221.0 510.5,227.2 506.8,230.0 505.6,231.0 500.1,239.0 499.3,240.0 494.6,248.0 493.5,252.0 492.3,257.0 490.2,266.0 490.4,266.3 489.4,270.0 488.2,275.0 486.8,284.0 484.9,293.0 483.2,300.0 483.1,302.0 482.9,311.0 481.0,320.0 480.3,329.0 480.0,330.0 479.7,338.0 478.6,347.0 478.0,350.0 477.6,356.0 477.5,365.0 476.7,374.0 476.3,383.0 476.2,392.0 476.2,400.0 475.8,401.0 475.3,402.0 475.0,410.0 473.5,419.0 472.6,428.0 471.5,437.0 470.5,446.0 469.4,455.0 468.8,460.0 468.5,464.0 467.9,473.0 467.3,482.0 466.8,488.0 466.4,491.0 465.0,500.0 463.8,509.0 462.3,518.0 460.9,527.0 459.5,536.0 458.3,545.0 456.9,554.0 456.4,563.0 456.0,572.0 455.7,576.0 455.4,581.0 455.0,590.0 454.5,599.0 454.0,608.0 453.5,617.0 453.1,626.0 452.8,629.0 452.7,635.0 452.5,644.0 452.3,653.0 452.1,662.0 452.0,671.0 451.8,680.0 451.8,689.0 451.8,698.0 451.7,707.0 451.7,716.0 451.7,725.0 451.6,734.0 451.6,743.0 451.6,751.6 451.6,751.8"/><polyline points="589.5,55.0 586.1,55.2 588.6,57.0 588.0,58.0 589.1,59.2 585.9,61.0 584.6,62.0 584.8,63.2 583.1,66.0 583.0,66.3 587.4,67.2 600.9,70.0 606.7,71.2 612.0,72.3 636.1,75.0 637.9,75.2 645.0,76.0 678.0,79.2 679.0,79.3 705.3,82.6 696.6,83.2 674.1,84.7 651.7,86.4 651.9,87.2 646.4,89.0 637.0,91.2 634.9,92.3 633.5,95.2 632.2,98.0 631.6,98.3 617.4,99.2 627.5,103.2 623.9,107.0 626.9,107.2 625.0,111.2 620.4,115.2 617.9,116.0 619.2,116.7 618.5,119.2 618.7,123.2 613.5,127.2 612.5,128.0 612.8,130.0 609.8,131.2 609.6,135.2 605.2,139.2 603.7,139.7 605.2,140.0 599.4,149.0 598.1,150.0 597.3,154.0 594.3,158.0 586.9,167.0 580.6,174.0 579.8,176.0 578.1,177.4 568.2,185.0 559.5,192.0 555.9,194.0 554.2,195.0 542.4,203.0 531.2,212.0 525.3,215.5 526.1,215.7 519.1,221.0 510.5,227.2 507.0,230.0 505.6,231.0 500.1,239.0 499.5,240.0 494.8,248.0 493.7,252.0 492.7,257.0 490.2,266.0 490.5,266.3 489.2,270.0 488.4,275.0 486.4,284.0 485.0,293.0 483.8,300.0 483.9,302.0 482.6,311.0 481.5,320.0 480.5,329.0 480.1,330.0 479.8,338.0 478.7,347.0 478.4,350.0 477.6,356.0 477.7,365.0 477.3,374.0 476.7,383.0 476.1,392.0 476.2,400.0 476.0,401.0 475.7,402.0 474.7,410.0 473.8,419.0 472.7,428.0 471.7,437.0 470.4,446.0 469.5,455.0 468.9,460.0 468.7,464.0 467.8,473.0 467.4,482.0 467.0,488.0 466.5,491.0 465.1,500.0 463.8,509.0 462.4,518.0 461.1,527.0 459.7,536.0 458.3,545.0 457.0,554.0 456.5,563.0 455.9,572.0 455.7,576.0 455.5,581.0 455.1,590.0 454.5,599.0 454.1,608.0 453.6,617.0 453.0,626.0 452.9,629.0 452.8,635.0 452.5,644.0 452.3,653.0 452.1,662.0 452.0,671.0 451.8,680.0 451.8,689.0 451.8,698.0 451.8,707.0 451.7,716.0 451.7,725.0 451.6,734.0 451.7,743.0 451.6,751.6 451.7,751.8"/><polyline points="589.8,55.0 588.1,55.2 587.6,57.0 590.4,58.0 588.5,59.2 586.8,61.0 586.2,62.0 584.7,63.2 583.2,66.0 583.0,66.3 587.4,67.2 600.9,70.0 606.7,71.2 612.0,72.3 636.1,75.0 637.9,75.2 645.0,76.0 678.0,79.2 679.0,79.3 705.7,82.6 697.1,83.2 675.8,84.7 652.8,86.4 652.8,87.2 644.8,89.0 640.2,91.2 638.4,92.3 629.6,95.2 637.5,98.0 626.3,98.3 638.1,99.2 629.3,103.2 625.7,107.0 621.0,107.2 623.7,111.2 612.7,115.2 622.1,116.0 617.6,116.7 623.6,119.2 614.9,123.2 617.9,127.2 613.4,128.0 613.2,130.0 610.6,131.2 609.1,135.2 606.7,139.2 604.5,139.7 609.4,140.0 604.7,149.0 599.9,150.0 599.2,154.0 593.4,158.0 586.9,167.0 582.5,174.0 581.9,176.0 579.0,177.4 569.1,185.0 558.7,192.0 555.0,194.0 556.1,195.0 543.4,203.0 530.9,212.0 526.0,215.5 525.6,215.7 518.7,221.0 510.6,227.2 507.1,230.0 505.7,231.0 500.3,239.0 499.7,240.0 494.9,248.0 494.1,252.0 492.8,257.0 490.2,266.0 490.3,266.3 489.4,270.0 488.7,275.0 486.7,284.0 485.3,293.0 483.5,300.0 483.5,302.0 483.0,311.0 481.9,320.0 481.0,329.0 480.5,330.0 479.8,338.0 478.5,347.0 478.3,350.0 478.0,356.0 478.2,365.0 477.3,374.0 476.9,383.0 476.4,392.0 475.9,400.0 476.0,401.0 475.9,402.0 475.0,410.0 473.8,419.0 472.8,428.0 471.8,437.0 470.8,446.0 469.7,455.0 468.9,460.0 468.8,464.0 468.1,473.0 467.4,482.0 467.0,488.0 466.6,491.0 465.2,500.0 463.8,509.0 462.5,518.0 461.1,527.0 459.7,536.0 458.4,545.0 457.1,554.0 456.5,563.0 456.0,572.0 455.8,576.0 455.5,581.0 455.0,590.0 454.5,599.0 454.0,608.0 453.6,617.0 453.1,626.0 452.9,629.0 452.8,635.0 452.6,644.0 452.4,653.0 452.2,662.0 452.0,671.0 451.9,680.0 451.8,689.0 451.8,698.0 451.7,707.0 451.8,716.0 451.8,725.0 451.7,734.0 451.7,743.0 451.6,751.6 451.6,751.8"/><polyline points="587.7,55.0 590.7,55.2 589.0,57.0 586.9,58.0 587.0,59.2 586.5,61.0 585.6,62.0 585.0,63.2 583.2,66.0 583.0,66.3 587.4,67.2 600.9,70.0 606.7,71.2 612.0,72.3 636.1,75.0 637.9,75.2 645.0,76.0 678.0,79.2 679.0,79.3 705.6,82.6 696.6,83.2 675.6,84.7 656.3,86.4 652.0,87.2 650.3,89.0 645.7,91.2 634.1,92.3 637.8,95.2 636.5,98.0 633.5,98.3 629.4,99.2 627.6,103.2 635.1,107.0 626.0,107.2 624.0,111.2 617.5,115.2 620.1,116.0 615.1,116.7 623.6,119.2 618.6,123.2 619.8,127.2 612.7,128.0 612.9,130.0 612.9,131.2 609.9,135.2 607.5,139.2 611.7,139.7 610.1,140.0 602.7,149.0 602.5,150.0 599.0,154.0 595.3,158.0 590.6,167.0 583.5,174.0 580.6,176.0 579.2,177.4 569.0,185.0 559.2,192.0 557.7,194.0 556.5,195.0 544.7,203.0 531.0,212.0 526.6,215.5 526.2,215.7 518.5,221.0 510.8,227.2 507.0,230.0 505.7,231.0 500.3,239.0 499.8,240.0 495.3,248.0 494.0,252.0 492.8,257.0 490.8,266.0 490.6,266.3 489.5,270.0 488.9,275.0 487.2,284.0 485.3,293.0 484.2,300.0 483.8,302.0 483.0,311.0 481.9,320.0 481.0,329.0 480.9,330.0 479.9,338.0 479.1,347.0 478.8,350.0 478.4,356.0 477.9,365.0 477.3,374.0 477.3,383.0 476.6,392.0 476.2,400.0 476.2,401.0 476.3,402.0 475.1,410.0 474.2,419.0 473.1,428.0 471.8,437.0 470.7,446.0 469.6,455.0 468.9,460.0 468.7,464.0 468.3,473.0 467.5,482.0 467.0,488.0 466.7,491.0 465.3,500.0 463.8,509.0 462.4,518.0 461.2,527.0 459.8,536.0 458.4,545.0 457.0,554.0 456.5,563.0 456.0,572.0 455.9,576.0 455.5,581.0 455.1,590.0 454.6,599.0 454.2,608.0 453.6,617.0 453.1,626.0 452.9,629.0 452.8,635.0 452.6,644.0 452.4,653.0 452.2,662.0 452.1,671.0 451.9,680.0 451.9,689.0 451.8,698.0 451.8,707.0 451.8,716.0 451.7,725.0 451.7,734.0 451.7,743.0 451.7,751.6 451.7,751.8"/><polyline points="590.5,55.0 591.4,55.2 591.0,57.0 589.0,58.0 587.8,59.2 585.3,61.0 584.5,62.0 585.8,63.2 583.2,66.0 583.0,66.3 587.4,67.2 600.9,70.0 606.7,71.2 612.0,72.3 636.1,75.0 637.9,75.2 645.0,76.0 678.0,79.2 679.0,79.3 705.5,82.6 696.4,83.2 676.2,84.7 654.5,86.4 652.1,87.2 653.3,89.0 640.6,91.2 644.4,92.3 641.0,95.2 633.3,98.0 637.0,98.3 631.0,99.2 631.4,103.2 628.1,107.0 626.6,107.2 623.6,111.2 625.7,115.2 620.8,116.0 623.7,116.7 625.3,119.2 621.2,123.2 617.7,127.2 604.7,128.0 613.0,130.0 612.1,131.2 611.2,135.2 610.3,139.2 617.6,139.7 609.1,140.0 604.2,149.0 599.9,150.0 597.8,154.0 597.2,158.0 591.4,167.0 583.6,174.0 581.7,176.0 579.3,177.4 570.7,185.0 560.3,192.0 557.4,194.0 556.0,195.0 544.5,203.0 531.5,212.0 526.6,215.5 525.8,215.7 519.5,221.0 510.8,227.2 507.3,230.0 505.8,231.0 500.5,239.0 499.8,240.0 495.1,248.0 494.2,252.0 492.9,257.0 490.6,266.0 491.1,266.3 490.1,270.0 489.4,275.0 487.3,284.0 485.4,293.0 484.0,300.0 484.1,302.0 483.1,311.0 482.0,320.0 481.1,329.0 480.8,330.0 480.3,338.0 479.3,347.0 478.8,350.0 478.7,356.0 478.3,365.0 477.4,374.0 477.5,383.0 477.0,392.0 476.5,400.0 476.5,401.0 476.5,402.0 475.2,410.0 474.1,419.0 473.1,428.0 472.0,437.0 470.9,446.0 469.7,455.0 469.0,460.0 468.9,464.0 468.3,473.0 467.6,482.0 467.1,488.0 466.6,491.0 465.5,500.0 464.0,509.0 462.5,518.0 461.2,527.0 459.8,536.0 458.5,545.0 457.0,554.0 456.6,563.0 456.1,572.0 455.9,576.0 455.6,581.0 455.1,590.0 454.6,599.0 454.1,608.0 453.6,617.0 453.1,626.0 453.0,629.0 452.8,635.0 452.6,644.0 452.5,653.0 452.2,662.0 452.1,671.0 451.9,680.0 451.9,689.0 451.8,698.0 451.9,707.0 451.8,716.0 451.8,725.0 451.8,734.0 451.7,743.0 451.7,751.6 451.7,751.8"/><polyline points="593.3,55.0 593.6,55.2 592.9,57.0 593.6,58.0 589.1,59.2 586.4,61.0 584.1,62.0 586.5,63.2 583.2,66.0 583.0,66.3 587.4,67.2 600.9,70.0 606.7,71.2 612.0,72.3 636.1,75.0 637.9,75.2 645.0,76.0 678.0,79.2 679.0,79.3 705.6,82.6 696.7,83.2 677.7,84.7 656.4,86.4 651.1,87.2 651.6,89.0 646.3,91.2 648.5,92.3 646.5,95.2 639.4,98.0 629.4,98.3 634.8,99.2 630.9,103.2 623.6,107.0 632.0,107.2 627.6,111.2 618.9,115.2 632.0,116.0 622.7,116.7 625.8,119.2 617.4,123.2 623.6,127.2 616.1,128.0 615.6,130.0 616.7,131.2 619.5,135.2 611.5,139.2 616.2,139.7 609.7,140.0 603.7,149.0 606.1,150.0 599.7,154.0 597.8,158.0 590.0,167.0 584.4,174.0 582.2,176.0 581.9,177.4 570.9,185.0 561.3,192.0 558.3,194.0 555.7,195.0 544.9,203.0 531.9,212.0 527.0,215.5 525.9,215.7 519.2,221.0 511.1,227.2 507.3,230.0 505.9,231.0 500.6,239.0 499.8,240.0 495.3,248.0 494.3,252.0 493.3,257.0 491.0,266.0 491.0,266.3 490.2,270.0 489.2,275.0 487.8,284.0 485.9,293.0 484.2,300.0 484.7,302.0 483.6,311.0 482.3,320.0 481.2,329.0 480.7,330.0 480.8,338.0 479.4,347.0 478.9,350.0 478.6,356.0 478.1,365.0 477.8,374.0 477.5,383.0 477.0,392.0 476.4,400.0 476.5,401.0 476.5,402.0 475.4,410.0 474.4,419.0 473.2,428.0 471.9,437.0 470.8,446.0 469.8,455.0 469.2,460.0 469.1,464.0 468.3,473.0 467.6,482.0 467.2,488.0 466.8,491.0 465.3,500.0 464.0,509.0 462.6,518.0 461.3,527.0 459.9,536.0 458.5,545.0 457.1,554.0 456.5,563.0 456.2,572.0 456.0,576.0 455.6,581.0 455.1,590.0 454.6,599.0 454.1,608.0 453.6,617.0 453.2,626.0 453.0,629.0 452.8,635.0 452.7,644.0 452.5,653.0 452.3,662.0 452.1,671.0 451.9,680.0 452.0,689.0 451.9,698.0 451.8,707.0 451.9,716.0 451.8,725.0 451.8,734.0 451.8,743.0 451.8,751.6 451.7,751.8"/><polyline points="588.0,55.0 594.4,55.2 592.8,57.0 591.0,58.0 589.8,59.2 587.6,61.0 587.6,62.0 585.0,63.2 583.3,66.0 583.0,66.3 587.4,67.2 600.9,70.0 606.7,71.2 612.0,72.3 636.1,75.0 637.9,75.2 645.0,76.0 678.0,79.2 679.0,79.3 705.6,82.6 697.3,83.2 677.6,84.7 663.0,86.4 654.5,87.2 655.2,89.0 654.7,91.2 644.8,92.3 641.3,95.2 639.7,98.0 629.7,98.3 632.3,99.2 632.1,103.2 626.6,107.0 621.8,107.2 628.8,111.2 626.2,115.2 620.5,116.0 624.1,116.7 618.6,119.2 621.0,123.2 613.2,127.2 621.9,128.0 613.9,130.0 612.5,131.2 618.2,135.2 609.8,139.2 615.2,139.7 614.4,140.0 606.3,149.0 607.2,150.0 599.2,154.0 599.6,158.0 593.4,167.0 586.4,174.0 583.1,176.0 582.9,177.4 572.1,185.0 562.7,192.0 558.6,194.0 557.5,195.0 546.0,203.0 531.3,212.0 527.3,215.5 527.0,215.7 519.8,221.0 511.1,227.2 507.2,230.0 506.0,231.0 500.7,239.0 499.8,240.0 495.6,248.0 494.5,252.0 493.1,257.0 491.1,266.0 491.2,266.3 490.1,270.0 489.4,275.0 487.6,284.0 486.5,293.0 485.1,300.0 484.6,302.0 483.7,311.0 482.9,320.0 481.4,329.0 481.4,330.0 480.2,338.0 479.5,347.0 479.3,350.0 479.1,356.0 478.4,365.0 478.0,374.0 477.5,383.0 477.1,392.0 476.8,400.0 476.8,401.0 476.8,402.0 475.6,410.0 474.5,419.0 473.5,428.0 472.3,437.0 471.2,446.0 469.9,455.0 469.3,460.0 469.1,464.0 468.3,473.0 467.8,482.0 467.3,488.0 466.8,491.0 465.5,500.0 464.0,509.0 462.7,518.0 461.2,527.0 459.9,536.0 458.5,545.0 457.0,554.0 456.7,563.0 456.1,572.0 456.0,576.0 455.6,581.0 455.1,590.0 454.7,599.0 454.2,608.0 453.7,617.0 453.2,626.0 453.0,629.0 452.9,635.0 452.7,644.0 452.5,653.0 452.3,662.0 452.2,671.0 451.9,680.0 451.9,689.0 451.9,698.0 451.8,707.0 451.9,716.0 451.8,725.0 451.8,734.0 451.8,743.0 451.8,751.6 451.7,751.8"/><polyline points="593.8,55.0 595.0,55.2 594.0,57.0 593.0,58.0 591.6,59.2 587.5,61.0 586.9,62.0 585.5,63.2 583.2,66.0 583.0,66.3 587.4,67.2 600.9,70.0 606.7,71.2 612.0,72.3 636.1,75.0 637.9,75.2 645.0,76.0 678.0,79.2 679.0,79.3 705.6,82.6 696.9,83.2 676.2,84.7 661.1,86.4 656.7,87.2 649.0,89.0 645.4,91.2 647.3,92.3 639.1,95.2 645.4,98.0 635.4,98.3 637.5,99.2 633.8,103.2 632.8,107.0 630.4,107.2 625.9,111.2 627.9,115.2 626.0,116.0 623.3,116.7 628.1,119.2 625.5,123.2 619.3,127.2 620.1,128.0 618.6,130.0 617.4,131.2 615.0,135.2 620.5,139.2 617.0,139.7 615.4,140.0 605.8,149.0 607.1,150.0 603.1,154.0 599.3,158.0 594.2,167.0 585.9,174.0 583.5,176.0 582.7,177.4 572.2,185.0 562.2,192.0 559.5,194.0 558.0,195.0 546.3,203.0 532.5,212.0 527.5,215.5 527.2,215.7 519.6,221.0 511.2,227.2 507.4,230.0 506.0,231.0 500.9,239.0 500.0,240.0 495.8,248.0 494.7,252.0 493.2,257.0 491.6,266.0 491.4,266.3 490.4,270.0 489.7,275.0 487.7,284.0 486.2,293.0 485.4,300.0 485.3,302.0 484.3,311.0 482.8,320.0 482.0,329.0 481.6,330.0 480.7,338.0 479.7,347.0 479.3,350.0 478.9,356.0 478.5,365.0 477.9,374.0 477.7,383.0 477.3,392.0 476.6,400.0 476.9,401.0 476.8,402.0 475.7,410.0 474.5,419.0 473.5,428.0 472.3,437.0 471.1,446.0 470.1,455.0 469.5,460.0 468.9,464.0 468.5,473.0 467.8,482.0 467.1,488.0 467.0,491.0 465.6,500.0 464.1,509.0 462.7,518.0 461.3,527.0 459.9,536.0 458.5,545.0 457.2,554.0 456.7,563.0 456.2,572.0 456.0,576.0 455.7,581.0 455.2,590.0 454.7,599.0 454.3,608.0 453.7,617.0 453.2,626.0 453.1,629.0 452.9,635.0 452.7,644.0 452.6,653.0 452.3,662.0 452.1,671.0 452.0,680.0 451.9,689.0 451.9,698.0 451.9,707.0 451.9,716.0 451.8,725.0 451.8,734.0 451.8,743.0 451.8,751.6 451.7,751.8"/><polyline points="593.6,55.0 595.6,55.2 595.5,57.0 592.8,58.0 588.2,59.2 587.3,61.0 587.4,62.0 586.2,63.2 583.3,66.0 583.0,66.3 587.4,67.2 600.9,70.0 606.7,71.2 612.0,72.3 636.1,75.0 637.9,75.2 645.0,76.0 678.0,79.2 679.0,79.3 705.8,82.6 697.4,83.2 677.1,84.7 665.5,86.4 657.7,87.2 650.4,89.0 651.5,91.2 650.3,92.3 647.7,95.2 642.0,98.0 636.4,98.3 649.6,99.2 641.3,103.2 634.6,107.0 634.2,107.2 631.6,111.2 626.4,115.2 625.0,116.0 621.2,116.7 632.6,119.2 621.2,123.2 619.7,127.2 626.1,128.0 613.1,130.0 624.3,131.2 617.6,135.2 616.3,139.2 611.7,139.7 615.1,140.0 608.7,149.0 609.3,150.0 603.4,154.0 598.7,158.0 593.1,167.0 586.4,174.0 585.1,176.0 584.0,177.4 573.4,185.0 563.0,192.0 560.5,194.0 557.5,195.0 545.6,203.0 532.6,212.0 527.9,215.5 527.8,215.7 519.9,221.0 511.6,227.2 507.4,230.0 506.1,231.0 500.7,239.0 500.1,240.0 495.5,248.0 494.5,252.0 493.6,257.0 491.3,266.0 491.6,266.3 490.4,270.0 489.5,275.0 487.9,284.0 486.5,293.0 485.6,300.0 485.3,302.0 484.1,311.0 483.0,320.0 481.9,329.0 481.9,330.0 481.2,338.0 479.9,347.0 479.8,350.0 479.1,356.0 478.9,365.0 478.3,374.0 477.8,383.0 477.8,392.0 477.2,400.0 477.0,401.0 476.8,402.0 475.9,410.0 474.7,419.0 473.4,428.0 472.5,437.0 471.2,446.0 470.0,455.0 469.4,460.0 469.2,464.0 468.5,473.0 467.9,482.0 467.4,488.0 467.0,491.0 465.6,500.0 464.2,509.0 462.7,518.0 461.3,527.0 460.0,536.0 458.6,545.0 457.2,554.0 456.7,563.0 456.2,572.0 456.0,576.0 455.7,581.0 455.3,590.0 454.8,599.0 454.2,608.0 453.8,617.0 453.2,626.0 453.0,629.0 452.9,635.0 452.8,644.0 452.6,653.0 452.4,662.0 452.2,671.0 452.0,680.0 452.0,689.0 452.0,698.0 451.9,707.0 451.9,716.0 451.9,725.0 451.8,734.0 451.8,743.0 451.8,751.6 451.8,751.8"/><polyline points="593.6,55.0 595.2,55.2 594.5,57.0 593.8,58.0 592.6,59.2 587.7,61.0 586.9,62.0 584.8,63.2 583.3,66.0 583.0,66.3 587.4,67.2 600.9,70.0 606.7,71.2 612.0,72.3 636.1,75.0 637.9,75.2 645.0,76.0 678.0,79.2 679.0,79.3 705.8,82.6 698.2,83.2 677.3,84.7 660.3,86.4 663.1,87.2 653.4,89.0 651.3,91.2 650.6,92.3 649.8,95.2 642.1,98.0 641.8,98.3 645.9,99.2 649.3,103.2 633.0,107.0 634.9,107.2 633.3,111.2 626.4,115.2 626.4,116.0 629.2,116.7 627.1,119.2 626.4,123.2 622.1,127.2 630.0,128.0 622.4,130.0 625.6,131.2 621.6,135.2 619.4,139.2 622.7,139.7 618.6,140.0 611.4,149.0 608.4,150.0 604.7,154.0 601.0,158.0 595.5,167.0 586.7,174.0 586.4,176.0 583.4,177.4 573.8,185.0 563.4,192.0 560.5,194.0 559.2,195.0 546.5,203.0 533.2,212.0 527.7,215.5 527.8,215.7 520.2,221.0 511.5,227.2 507.6,230.0 506.2,231.0 500.8,239.0 500.1,240.0 495.9,248.0 494.8,252.0 493.6,257.0 491.7,266.0 491.8,266.3 490.8,270.0 490.5,275.0 488.1,284.0 487.1,293.0 485.5,300.0 485.2,302.0 483.8,311.0 483.4,320.0 482.6,329.0 481.9,330.0 481.1,338.0 480.0,347.0 480.1,350.0 479.1,356.0 478.8,365.0 478.1,374.0 478.3,383.0 477.7,392.0 477.1,400.0 477.1,401.0 476.9,402.0 476.0,410.0 474.8,419.0 473.7,428.0 472.4,437.0 471.2,446.0 470.0,455.0 469.5,460.0 469.3,464.0 468.5,473.0 467.8,482.0 467.4,488.0 467.0,491.0 465.8,500.0 464.3,509.0 462.7,518.0 461.4,527.0 460.1,536.0 458.7,545.0 457.3,554.0 456.8,563.0 456.2,572.0 456.1,576.0 455.7,581.0 455.3,590.0 454.8,599.0 454.3,608.0 453.7,617.0 453.3,626.0 453.1,629.0 453.0,635.0 452.8,644.0 452.6,653.0 452.4,662.0 452.2,671.0 452.1,680.0 452.0,689.0 451.9,698.0 452.0,707.0 452.0,716.0 451.9,725.0 451.9,734.0 451.9,743.0 451.8,751.6 451.9,751.8"/><polyline points="597.3,55.0 594.2,55.2 593.8,57.0 594.1,58.0 591.3,59.2 587.0,61.0 587.5,62.0 585.9,63.2 583.3,66.0 583.0,66.3 587.4,67.2 600.9,70.0 606.7,71.2 612.0,72.3 636.1,75.0 637.9,75.2 645.0,76.0 678.0,79.2 679.0,79.3 705.7,82.6 697.7,83.2 678.5,84.7 659.4,86.4 658.4,87.2 654.9,89.0 656.1,91.2 649.1,92.3 642.8,95.2 644.3,98.0 653.7,98.3 647.8,99.2 640.6,103.2 639.0,107.0 632.0,107.2 634.3,111.2 628.6,115.2 633.0,116.0 630.4,116.7 626.8,119.2 621.3,123.2 617.9,127.2 628.5,128.0 632.0,130.0 618.2,131.2 617.0,135.2 622.2,139.2 614.2,139.7 619.6,140.0 611.8,149.0 608.7,150.0 609.4,154.0 602.7,158.0 596.0,167.0 589.7,174.0 587.7,176.0 585.2,177.4 575.1,185.0 564.1,192.0 560.2,194.0 560.3,195.0 547.7,203.0 533.0,212.0 528.0,215.5 528.3,215.7 520.5,221.0 511.6,227.2 507.6,230.0 506.2,231.0 501.0,239.0 500.3,240.0 496.0,248.0 495.4,252.0 493.8,257.0 491.8,266.0 491.8,266.3 491.2,270.0 489.9,275.0 488.6,284.0 487.0,293.0 485.6,300.0 485.3,302.0 484.5,311.0 483.8,320.0 482.3,329.0 482.2,330.0 481.7,338.0 480.7,347.0 479.8,350.0 479.7,356.0 479.6,365.0 478.7,374.0 478.1,383.0 477.9,392.0 477.2,400.0 477.1,401.0 477.1,402.0 475.9,410.0 474.6,419.0 473.6,428.0 472.6,437.0 471.4,446.0 470.2,455.0 469.5,460.0 469.2,464.0 468.7,473.0 468.2,482.0 467.7,488.0 467.1,491.0 465.8,500.0 464.4,509.0 462.8,518.0 461.5,527.0 460.0,536.0 458.7,545.0 457.2,554.0 456.8,563.0 456.3,572.0 456.0,576.0 455.8,581.0 455.3,590.0 454.8,599.0 454.3,608.0 453.9,617.0 453.4,626.0 453.2,629.0 452.9,635.0 452.8,644.0 452.6,653.0 452.4,662.0 452.2,671.0 452.1,680.0 452.0,689.0 452.0,698.0 452.0,707.0 452.0,716.0 451.9,725.0 451.9,734.0 451.9,743.0 451.8,751.6 451.9,751.8"/><polyline points="598.7,55.0 597.3,55.2 595.8,57.0 593.2,58.0 589.2,59.2 587.9,61.0 588.2,62.0 586.5,63.2 583.3,66.0 583.0,66.3 587.4,67.2 600.9,70.0 606.7,71.2 612.0,72.3 636.1,75.0 637.9,75.2 645.0,76.0 678.0,79.2 679.0,79.3 705.7,82.6 697.8,83.2 678.9,84.7 667.6,86.4 659.7,87.2 662.2,89.0 648.0,91.2 654.3,92.3 645.4,95.2 652.6,98.0 644.1,98.3 643.0,99.2 637.1,103.2 636.0,107.0 645.9,107.2 639.8,111.2 639.8,115.2 632.3,116.0 636.4,116.7 632.4,119.2 629.2,123.2 631.0,127.2 624.8,128.0 621.6,130.0 627.1,131.2 618.0,135.2 614.2,139.2 615.9,139.7 618.5,140.0 612.1,149.0 612.7,150.0 607.7,154.0 605.1,158.0 596.7,167.0 591.0,174.0 588.4,176.0 586.1,177.4 574.9,185.0 565.1,192.0 561.7,194.0 558.6,195.0 547.9,203.0 533.6,212.0 528.9,215.5 528.5,215.7 521.1,221.0 511.8,227.2 507.7,230.0 506.2,231.0 501.0,239.0 500.4,240.0 496.0,248.0 495.3,252.0 493.9,257.0 491.9,266.0 492.1,266.3 491.1,270.0 490.1,275.0 488.8,284.0 487.3,293.0 486.0,300.0 485.6,302.0 484.7,311.0 483.5,320.0 482.4,329.0 482.4,330.0 481.6,338.0 480.5,347.0 479.8,350.0 480.0,356.0 479.2,365.0 478.9,374.0 478.5,383.0 478.2,392.0 477.5,400.0 477.7,401.0 477.4,402.0 476.2,410.0 475.1,419.0 473.9,428.0 472.7,437.0 471.5,446.0 470.3,455.0 469.7,460.0 469.5,464.0 468.6,473.0 468.1,482.0 467.7,488.0 467.2,491.0 465.8,500.0 464.4,509.0 462.9,518.0 461.6,527.0 460.2,536.0 458.8,545.0 457.4,554.0 456.8,563.0 456.3,572.0 456.1,576.0 455.8,581.0 455.3,590.0 454.8,599.0 454.3,608.0 453.8,617.0 453.4,626.0 453.2,629.0 453.1,635.0 452.8,644.0 452.6,653.0 452.4,662.0 452.3,671.0 452.1,680.0 452.0,689.0 452.0,698.0 452.0,707.0 452.0,716.0 451.9,725.0 452.0,734.0 451.9,743.0 451.8,751.6 451.9,751.8"/><polyline points="598.3,55.0 595.8,55.2 595.2,57.0 593.5,58.0 591.4,59.2 588.3,61.0 585.9,62.0 586.5,63.2 583.3,66.0 583.0,66.3 587.4,67.2 600.9,70.0 606.7,71.2 612.0,72.3 636.1,75.0 637.9,75.2 645.0,76.0 678.0,79.2 679.0,79.3 706.0,82.6 697.7,83.2 678.0,84.7 664.4,86.4 661.0,87.2 661.5,89.0 654.9,91.2 653.0,92.3 652.7,95.2 648.3,98.0 647.2,98.3 648.2,99.2 643.5,103.2 643.9,107.0 645.9,107.2 635.8,111.2 634.1,115.2 631.2,116.0 631.4,116.7 634.8,119.2 635.6,123.2 624.8,127.2 620.6,128.0 632.0,130.0 623.1,131.2 620.9,135.2 622.1,139.2 616.9,139.7 620.6,140.0 613.0,149.0 613.7,150.0 610.1,154.0 608.0,158.0 597.9,167.0 592.9,174.0 589.6,176.0 588.8,177.4 575.5,185.0 567.3,192.0 563.1,194.0 560.9,195.0 548.1,203.0 534.1,212.0 529.1,215.5 529.0,215.7 521.0,221.0 512.0,227.2 507.6,230.0 506.3,231.0 501.0,239.0 500.5,240.0 496.2,248.0 495.2,252.0 494.1,257.0 492.3,266.0 492.1,266.3 490.9,270.0 490.2,275.0 489.2,284.0 487.3,293.0 485.9,300.0 485.8,302.0 484.7,311.0 484.0,320.0 482.7,329.0 482.6,330.0 481.9,338.0 480.7,347.0 480.5,350.0 480.0,356.0 479.4,365.0 479.3,374.0 478.5,383.0 478.0,392.0 477.4,400.0 477.7,401.0 477.5,402.0 476.5,410.0 475.3,419.0 474.1,428.0 472.8,437.0 471.7,446.0 470.4,455.0 469.7,460.0 469.4,464.0 468.8,473.0 468.3,482.0 467.7,488.0 467.4,491.0 465.9,500.0 464.3,509.0 463.0,518.0 461.6,527.0 460.2,536.0 458.8,545.0 457.3,554.0 456.9,563.0 456.4,572.0 456.2,576.0 455.9,581.0 455.4,590.0 454.9,599.0 454.3,608.0 453.9,617.0 453.4,626.0 453.2,629.0 453.1,635.0 452.9,644.0 452.7,653.0 452.5,662.0 452.3,671.0 452.1,680.0 452.1,689.0 452.1,698.0 452.0,707.0 452.0,716.0 452.0,725.0 452.0,734.0 451.9,743.0 451.9,751.6 451.9,751.8"/><polyline points="597.7,55.0 598.4,55.2 594.5,57.0 590.7,58.0 591.8,59.2 588.5,61.0 587.2,62.0 586.9,63.2 583.4,66.0 583.0,66.3 587.4,67.2 600.9,70.0 606.7,71.2 612.0,72.3 636.1,75.0 637.9,75.2 645.0,76.0 678.0,79.2 679.0,79.3 705.9,82.6 698.3,83.2 679.8,84.7 665.3,86.4 667.7,87.2 660.7,89.0 656.7,91.2 656.7,92.3 654.7,95.2 651.8,98.0 652.0,98.3 652.6,99.2 640.1,103.2 644.9,107.0 637.9,107.2 640.1,111.2 634.7,115.2 628.5,116.0 632.4,116.7 634.9,119.2 633.5,123.2 633.5,127.2 630.5,128.0 632.0,130.0 623.4,131.2 627.3,135.2 623.0,139.2 626.7,139.7 622.4,140.0 614.8,149.0 615.3,150.0 612.0,154.0 606.9,158.0 598.8,167.0 593.1,174.0 588.6,176.0 589.0,177.4 576.7,185.0 565.4,192.0 562.3,194.0 561.0,195.0 549.1,203.0 535.4,212.0 529.6,215.5 529.3,215.7 521.0,221.0 512.0,227.2 507.8,230.0 506.4,231.0 501.1,239.0 500.6,240.0 496.2,248.0 495.4,252.0 494.6,257.0 492.7,266.0 492.3,266.3 491.5,270.0 490.9,275.0 489.4,284.0 487.5,293.0 486.2,300.0 486.6,302.0 485.2,311.0 484.5,320.0 483.1,329.0 482.8,330.0 481.9,338.0 481.0,347.0 480.5,350.0 480.0,356.0 479.7,365.0 479.1,374.0 478.7,383.0 478.5,392.0 477.7,400.0 477.8,401.0 477.8,402.0 476.6,410.0 475.4,419.0 474.3,428.0 473.0,437.0 471.7,446.0 470.6,455.0 469.7,460.0 469.6,464.0 468.7,473.0 468.2,482.0 467.9,488.0 467.5,491.0 466.0,500.0 464.5,509.0 463.1,518.0 461.7,527.0 460.2,536.0 458.8,545.0 457.4,554.0 456.9,563.0 456.4,572.0 456.1,576.0 456.0,581.0 455.4,590.0 454.9,599.0 454.4,608.0 453.9,617.0 453.4,626.0 453.2,629.0 453.1,635.0 452.9,644.0 452.8,653.0 452.6,662.0 452.3,671.0 452.1,680.0 452.1,689.0 452.1,698.0 452.1,707.0 452.1,716.0 452.0,725.0 452.0,734.0 452.0,743.0 451.9,751.6 451.9,751.8"/><polyline points="599.9,55.0 596.0,55.2 597.9,57.0 596.0,58.0 593.6,59.2 589.1,61.0 587.7,62.0 586.9,63.2 583.4,66.0 583.0,66.3 587.4,67.2 600.9,70.0 606.7,71.2 612.0,72.3 636.1,75.0 637.9,75.2 645.0,76.0 678.0,79.2 679.0,79.3 706.0,82.6 698.6,83.2 678.8,84.7 667.8,86.4 667.7,87.2 664.2,89.0 657.3,91.2 656.4,92.3 651.9,95.2 654.0,98.0 653.7,98.3 652.4,99.2 647.6,103.2 643.5,107.0 639.2,107.2 642.5,111.2 632.0,115.2 637.8,116.0 636.1,116.7 637.7,119.2 633.2,123.2 628.0,127.2 630.0,128.0 627.2,130.0 630.3,131.2 628.6,135.2 623.4,139.2 626.7,139.7 624.0,140.0 618.0,149.0 616.8,150.0 612.0,154.0 606.9,158.0 599.3,167.0 591.8,174.0 590.7,176.0 588.3,177.4 578.0,185.0 567.3,192.0 563.6,194.0 562.6,195.0 549.9,203.0 535.0,212.0 530.1,215.5 529.9,215.7 521.6,221.0 512.3,227.2 507.8,230.0 506.4,231.0 501.3,239.0 500.6,240.0 496.6,248.0 495.4,252.0 494.5,257.0 492.6,266.0 492.8,266.3 491.9,270.0 491.2,275.0 489.5,284.0 488.0,293.0 486.7,300.0 486.5,302.0 485.0,311.0 484.5,320.0 483.1,329.0 483.0,330.0 482.4,338.0 481.0,347.0 480.6,350.0 480.7,356.0 480.1,365.0 479.6,374.0 478.6,383.0 478.5,392.0 478.0,400.0 478.1,401.0 477.8,402.0 476.5,410.0 475.4,419.0 474.4,428.0 473.0,437.0 471.9,446.0 470.6,455.0 469.9,460.0 469.6,464.0 469.0,473.0 468.4,482.0 467.9,488.0 467.4,491.0 466.0,500.0 464.6,509.0 463.2,518.0 461.7,527.0 460.3,536.0 458.9,545.0 457.5,554.0 456.9,563.0 456.5,572.0 456.3,576.0 456.0,581.0 455.5,590.0 455.0,599.0 454.4,608.0 453.9,617.0 453.4,626.0 453.3,629.0 453.1,635.0 452.9,644.0 452.8,653.0 452.6,662.0 452.4,671.0 452.2,680.0 452.2,689.0 452.1,698.0 452.1,707.0 452.0,716.0 452.0,725.0 452.0,734.0 451.9,743.0 452.0,751.6 451.9,751.8"/><polyline points="598.8,55.0 599.6,55.2 598.0,57.0 593.4,58.0 593.1,59.2 589.6,61.0 588.7,62.0 586.7,63.2 583.3,66.0 583.0,66.3 587.4,67.2 600.9,70.0 606.7,71.2 612.0,72.3 636.1,75.0 637.9,75.2 645.0,76.0 678.0,79.2 679.0,79.3 706.0,82.6 698.2,83.2 680.0,84.7 671.1,86.4 667.7,87.2 664.8,89.0 661.3,91.2 659.7,92.3 656.8,95.2 648.0,98.0 651.6,98.3 647.0,99.2 649.3,103.2 646.1,107.0 645.9,107.2 634.9,111.2 633.6,115.2 635.8,116.0 636.6,116.7 637.7,119.2 623.3,123.2 632.6,127.2 629.8,128.0 632.0,130.0 631.3,131.2 626.5,135.2 627.0,139.2 622.6,139.7 625.8,140.0 615.3,149.0 617.0,150.0 612.6,154.0 609.0,158.0 599.9,167.0 593.8,174.0 590.6,176.0 589.7,177.4 578.1,185.0 567.8,192.0 564.3,194.0 563.0,195.0 550.2,203.0 535.1,212.0 529.9,215.5 529.2,215.7 521.8,221.0 512.1,227.2 508.0,230.0 506.5,231.0 501.4,239.0 500.6,240.0 496.6,248.0 495.8,252.0 494.7,257.0 492.8,266.0 492.6,266.3 491.9,270.0 491.2,275.0 489.4,284.0 488.0,293.0 487.0,300.0 486.4,302.0 485.7,311.0 484.6,320.0 483.3,329.0 483.4,330.0 482.3,338.0 481.3,347.0 480.7,350.0 480.7,356.0 480.0,365.0 479.6,374.0 478.8,383.0 478.6,392.0 478.1,400.0 478.1,401.0 478.0,402.0 476.8,410.0 475.7,419.0 474.4,428.0 473.2,437.0 471.9,446.0 470.7,455.0 469.9,460.0 469.6,464.0 469.1,473.0 468.3,482.0 468.0,488.0 467.5,491.0 466.1,500.0 464.6,509.0 463.2,518.0 461.8,527.0 460.4,536.0 458.9,545.0 457.5,554.0 457.0,563.0 456.5,572.0 456.2,576.0 456.0,581.0 455.5,590.0 455.0,599.0 454.5,608.0 454.0,617.0 453.5,626.0 453.3,629.0 453.2,635.0 452.9,644.0 452.8,653.0 452.6,662.0 452.4,671.0 452.2,680.0 452.1,689.0 452.1,698.0 452.1,707.0 452.1,716.0 452.1,725.0 452.0,734.0 452.0,743.0 452.0,751.6 452.0,751.8"/><polyline points="602.5,55.0 599.8,55.2 598.6,57.0 596.0,58.0 594.5,59.2 590.3,61.0 589.6,62.0 587.5,63.2 583.4,66.0 583.0,66.3 587.4,67.2 600.9,70.0 606.7,71.2 612.0,72.3 636.1,75.0 637.9,75.2 645.0,76.0 678.0,79.2 679.0,79.3 706.0,82.6 699.4,83.2 681.0,84.7 676.6,86.4 669.9,87.2 664.8,89.0 663.0,91.2 661.7,92.3 656.8,95.2 655.4,98.0 653.9,98.3 658.0,99.2 653.5,103.2 651.8,107.0 645.9,107.2 643.6,111.2 643.1,115.2 639.4,116.0 640.2,116.7 639.7,119.2 637.2,123.2 634.2,127.2 637.5,128.0 632.0,130.0 634.9,131.2 631.4,135.2 631.9,139.2 628.0,139.7 628.9,140.0 618.9,149.0 618.6,150.0 614.9,154.0 610.2,158.0 601.3,167.0 594.0,174.0 592.0,176.0 590.6,177.4 579.1,185.0 568.3,192.0 565.5,194.0 563.7,195.0 550.5,203.0 536.8,212.0 530.8,215.5 530.4,215.7 522.3,221.0 512.8,227.2 508.4,230.0 506.7,231.0 501.8,239.0 501.2,240.0 497.1,248.0 496.1,252.0 495.5,257.0 493.4,266.0 493.5,266.3 492.5,270.0 491.6,275.0 490.3,284.0 488.5,293.0 487.4,300.0 487.2,302.0 485.9,311.0 484.8,320.0 483.8,329.0 483.4,330.0 482.6,338.0 482.0,347.0 481.4,350.0 481.0,356.0 480.5,365.0 479.9,374.0 479.3,383.0 479.1,392.0 478.3,400.0 478.4,401.0 478.1,402.0 477.1,410.0 475.9,419.0 474.7,428.0 473.2,437.0 472.1,446.0 470.8,455.0 470.2,460.0 469.9,464.0 469.2,473.0 468.6,482.0 468.2,488.0 467.7,491.0 466.2,500.0 464.8,509.0 463.4,518.0 461.9,527.0 460.5,536.0 459.1,545.0 457.5,554.0 457.0,563.0 456.6,572.0 456.3,576.0 456.1,581.0 455.6,590.0 455.0,599.0 454.5,608.0 454.1,617.0 453.5,626.0 453.4,629.0 453.2,635.0 453.1,644.0 452.9,653.0 452.6,662.0 452.5,671.0 452.3,680.0 452.3,689.0 452.2,698.0 452.2,707.0 452.2,716.0 452.1,725.0 452.2,734.0 452.1,743.0 452.0,751.6 452.0,751.8"/><polyline points="602.8,55.0 601.2,55.2 601.0,57.0 599.5,58.0 594.2,59.2 590.9,61.0 589.5,62.0 587.6,63.2 583.4,66.0 583.0,66.3 587.4,67.2 600.9,70.0 606.7,71.2 612.0,72.3 636.1,75.0 637.9,75.2 645.0,76.0 678.0,79.2 679.0,79.3 706.0,82.6 699.3,83.2 682.9,84.7 675.4,86.4 669.9,87.2 670.8,89.0 663.7,91.2 662.5,92.3 665.4,95.2 659.1,98.0 659.6,98.3 659.0,99.2 656.5,103.2 647.8,107.0 649.1,107.2 647.7,111.2 643.9,115.2 642.7,116.0 641.2,116.7 639.9,119.2 639.6,123.2 635.7,127.2 636.8,128.0 636.8,130.0 634.6,131.2 632.7,135.2 631.2,139.2 631.9,139.7 630.6,140.0 621.4,149.0 620.5,150.0 616.8,154.0 611.6,158.0 601.8,167.0 594.1,174.0 592.0,176.0 590.6,177.4 579.5,185.0 568.8,192.0 565.7,194.0 564.0,195.0 551.3,203.0 537.3,212.0 531.4,215.5 531.1,215.7 522.7,221.0 512.9,227.2 508.5,230.0 507.1,231.0 502.2,239.0 501.5,240.0 497.7,248.0 496.9,252.0 496.0,257.0 493.7,266.0 493.6,266.3 493.3,270.0 492.1,275.0 490.9,284.0 488.8,293.0 487.5,300.0 487.4,302.0 486.6,311.0 485.4,320.0 484.1,329.0 483.9,330.0 482.9,338.0 482.0,347.0 482.1,350.0 481.5,356.0 480.7,365.0 480.3,374.0 479.7,383.0 479.2,392.0 478.6,400.0 478.6,401.0 478.5,402.0 477.6,410.0 476.2,419.0 474.9,428.0 473.6,437.0 472.2,446.0 471.0,455.0 470.3,460.0 470.1,464.0 469.4,473.0 468.7,482.0 468.3,488.0 467.7,491.0 466.4,500.0 464.9,509.0 463.5,518.0 462.1,527.0 460.6,536.0 459.1,545.0 457.7,554.0 457.2,563.0 456.7,572.0 456.5,576.0 456.2,581.0 455.6,590.0 455.2,599.0 454.7,608.0 454.2,617.0 453.6,626.0 453.5,629.0 453.4,635.0 453.1,644.0 453.0,653.0 452.7,662.0 452.6,671.0 452.3,680.0 452.3,689.0 452.3,698.0 452.3,707.0 452.2,716.0 452.2,725.0 452.2,734.0 452.1,743.0 452.2,751.6 452.1,751.8"/><polyline points="603.0,55.0 604.3,55.2 599.5,57.0 597.2,58.0 595.5,59.2 591.4,61.0 589.9,62.0 587.5,63.2 583.5,66.0 583.0,66.3 587.4,67.2 600.9,70.0 606.7,71.2 612.0,72.3 636.1,75.0 637.9,75.2 645.0,76.0 678.0,79.2 679.0,79.3 706.3,82.6 699.5,83.2 684.3,84.7 677.0,86.4 674.8,87.2 669.6,89.0 667.2,91.2 664.5,92.3 664.9,95.2 665.0,98.0 664.7,98.3 659.6,99.2 664.3,103.2 655.7,107.0 652.8,107.2 650.0,111.2 645.7,115.2 644.6,116.0 644.6,116.7 643.3,119.2 636.6,123.2 642.1,127.2 636.0,128.0 639.5,130.0 633.0,131.2 633.2,135.2 633.4,139.2 633.7,139.7 633.1,140.0 622.4,149.0 621.2,150.0 617.2,154.0 612.4,158.0 602.0,167.0 594.2,174.0 592.1,176.0 590.6,177.4 579.6,185.0 569.2,192.0 566.2,194.0 564.9,195.0 552.0,203.0 537.6,212.0 532.0,215.5 531.5,215.7 522.4,221.0 513.2,227.2 508.9,230.0 507.3,231.0 502.2,239.0 501.8,240.0 498.1,248.0 497.2,252.0 496.4,257.0 494.6,266.0 494.5,266.3 493.4,270.0 492.6,275.0 490.9,284.0 489.4,293.0 488.1,300.0 487.7,302.0 487.0,311.0 485.8,320.0 484.7,329.0 484.4,330.0 483.5,338.0 482.5,347.0 481.9,350.0 481.6,356.0 481.2,365.0 480.7,374.0 480.0,383.0 479.2,392.0 478.9,400.0 478.9,401.0 478.7,402.0 477.6,410.0 476.4,419.0 475.0,428.0 473.6,437.0 472.5,446.0 471.2,455.0 470.5,460.0 470.3,464.0 469.6,473.0 468.9,482.0 468.3,488.0 467.9,491.0 466.5,500.0 465.0,509.0 463.5,518.0 462.1,527.0 460.7,536.0 459.4,545.0 457.9,554.0 457.2,563.0 456.8,572.0 456.6,576.0 456.3,581.0 455.8,590.0 455.3,599.0 454.8,608.0 454.2,617.0 453.7,626.0 453.6,629.0 453.4,635.0 453.2,644.0 453.1,653.0 452.8,662.0 452.6,671.0 452.4,680.0 452.4,689.0 452.4,698.0 452.3,707.0 452.3,716.0 452.3,725.0 452.3,734.0 452.2,743.0 452.2,751.6 452.3,751.8"/><polyline points="604.2,55.0 602.6,55.2 600.7,57.0 598.3,58.0 596.3,59.2 591.1,61.0 589.8,62.0 588.0,63.2 583.5,66.0 583.0,66.3 587.4,67.2 600.9,70.0 606.7,71.2 612.0,72.3 636.1,75.0 637.9,75.2 645.0,76.0 678.0,79.2 679.0,79.3 706.2,82.6 699.9,83.2 684.0,84.7 679.1,86.4 678.2,87.2 674.6,89.0 667.4,91.2 665.1,92.3 668.5,95.2 666.4,98.0 670.1,98.3 667.5,99.2 658.5,103.2 655.0,107.0 655.8,107.2 650.2,111.2 647.2,115.2 643.8,116.0 647.9,116.7 643.1,119.2 640.8,123.2 640.3,127.2 639.2,128.0 643.9,130.0 637.2,131.2 638.1,135.2 636.8,139.2 633.7,139.7 635.5,140.0 624.2,149.0 623.9,150.0 618.8,154.0 613.7,158.0 603.2,167.0 594.4,174.0 592.1,176.0 590.6,177.4 579.8,185.0 569.8,192.0 566.8,194.0 565.8,195.0 552.7,203.0 538.1,212.0 532.3,215.5 532.1,215.7 523.5,221.0 513.7,227.2 509.2,230.0 507.5,231.0 502.5,239.0 501.9,240.0 498.9,248.0 497.7,252.0 497.2,257.0 495.0,266.0 494.9,266.3 494.1,270.0 493.3,275.0 491.3,284.0 489.7,293.0 488.7,300.0 488.3,302.0 487.2,311.0 486.2,320.0 484.9,329.0 484.8,330.0 483.7,338.0 482.8,347.0 482.4,350.0 482.0,356.0 481.7,365.0 480.9,374.0 480.3,383.0 479.6,392.0 479.1,400.0 479.2,401.0 479.0,402.0 478.0,410.0 476.5,419.0 475.3,428.0 473.9,437.0 472.7,446.0 471.6,455.0 470.7,460.0 470.4,464.0 469.6,473.0 469.0,482.0 468.5,488.0 468.0,491.0 466.7,500.0 465.1,509.0 463.7,518.0 462.3,527.0 460.8,536.0 459.4,545.0 457.9,554.0 457.4,563.0 456.9,572.0 456.7,576.0 456.4,581.0 455.8,590.0 455.4,599.0 454.9,608.0 454.4,617.0 453.8,626.0 453.6,629.0 453.5,635.0 453.3,644.0 453.1,653.0 453.0,662.0 452.7,671.0 452.5,680.0 452.5,689.0 452.5,698.0 452.4,707.0 452.3,716.0 452.4,725.0 452.3,734.0 452.4,743.0 452.3,751.6 452.3,751.8"/><polyline points="605.3,55.0 605.5,55.2 603.0,57.0 600.4,58.0 596.8,59.2 591.5,61.0 590.4,62.0 588.3,63.2 583.5,66.0 583.0,66.3 587.4,67.2 600.9,70.0 606.7,71.2 612.0,72.3 636.1,75.0 637.9,75.2 645.0,76.0 678.0,79.2 679.0,79.3 706.4,82.6 701.2,83.2 685.4,84.7 681.8,86.4 679.6,87.2 672.2,89.0 667.7,91.2 664.1,92.3 667.1,95.2 669.5,98.0 681.5,98.3 673.5,99.2 665.4,103.2 657.8,107.0 662.9,107.2 653.3,111.2 647.8,115.2 647.2,116.0 646.2,116.7 647.0,119.2 641.7,123.2 640.9,127.2 645.7,128.0 639.0,130.0 636.6,131.2 642.3,135.2 638.0,139.2 639.2,139.7 637.1,140.0 627.0,149.0 624.1,150.0 619.3,154.0 615.2,158.0 603.5,167.0 594.6,174.0 592.2,176.0 590.6,177.4 580.0,185.0 570.2,192.0 567.7,194.0 566.1,195.0 553.2,203.0 538.7,212.0 533.0,215.5 533.4,215.7 523.9,221.0 514.2,227.2 509.3,230.0 507.7,231.0 503.1,239.0 502.6,240.0 499.3,248.0 498.3,252.0 497.4,257.0 495.2,266.0 495.0,266.3 494.5,270.0 493.7,275.0 491.6,284.0 490.0,293.0 488.8,300.0 488.4,302.0 487.5,311.0 486.7,320.0 485.4,329.0 485.2,330.0 484.5,338.0 483.5,347.0 483.1,350.0 482.4,356.0 481.8,365.0 481.2,374.0 480.5,383.0 480.0,392.0 479.3,400.0 479.3,401.0 479.4,402.0 478.0,410.0 476.9,419.0 475.6,428.0 474.3,437.0 473.0,446.0 471.7,455.0 471.0,460.0 470.5,464.0 469.8,473.0 469.2,482.0 468.7,488.0 468.2,491.0 466.7,500.0 465.2,509.0 463.9,518.0 462.3,527.0 461.0,536.0 459.5,545.0 458.1,554.0 457.5,563.0 457.1,572.0 456.8,576.0 456.5,581.0 456.0,590.0 455.4,599.0 454.9,608.0 454.5,617.0 453.9,626.0 453.8,629.0 453.5,635.0 453.4,644.0 453.2,653.0 453.0,662.0 452.8,671.0 452.6,680.0 452.5,689.0 452.5,698.0 452.5,707.0 452.6,716.0 452.5,725.0 452.4,734.0 452.3,743.0 452.4,751.6 452.4,751.8"/><polyline points="606.9,55.0 607.0,55.2 603.2,57.0 601.0,58.0 596.4,59.2 591.9,61.0 590.8,62.0 588.1,63.2 583.5,66.0 583.0,66.3 587.4,67.2 600.9,70.0 606.7,71.2 612.0,72.3 636.1,75.0 637.9,75.2 645.0,76.0 678.0,79.2 679.0,79.3 706.5,82.6 701.7,83.2 686.8,84.7 682.6,86.4 681.7,87.2 675.2,89.0 670.3,91.2 665.6,92.3 672.1,95.2 678.5,98.0 675.8,98.3 672.3,99.2 673.1,103.2 658.7,107.0 659.6,107.2 658.4,111.2 651.5,115.2 651.6,116.0 648.5,116.7 647.5,119.2 644.9,123.2 647.3,127.2 645.9,128.0 643.5,130.0 645.5,131.2 642.2,135.2 641.4,139.2 637.7,139.7 638.0,140.0 629.1,149.0 626.3,150.0 621.9,154.0 615.7,158.0 604.0,167.0 594.7,174.0 592.3,176.0 590.6,177.4 580.4,185.0 570.8,192.0 568.1,194.0 566.9,195.0 553.8,203.0 539.0,212.0 533.3,215.5 532.5,215.7 524.6,221.0 514.2,227.2 509.6,230.0 507.9,231.0 503.4,239.0 502.8,240.0 500.0,248.0 498.8,252.0 497.4,257.0 495.7,266.0 495.5,266.3 494.7,270.0 494.2,275.0 492.2,284.0 490.6,293.0 489.4,300.0 489.2,302.0 488.0,311.0 486.8,320.0 485.6,329.0 485.6,330.0 484.7,338.0 483.7,347.0 483.1,350.0 482.8,356.0 482.3,365.0 481.4,374.0 480.9,383.0 480.0,392.0 479.6,400.0 479.7,401.0 479.5,402.0 478.3,410.0 477.0,419.0 475.8,428.0 474.4,437.0 473.0,446.0 471.8,455.0 471.1,460.0 470.6,464.0 470.0,473.0 469.2,482.0 468.9,488.0 468.3,491.0 466.8,500.0 465.5,509.0 464.0,518.0 462.5,527.0 461.0,536.0 459.6,545.0 458.2,554.0 457.6,563.0 457.1,572.0 456.8,576.0 456.6,581.0 456.1,590.0 455.5,599.0 455.0,608.0 454.4,617.0 454.0,626.0 453.8,629.0 453.7,635.0 453.4,644.0 453.3,653.0 453.1,662.0 452.9,671.0 452.7,680.0 452.6,689.0 452.7,698.0 452.6,707.0 452.5,716.0 452.5,725.0 452.5,734.0 452.4,743.0 452.5,751.6 452.4,751.8"/><polyline points="609.0,55.0 606.0,55.2 602.9,57.0 602.5,58.0 598.4,59.2 592.7,61.0 590.2,62.0 588.8,63.2 583.5,66.0 583.0,66.3 587.4,67.2 600.9,70.0 606.7,71.2 612.0,72.3 636.1,75.0 637.9,75.2 645.0,76.0 678.0,79.2 679.0,79.3 706.4,82.6 701.0,83.2 687.3,84.7 685.3,86.4 682.8,87.2 678.0,89.0 670.7,91.2 666.9,92.3 674.2,95.2 681.1,98.0 677.8,98.3 677.6,99.2 675.4,103.2 668.0,107.0 667.4,107.2 658.8,111.2 654.5,115.2 651.9,116.0 648.5,116.7 650.3,119.2 645.4,123.2 643.2,127.2 646.9,128.0 641.5,130.0 644.9,131.2 645.1,135.2 642.0,139.2 639.2,139.7 641.2,140.0 629.9,149.0 628.2,150.0 622.2,154.0 617.2,158.0 604.5,167.0 594.9,174.0 592.4,176.0 590.6,177.4 580.7,185.0 571.3,192.0 569.1,194.0 567.0,195.0 554.6,203.0 539.2,212.0 534.0,215.5 533.3,215.7 525.1,221.0 514.7,227.2 509.9,230.0 508.4,231.0 503.6,239.0 502.9,240.0 500.4,248.0 499.4,252.0 498.4,257.0 496.1,266.0 496.1,266.3 495.6,270.0 494.5,275.0 492.7,284.0 491.0,293.0 489.8,300.0 489.4,302.0 488.5,311.0 487.3,320.0 486.1,329.0 486.1,330.0 485.1,338.0 483.9,347.0 483.6,350.0 482.9,356.0 482.5,365.0 482.1,374.0 481.1,383.0 480.5,392.0 479.9,400.0 479.9,401.0 479.7,402.0 478.6,410.0 477.1,419.0 475.9,428.0 474.7,437.0 473.3,446.0 472.0,455.0 471.2,460.0 470.9,464.0 470.2,473.0 469.4,482.0 469.0,488.0 468.4,491.0 467.0,500.0 465.5,509.0 464.1,518.0 462.7,527.0 461.2,536.0 459.7,545.0 458.3,554.0 457.8,563.0 457.3,572.0 457.1,576.0 456.7,581.0 456.2,590.0 455.7,599.0 455.1,608.0 454.6,617.0 454.1,626.0 453.8,629.0 453.8,635.0 453.6,644.0 453.4,653.0 453.2,662.0 452.9,671.0 452.7,680.0 452.7,689.0 452.7,698.0 452.7,707.0 452.7,716.0 452.6,725.0 452.5,734.0 452.6,743.0 452.5,751.6 452.5,751.8"/><polyline points="609.0,55.0 608.7,55.2 606.0,57.0 602.8,58.0 598.9,59.2 593.0,61.0 591.1,62.0 588.8,63.2 583.6,66.0 583.0,66.3 587.4,67.2 600.9,70.0 606.7,71.2 612.0,72.3 636.1,75.0 637.9,75.2 645.0,76.0 678.0,79.2 679.0,79.3 706.6,82.6 701.9,83.2 690.0,84.7 689.0,86.4 686.3,87.2 680.2,89.0 672.7,91.2 669.0,92.3 676.7,95.2 684.2,98.0 685.0,98.3 683.2,99.2 675.4,103.2 668.0,107.0 667.7,107.2 661.1,111.2 654.5,115.2 653.2,116.0 652.0,116.7 651.1,119.2 649.7,123.2 648.3,127.2 648.0,128.0 647.3,130.0 646.9,131.2 645.5,135.2 644.2,139.2 644.0,139.7 643.6,140.0 631.0,149.0 629.6,150.0 624.0,154.0 618.2,158.0 605.1,167.0 595.0,174.0 592.4,176.0 590.6,177.4 580.9,185.0 571.9,192.0 569.3,194.0 568.0,195.0 554.9,203.0 540.1,212.0 534.3,215.5 534.0,215.7 525.2,221.0 514.8,227.2 510.2,230.0 508.5,231.0 504.0,239.0 503.4,240.0 501.1,248.0 500.0,252.0 498.9,257.0 496.9,266.0 496.8,266.3 496.0,270.0 495.0,275.0 493.2,284.0 491.4,293.0 490.0,300.0 489.8,302.0 488.7,311.0 487.6,320.0 486.5,329.0 486.4,330.0 485.4,338.0 484.4,347.0 484.0,350.0 483.5,356.0 482.8,365.0 482.2,374.0 481.5,383.0 480.8,392.0 480.2,400.0 480.1,401.0 480.0,402.0 478.8,410.0 477.5,419.0 476.1,428.0 474.8,437.0 473.5,446.0 472.1,455.0 471.4,460.0 471.1,464.0 470.3,473.0 469.5,482.0 469.0,488.0 468.5,491.0 467.1,500.0 465.6,509.0 464.2,518.0 462.7,527.0 461.3,536.0 459.8,545.0 458.4,554.0 457.9,563.0 457.3,572.0 457.1,576.0 456.8,581.0 456.3,590.0 455.8,599.0 455.2,608.0 454.7,617.0 454.2,626.0 454.0,629.0 453.9,635.0 453.6,644.0 453.4,653.0 453.2,662.0 453.0,671.0 452.8,680.0 452.8,689.0 452.7,698.0 452.7,707.0 452.7,716.0 452.7,725.0 452.6,734.0 452.6,743.0 452.6,751.6 452.6,751.8"/></g><line x1="154" y1="57.6" x2="265" y2="57.2" stroke="#b4b5b4" stroke-width="1"/><g fill="none" stroke="#b4b5b4" stroke-width="0.9"><polyline points="221.0,55.5 221.4,59.0 223.5,62.0 230.0,65.5 240.0,67.5 252.0,68.5"/><polyline points="221.2,59.0 218.0,63.0 212.0,67.0 205.0,70.5"/><polyline points="242.5,55.5 243.0,59.0 246.0,62.5 253.0,65.5 263.0,67.0"/><polyline points="256.0,55.5 256.5,59.0 259.0,62.0 265.0,64.0"/><polyline points="260.0,55.5 261.0,58.5 264.0,61.0"/></g><g fill="none" stroke-width="4.8" stroke-linejoin="round"><polyline points="464.3,53.8 462.9,58.6 457.1,62.9 440.0,65.7 417.1,68.6 395.7,71.4 386.4,75.7 394.3,80.7 407.1,85.7 410.0,94.3 411.4,100.0 417.1,114.3 422.9,130.0 427.9,148.6 431.8,169.3 437.9,201.1 442.0,237.8 444.3,280.0 445.9,319.0 445.6,358.0 445.4,436.0 445.0,470.0 445.0,751.8" stroke="#b54f9f"/><polyline points="514.0,53.8 514.6,59.0 515.5,64.5 517.0,68.5 517.6,70.5 511.4,74.3 488.6,78.6 482.9,82.9 488.6,88.6 492.1,98.6 485.7,108.6 477.1,124.3 471.4,138.6 468.6,148.6 463.5,169.3 455.0,201.1 450.6,232.9 449.8,262.2 450.5,319.0 450.0,358.0 449.3,436.0 449.1,450.0 448.5,560.0 447.8,708.0 447.9,751.8" stroke="#ec1c24"/><polyline points="468.6,53.8 468.6,58.6 474.3,64.3 488.6,67.9 517.1,72.8 535.7,76.3 542.6,79.3 535.7,82.1 518.6,87.1 515.7,92.9 515.7,98.6 510.0,107.1 495.7,124.3 488.6,135.7 482.1,148.6 475.8,169.3 463.5,201.1 456.2,232.9 452.5,262.2 449.6,280.0 445.9,319.0 445.6,358.0 445.4,436.0 444.9,450.0 445.2,560.0 445.6,708.0 446.2,751.8" stroke="#67bb45"/><polyline points="370.0,53.8 370.7,58.6 374.3,64.3 384.3,70.7 398.6,76.4 405.7,81.4 404.3,86.4 400.0,90.7 398.6,97.9 402.9,105.7 410.0,117.1 415.7,130.0 420.0,142.9 426.9,169.3 434.2,201.1 439.1,232.9 439.6,262.2 439.3,290.0 439.3,319.0 439.8,358.0 440.3,436.0 440.6,470.0 441.5,560.0 442.2,708.0 442.3,751.8" stroke="#3853a4"/></g><g fill="none" stroke-width="3.5" stroke-linejoin="round"><polyline points="1127.0,54.4 1129.7,60.9 1133.0,64.0 1137.1,66.4 1154.0,69.4 1183.0,75.3 1185.5,78.0 1187.4,81.3 1189.7,89.3 1195.4,99.6 1191.0,108.7 1180.0,123.6 1168.6,138.4 1154.2,160.0 1134.7,179.5 1122.0,196.1 1109.3,211.8 1100.5,226.4 1094.6,240.0 1083.8,264.4 1076.9,290.0 1074.3,303.7 1071.8,333.0 1069.4,372.0 1069.0,450.0 1068.4,557.0 1068.0,635.0 1067.5,680.0 1068.5,751.6" stroke="#ec1c24"/><polyline points="815.4,54.4 816.9,58.7 822.6,63.0 834.0,65.9 846.9,67.3 856.9,68.0 950.0,76.0 996.9,78.5 1018.3,83.0 1025.1,90.4 1054.0,99.4 1074.3,105.3 1080.0,107.6 1108.0,123.6 1126.3,140.7 1130.3,159.0 1128.5,168.0 1125.9,177.6 1117.1,194.2 1106.4,211.8 1097.6,226.4 1090.7,240.0 1076.9,264.4 1063.2,290.0 1059.6,298.8 1049.9,333.0 1049.4,367.2 1051.1,406.3 1053.5,450.0 1054.7,557.3 1055.5,635.5 1055.9,680.0 1056.9,751.6" stroke="#b54f9f"/><polyline points="890.4,54.4 895.4,58.0 904.0,60.9 925.4,63.0 954.0,65.1 1011.0,69.4 1054.0,70.1 1096.9,70.9 1120.0,71.6 1154.0,72.3 1200.0,73.3 1225.4,73.7 1282.6,75.1 1313.3,78.7 1282.6,81.1 1225.4,85.9 1200.0,88.1 1182.6,90.1 1154.3,93.9 1125.4,98.7 1097.1,106.4 1080.0,111.0 1051.4,122.4 1040.0,128.1 1028.6,135.0 1018.9,141.9 1006.3,160.1 1007.4,178.4 1021.1,209.3 1028.2,220.0 1033.3,230.3 1037.6,258.5 1038.0,290.0 1037.7,298.8 1032.3,333.0 1038.9,367.2 1041.3,408.7 1044.5,450.0 1046.9,487.0 1052.8,557.3 1058.6,635.5 1059.5,680.0 1062.0,751.6" stroke="#000000"/><polyline points="1124.0,54.4 1118.3,57.3 1111.1,59.4 1082.6,62.3 1025.4,64.4 954.0,66.1 854.0,69.1 782.6,70.9 756.9,72.5 774.0,76.6 839.7,77.3 911.0,78.7 954.0,78.9 1054.0,80.1 1154.0,82.3 1200.0,83.0 1211.0,84.4 1254.0,87.3 1251.0,90.1 1220.0,94.0 1200.0,96.0 1170.0,99.0 1126.0,107.6 1101.0,117.5 1061.0,135.0 1046.0,143.0 1025.7,160.1 1018.9,177.3 1028.0,200.1 1035.9,220.0 1051.3,250.0 1070.1,290.0 1088.9,333.0 1093.8,401.4 1092.7,440.0 1089.9,490.8 1078.2,572.9 1074.3,635.5 1073.2,680.0 1071.7,751.6" stroke="#3853a4"/><polyline points="1144.0,54.4 1137.0,64.1 1120.0,68.7 1068.3,72.3 996.9,73.7 954.0,75.5 920.0,77.3 908.3,80.1 920.0,81.3 954.0,83.0 990.0,86.0 1030.0,89.0 1080.0,94.5 1100.0,97.5 1111.0,101.0 1124.5,107.0 1126.5,113.0 1126.5,124.7 1111.4,143.0 1100.0,152.1 1092.0,160.1 1066.9,179.6 1041.7,194.4 1011.1,220.0 1000.0,228.5 984.0,250.0 974.2,264.2 981.5,298.8 998.6,333.0 1013.2,367.2 1025.4,403.8 1038.9,450.0 1048.9,486.9 1054.7,557.3 1062.5,635.5 1063.0,680.0 1066.4,751.6" stroke="#68cadb"/><polyline points="1209.7,54.4 1204.0,57.3 1189.7,60.1 1168.3,62.3 1154.0,63.0 1054.0,65.9 954.0,69.4 849.7,72.5 954.0,74.4 1054.0,75.9 1154.0,78.0 1239.7,79.4 1282.6,80.1 1326.0,82.7 1296.9,83.0 1239.7,85.1 1200.0,87.0 1154.0,88.0 1054.0,90.9 954.0,96.6 934.5,98.4 942.9,106.4 1009.7,124.7 1078.3,143.0 1122.5,159.5 1135.0,176.1 1124.9,194.2 1104.4,206.9 1088.9,218.5 1074.4,229.4 1051.3,250.0 1036.8,263.6 1031.6,290.0 1029.8,298.8 1034.0,333.0 1042.5,367.2 1049.9,406.3 1054.7,450.0 1061.8,490.8 1064.5,557.3 1066.5,635.5 1068.3,680.0 1070.1,751.6" stroke="#67bb45"/></g><g opacity="0.999"><g fill="#262626" font-size="23.3"><text x="79.9" y="65.0" text-anchor="end">0</text><text x="79.9" y="134.7" text-anchor="end">200</text><text x="79.9" y="204.3" text-anchor="end">400</text><text x="79.9" y="274.0" text-anchor="end">600</text><text x="79.9" y="343.7" text-anchor="end">800</text><text x="79.9" y="413.3" text-anchor="end">1000</text><text x="79.9" y="483.0" text-anchor="end">1200</text><text x="79.9" y="552.7" text-anchor="end">1400</text><text x="79.9" y="622.4" text-anchor="end">1600</text><text x="79.9" y="692.0" text-anchor="end">1800</text><text x="79.9" y="761.7" text-anchor="end">2000</text><text x="88.1" y="784.4" text-anchor="middle">-20</text><text x="177.3" y="784.4" text-anchor="middle">-15</text><text x="266.5" y="784.4" text-anchor="middle">-10</text><text x="355.7" y="784.4" text-anchor="middle">-5</text><text x="444.8" y="784.4" text-anchor="middle">0</text><text x="534.0" y="784.4" text-anchor="middle">5</text><text x="623.2" y="784.4" text-anchor="middle">10</text><text x="712.4" y="784.4" text-anchor="middle">15</text><text x="754.5" y="784.4" text-anchor="middle">-0.15</text><text x="858.5" y="784.4" text-anchor="middle">-0.1</text><text x="962.5" y="784.4" text-anchor="middle">-0.05</text><text x="1066.5" y="784.4" text-anchor="middle">0</text><text x="1170.5" y="784.4" text-anchor="middle">0.05</text><text x="1274.5" y="784.4" text-anchor="middle">0.1</text><text x="1378.5" y="784.4" text-anchor="middle">0.15</text></g><text x="400.2" y="815.6" text-anchor="middle" font-size="23.7" fill="#262626">deviated SSP (m/s)</text><text x="1066.5" y="815.6" text-anchor="middle" font-size="23.7" fill="#262626">deviated SSP (m/s)</text><text transform="translate(17.4,403.6) rotate(-90)" text-anchor="middle" font-size="23.7" fill="#262626">Depth (m)</text><text transform="translate(45.6,24) scale(1.07,1)" font-size="28.5" fill="#0a0a0a">A</text><text x="722.6" y="24" font-size="29" fill="#0a0a0a">B</text><rect x="548.2" y="633.4" width="150.5999999999999" height="105.89999999999998" fill="#fff" stroke="#5a5a5a" stroke-width="1.2"/><line x1="553.4" y1="647.9" x2="603.8" y2="647.9" stroke="#b54f9f" stroke-width="4.2"/><text transform="translate(607.9,656.7) scale(0.98,1)" font-size="22" fill="#000">Spring</text><line x1="553.4" y1="673.5" x2="603.8" y2="673.5" stroke="#ec1c24" stroke-width="4.2"/><text transform="translate(607.9,682.3) scale(0.957,1)" font-size="22" fill="#000">Summer</text><line x1="553.4" y1="698.7" x2="603.8" y2="698.7" stroke="#67bb45" stroke-width="4.2"/><text transform="translate(607.9,707.5) scale(0.97,1)" font-size="22" fill="#000">Autumn</text><line x1="553.4" y1="724.1" x2="603.8" y2="724.1" stroke="#3853a4" stroke-width="4.2"/><text transform="translate(607.9,732.9) scale(0.953,1)" font-size="22" fill="#000">Winter</text><rect x="1245.6" y="582.7" width="119.90000000000009" height="156.19999999999993" fill="#fff" stroke="#5a5a5a" stroke-width="1.2"/><line x1="1250.7" y1="597.3" x2="1301.2" y2="597.3" stroke="#ec1c24" stroke-width="3.5"/><text transform="translate(1305.8,606.1) scale(0.925,1)" font-size="22" fill="#000">EOF1</text><line x1="1250.7" y1="622.65" x2="1301.2" y2="622.65" stroke="#b54f9f" stroke-width="3.5"/><text transform="translate(1305.8,631.4) scale(0.925,1)" font-size="22" fill="#000">EOF2</text><line x1="1250.7" y1="648.0" x2="1301.2" y2="648.0" stroke="#000000" stroke-width="3.5"/><text transform="translate(1305.8,656.8) scale(0.925,1)" font-size="22" fill="#000">EOF3</text><line x1="1250.7" y1="673.35" x2="1301.2" y2="673.35" stroke="#3853a4" stroke-width="3.5"/><text transform="translate(1305.8,682.1) scale(0.925,1)" font-size="22" fill="#000">EOF4</text><line x1="1250.7" y1="698.7" x2="1301.2" y2="698.7" stroke="#68cadb" stroke-width="3.5"/><text transform="translate(1305.8,707.5) scale(0.925,1)" font-size="22" fill="#000">EOF5</text><line x1="1250.7" y1="724.05" x2="1301.2" y2="724.05" stroke="#67bb45" stroke-width="3.5"/><text transform="translate(1305.8,732.8) scale(0.925,1)" font-size="22" fill="#000">EOF6</text></g></svg></body></html>
